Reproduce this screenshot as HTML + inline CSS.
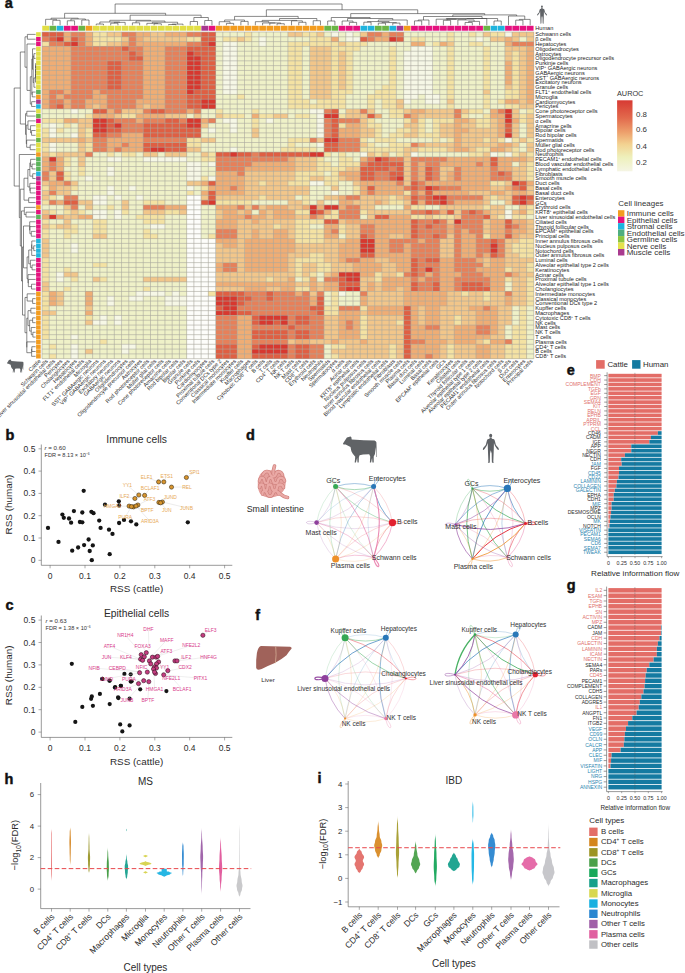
<!DOCTYPE html>
<html><head><meta charset="utf-8"><title>Figure</title>
<style>html,body{margin:0;padding:0;background:#fff;} svg{display:block;} text{font-family:"Liberation Sans",sans-serif;}</style>
</head><body>
<svg width="685" height="973" viewBox="0 0 685 973" font-family="Liberation Sans, sans-serif">
<rect width="685" height="973" fill="#fff"/>
<text x="4.8" y="8.1" font-size="14.5" font-weight="bold" fill="#111" stroke="#111" stroke-width="0.45">a</text>
<g transform="translate(42.0,32.0) scale(7.23235,4.80441)" shape-rendering="crispEdges">
<path fill="#f6f7e6" d="M40,0h1v1h-1zM42,0h1v1h-1zM64,0h1v1h-1zM30,1h1v1h-1zM42,1h2v1h-2zM60,1h1v1h-1zM25,2h2v1h-2zM30,2h1v1h-1zM25,3h2v1h-2zM51,3h3v1h-3zM25,4h2v1h-2zM50,4h4v1h-4zM25,5h2v1h-2zM50,5h4v1h-4zM25,6h2v1h-2zM50,6h4v1h-4zM25,7h2v1h-2zM50,7h4v1h-4zM25,8h2v1h-2zM50,8h4v1h-4zM25,9h2v1h-2zM50,9h4v1h-4zM25,10h2v1h-2zM50,10h4v1h-4zM25,11h2v1h-2zM50,11h4v1h-4zM25,12h2v1h-2zM50,12h4v1h-4zM50,13h2v1h-2zM53,13h2v1h-2zM50,14h1v1h-1zM53,14h2v1h-2zM4,16h1v1h-1zM37,16h2v1h-2zM38,17h1v1h-1zM25,18h2v1h-2zM31,18h1v1h-1zM38,18h1v1h-1zM1,19h1v1h-1zM26,19h1v1h-1zM38,19h1v1h-1zM1,20h1v1h-1zM23,20h1v1h-1zM26,20h1v1h-1zM38,20h1v1h-1zM1,21h1v1h-1zM4,21h1v1h-1zM38,21h1v1h-1zM64,22h1v1h-1zM1,23h1v1h-1zM38,23h1v1h-1zM1,24h1v1h-1zM26,24h1v1h-1zM44,25h1v1h-1zM51,25h1v1h-1zM62,25h1v1h-1zM64,25h1v1h-1zM9,26h2v1h-2zM14,26h6v1h-6zM20,27h2v1h-2zM23,27h1v1h-1zM9,28h1v1h-1zM20,28h2v1h-2zM9,29h1v1h-1zM20,29h2v1h-2zM6,30h1v1h-1zM20,30h2v1h-2zM23,30h1v1h-1zM37,31h2v1h-2zM9,32h1v1h-1zM12,32h1v1h-1zM20,32h1v1h-1zM9,33h1v1h-1zM40,33h1v1h-1zM7,34h2v1h-2zM10,34h1v1h-1zM13,34h1v1h-1zM7,35h2v1h-2zM7,37h2v1h-2zM10,37h1v1h-1zM64,37h1v1h-1zM7,38h2v1h-2zM10,38h1v1h-1zM64,38h1v1h-1zM15,40h2v1h-2zM4,44h1v1h-1zM4,45h1v1h-1zM2,50h1v1h-1zM2,51h1v1h-1zM13,54h4v1h-4zM18,54h1v1h-1zM41,54h1v1h-1zM9,55h1v1h-1zM12,55h2v1h-2zM17,55h3v1h-3zM9,56h1v1h-1zM17,56h3v1h-3zM8,59h1v1h-1zM10,59h1v1h-1zM7,60h2v1h-2zM10,60h1v1h-1zM4,63h1v1h-1zM4,65h1v1h-1zM11,65h2v1h-2zM4,66h1v1h-1zM11,66h1v1h-1zM4,67h1v1h-1z"/>
<path fill="#eff1c8" d="M24,0h4v1h-4zM29,0h5v1h-5zM39,0h1v1h-1zM41,0h1v1h-1zM43,0h1v1h-1zM50,0h6v1h-6zM57,0h2v1h-2zM60,0h1v1h-1zM24,1h1v1h-1zM29,1h1v1h-1zM31,1h6v1h-6zM41,1h1v1h-1zM50,1h1v1h-1zM53,1h3v1h-3zM57,1h3v1h-3zM61,1h1v1h-1zM66,1h1v1h-1zM24,2h1v1h-1zM27,2h3v1h-3zM31,2h3v1h-3zM45,2h6v1h-6zM53,2h1v1h-1zM57,2h2v1h-2zM61,2h3v1h-3zM24,3h1v1h-1zM27,3h7v1h-7zM36,3h1v1h-1zM44,3h4v1h-4zM49,3h2v1h-2zM54,3h2v1h-2zM57,3h4v1h-4zM62,3h2v1h-2zM24,4h1v1h-1zM27,4h7v1h-7zM36,4h1v1h-1zM43,4h5v1h-5zM49,4h1v1h-1zM54,4h2v1h-2zM57,4h4v1h-4zM62,4h2v1h-2zM24,5h1v1h-1zM27,5h7v1h-7zM36,5h1v1h-1zM43,5h5v1h-5zM49,5h1v1h-1zM54,5h2v1h-2zM57,5h4v1h-4zM62,5h2v1h-2zM24,6h1v1h-1zM27,6h7v1h-7zM36,6h1v1h-1zM43,6h5v1h-5zM49,6h1v1h-1zM54,6h2v1h-2zM57,6h4v1h-4zM62,6h2v1h-2zM24,7h1v1h-1zM27,7h7v1h-7zM36,7h1v1h-1zM43,7h5v1h-5zM49,7h1v1h-1zM54,7h2v1h-2zM57,7h4v1h-4zM62,7h2v1h-2zM24,8h1v1h-1zM27,8h7v1h-7zM36,8h1v1h-1zM43,8h5v1h-5zM49,8h1v1h-1zM54,8h2v1h-2zM57,8h4v1h-4zM62,8h2v1h-2zM24,9h1v1h-1zM27,9h7v1h-7zM36,9h1v1h-1zM43,9h5v1h-5zM49,9h1v1h-1zM54,9h2v1h-2zM57,9h4v1h-4zM62,9h2v1h-2zM24,10h1v1h-1zM27,10h7v1h-7zM36,10h1v1h-1zM43,10h5v1h-5zM49,10h1v1h-1zM54,10h2v1h-2zM57,10h4v1h-4zM62,10h2v1h-2zM24,11h1v1h-1zM27,11h7v1h-7zM36,11h1v1h-1zM43,11h4v1h-4zM49,11h1v1h-1zM54,11h2v1h-2zM57,11h4v1h-4zM62,11h2v1h-2zM24,12h1v1h-1zM27,12h7v1h-7zM36,12h1v1h-1zM43,12h3v1h-3zM49,12h1v1h-1zM54,12h2v1h-2zM57,12h4v1h-4zM62,12h2v1h-2zM24,13h3v1h-3zM28,13h6v1h-6zM36,13h1v1h-1zM42,13h3v1h-3zM49,13h1v1h-1zM52,13h1v1h-1zM55,13h1v1h-1zM57,13h4v1h-4zM62,13h2v1h-2zM24,14h10v1h-10zM37,14h1v1h-1zM42,14h3v1h-3zM46,14h1v1h-1zM51,14h2v1h-2zM55,14h1v1h-1zM57,14h4v1h-4zM62,14h1v1h-1zM24,15h10v1h-10zM42,15h3v1h-3zM46,15h1v1h-1zM50,15h6v1h-6zM57,15h4v1h-4zM62,15h2v1h-2zM0,16h4v1h-4zM5,16h2v1h-2zM22,16h2v1h-2zM25,16h4v1h-4zM30,16h7v1h-7zM41,16h1v1h-1zM46,16h2v1h-2zM61,16h1v1h-1zM66,16h1v1h-1zM0,17h6v1h-6zM20,17h1v1h-1zM22,17h2v1h-2zM28,17h1v1h-1zM34,17h1v1h-1zM37,17h1v1h-1zM47,17h1v1h-1zM59,17h2v1h-2zM24,18h1v1h-1zM27,18h2v1h-2zM30,18h1v1h-1zM32,18h6v1h-6zM46,18h4v1h-4zM53,18h1v1h-1zM0,19h1v1h-1zM2,19h1v1h-1zM4,19h1v1h-1zM23,19h3v1h-3zM27,19h2v1h-2zM30,19h8v1h-8zM47,19h3v1h-3zM53,19h1v1h-1zM66,19h1v1h-1zM3,20h2v1h-2zM22,20h1v1h-1zM24,20h2v1h-2zM27,20h2v1h-2zM30,20h8v1h-8zM47,20h2v1h-2zM53,20h1v1h-1zM66,20h1v1h-1zM2,21h2v1h-2zM22,21h7v1h-7zM30,21h8v1h-8zM47,21h1v1h-1zM66,21h1v1h-1zM24,22h10v1h-10zM45,22h1v1h-1zM49,22h5v1h-5zM55,22h1v1h-1zM2,23h3v1h-3zM22,23h12v1h-12zM35,23h3v1h-3zM46,23h2v1h-2zM66,23h1v1h-1zM2,24h3v1h-3zM22,24h4v1h-4zM27,24h6v1h-6zM38,24h1v1h-1zM66,24h1v1h-1zM7,25h2v1h-2zM10,25h1v1h-1zM13,25h1v1h-1zM16,25h1v1h-1zM20,25h2v1h-2zM40,25h1v1h-1zM42,25h2v1h-2zM48,25h1v1h-1zM52,25h7v1h-7zM63,25h1v1h-1zM4,26h1v1h-1zM6,26h3v1h-3zM11,26h3v1h-3zM20,26h2v1h-2zM39,26h2v1h-2zM43,26h1v1h-1zM4,27h1v1h-1zM6,27h14v1h-14zM22,27h1v1h-1zM40,27h1v1h-1zM65,27h1v1h-1zM3,28h2v1h-2zM6,28h3v1h-3zM10,28h10v1h-10zM22,28h2v1h-2zM4,29h1v1h-1zM6,29h3v1h-3zM10,29h10v1h-10zM22,29h2v1h-2zM39,29h1v1h-1zM4,30h2v1h-2zM7,30h13v1h-13zM5,31h15v1h-15zM41,31h2v1h-2zM5,32h4v1h-4zM10,32h2v1h-2zM13,32h7v1h-7zM21,32h1v1h-1zM37,32h3v1h-3zM41,32h2v1h-2zM4,33h5v1h-5zM10,33h10v1h-10zM21,33h1v1h-1zM37,33h3v1h-3zM41,33h2v1h-2zM2,34h1v1h-1zM5,34h2v1h-2zM9,34h1v1h-1zM11,34h2v1h-2zM14,34h6v1h-6zM35,34h1v1h-1zM37,34h2v1h-2zM9,35h2v1h-2zM12,35h2v1h-2zM17,35h3v1h-3zM29,35h5v1h-5zM37,35h1v1h-1zM39,35h2v1h-2zM62,35h2v1h-2zM0,36h3v1h-3zM5,36h1v1h-1zM7,36h2v1h-2zM10,36h1v1h-1zM12,36h2v1h-2zM22,36h2v1h-2zM46,36h4v1h-4zM53,36h2v1h-2zM64,36h2v1h-2zM2,37h1v1h-1zM6,37h1v1h-1zM9,37h1v1h-1zM12,37h2v1h-2zM22,37h2v1h-2zM29,37h1v1h-1zM9,38h1v1h-1zM11,38h2v1h-2zM17,38h3v1h-3zM22,38h2v1h-2zM44,38h1v1h-1zM67,38h1v1h-1zM1,39h2v1h-2zM4,39h3v1h-3zM9,39h5v1h-5zM17,39h3v1h-3zM22,39h2v1h-2zM5,40h2v1h-2zM9,40h6v1h-6zM17,40h3v1h-3zM22,40h2v1h-2zM37,40h2v1h-2zM1,41h2v1h-2zM5,41h2v1h-2zM9,41h5v1h-5zM15,41h5v1h-5zM22,41h2v1h-2zM1,42h2v1h-2zM4,42h3v1h-3zM9,42h5v1h-5zM16,42h4v1h-4zM22,42h1v1h-1zM41,42h1v1h-1zM1,43h19v1h-19zM1,44h3v1h-3zM5,44h15v1h-15zM1,45h3v1h-3zM5,45h15v1h-15zM1,46h19v1h-19zM1,47h19v1h-19zM1,48h6v1h-6zM9,48h11v1h-11zM1,49h2v1h-2zM4,49h16v1h-16zM1,50h1v1h-1zM5,50h15v1h-15zM38,50h1v1h-1zM1,51h1v1h-1zM3,51h1v1h-1zM5,51h2v1h-2zM9,51h5v1h-5zM35,51h1v1h-1zM38,51h1v1h-1zM1,52h19v1h-19zM64,52h1v1h-1zM1,53h2v1h-2zM4,53h10v1h-10zM15,53h5v1h-5zM64,53h1v1h-1zM3,54h3v1h-3zM7,54h6v1h-6zM17,54h1v1h-1zM19,54h1v1h-1zM39,54h1v1h-1zM42,54h2v1h-2zM3,55h3v1h-3zM7,55h2v1h-2zM10,55h2v1h-2zM14,55h3v1h-3zM39,55h1v1h-1zM41,55h3v1h-3zM3,56h3v1h-3zM7,56h2v1h-2zM10,56h7v1h-7zM39,56h1v1h-1zM41,56h3v1h-3zM1,57h5v1h-5zM7,57h13v1h-13zM65,57h1v1h-1zM67,57h1v1h-1zM2,58h4v1h-4zM7,58h13v1h-13zM65,58h1v1h-1zM67,58h1v1h-1zM1,59h5v1h-5zM7,59h1v1h-1zM9,59h1v1h-1zM11,59h9v1h-9zM65,59h1v1h-1zM67,59h1v1h-1zM1,60h5v1h-5zM9,60h1v1h-1zM11,60h9v1h-9zM65,60h1v1h-1zM67,60h1v1h-1zM1,61h19v1h-19zM64,61h1v1h-1zM67,61h1v1h-1zM1,62h19v1h-19zM64,62h1v1h-1zM67,62h1v1h-1zM1,63h3v1h-3zM5,63h15v1h-15zM64,63h1v1h-1zM67,63h1v1h-1zM0,64h8v1h-8zM9,64h11v1h-11zM67,64h1v1h-1zM0,65h1v1h-1zM2,65h2v1h-2zM5,65h6v1h-6zM13,65h7v1h-7zM39,65h1v1h-1zM67,65h1v1h-1zM0,66h4v1h-4zM5,66h1v1h-1zM7,66h4v1h-4zM12,66h8v1h-8zM39,66h1v1h-1zM67,66h1v1h-1zM0,67h1v1h-1zM2,67h2v1h-2zM5,67h15v1h-15zM39,67h1v1h-1zM67,67h1v1h-1z"/>
<path fill="#f4e2a3" d="M7,0h2v1h-2zM28,0h1v1h-1zM36,0h2v1h-2zM56,0h1v1h-1zM59,0h1v1h-1zM62,0h2v1h-2zM7,1h4v1h-4zM20,1h2v1h-2zM25,1h2v1h-2zM28,1h1v1h-1zM37,1h3v1h-3zM51,1h2v1h-2zM56,1h1v1h-1zM0,2h1v1h-1zM7,2h2v1h-2zM34,2h7v1h-7zM42,2h3v1h-3zM54,2h1v1h-1zM59,2h2v1h-2zM34,3h2v1h-2zM40,3h4v1h-4zM48,3h1v1h-1zM56,3h1v1h-1zM61,3h1v1h-1zM34,4h2v1h-2zM40,4h1v1h-1zM42,4h1v1h-1zM48,4h1v1h-1zM56,4h1v1h-1zM61,4h1v1h-1zM65,4h1v1h-1zM34,5h2v1h-2zM40,5h1v1h-1zM42,5h1v1h-1zM48,5h1v1h-1zM56,5h1v1h-1zM61,5h1v1h-1zM65,5h1v1h-1zM34,6h2v1h-2zM40,6h1v1h-1zM42,6h1v1h-1zM48,6h1v1h-1zM56,6h1v1h-1zM61,6h1v1h-1zM65,6h1v1h-1zM34,7h2v1h-2zM40,7h1v1h-1zM42,7h1v1h-1zM48,7h1v1h-1zM56,7h1v1h-1zM61,7h1v1h-1zM65,7h1v1h-1zM34,8h2v1h-2zM40,8h1v1h-1zM42,8h1v1h-1zM48,8h1v1h-1zM56,8h1v1h-1zM61,8h1v1h-1zM65,8h1v1h-1zM34,9h2v1h-2zM40,9h1v1h-1zM42,9h1v1h-1zM48,9h1v1h-1zM56,9h1v1h-1zM61,9h1v1h-1zM65,9h1v1h-1zM34,10h2v1h-2zM40,10h1v1h-1zM42,10h1v1h-1zM48,10h1v1h-1zM56,10h1v1h-1zM61,10h1v1h-1zM65,10h1v1h-1zM34,11h2v1h-2zM40,11h1v1h-1zM42,11h1v1h-1zM47,11h2v1h-2zM56,11h1v1h-1zM61,11h1v1h-1zM65,11h1v1h-1zM34,12h2v1h-2zM40,12h3v1h-3zM46,12h3v1h-3zM56,12h1v1h-1zM64,12h2v1h-2zM27,13h1v1h-1zM34,13h2v1h-2zM40,13h2v1h-2zM45,13h4v1h-4zM56,13h1v1h-1zM61,13h1v1h-1zM64,13h2v1h-2zM34,14h3v1h-3zM38,14h4v1h-4zM45,14h1v1h-1zM47,14h2v1h-2zM61,14h1v1h-1zM63,14h1v1h-1zM34,15h8v1h-8zM45,15h1v1h-1zM47,15h2v1h-2zM56,15h1v1h-1zM61,15h1v1h-1zM64,15h2v1h-2zM24,16h1v1h-1zM29,16h1v1h-1zM48,16h2v1h-2zM59,16h2v1h-2zM67,16h1v1h-1zM6,17h1v1h-1zM11,17h2v1h-2zM25,17h3v1h-3zM30,17h2v1h-2zM35,17h2v1h-2zM41,17h1v1h-1zM48,17h2v1h-2zM58,17h1v1h-1zM61,17h1v1h-1zM66,17h1v1h-1zM0,18h3v1h-3zM29,18h1v1h-1zM45,18h1v1h-1zM50,18h1v1h-1zM52,18h1v1h-1zM54,18h3v1h-3zM60,18h2v1h-2zM66,18h1v1h-1zM3,19h1v1h-1zM29,19h1v1h-1zM41,19h1v1h-1zM45,19h2v1h-2zM52,19h1v1h-1zM54,19h1v1h-1zM60,19h2v1h-2zM0,20h1v1h-1zM2,20h1v1h-1zM6,20h1v1h-1zM46,20h1v1h-1zM49,20h2v1h-2zM52,20h1v1h-1zM54,20h1v1h-1zM0,21h1v1h-1zM6,21h1v1h-1zM46,21h1v1h-1zM48,21h2v1h-2zM52,21h3v1h-3zM20,22h2v1h-2zM34,22h3v1h-3zM44,22h1v1h-1zM46,22h3v1h-3zM54,22h1v1h-1zM56,22h1v1h-1zM61,22h1v1h-1zM63,22h1v1h-1zM65,22h1v1h-1zM67,22h1v1h-1zM0,23h1v1h-1zM6,23h1v1h-1zM20,23h2v1h-2zM34,23h1v1h-1zM45,23h1v1h-1zM48,23h3v1h-3zM0,24h1v1h-1zM6,24h1v1h-1zM33,24h5v1h-5zM44,24h6v1h-6zM52,24h4v1h-4zM60,24h2v1h-2zM65,24h1v1h-1zM1,25h1v1h-1zM9,25h1v1h-1zM11,25h2v1h-2zM23,25h1v1h-1zM39,25h1v1h-1zM41,25h1v1h-1zM46,25h1v1h-1zM49,25h1v1h-1zM59,25h2v1h-2zM65,25h1v1h-1zM67,25h1v1h-1zM3,26h1v1h-1zM22,26h2v1h-2zM38,26h1v1h-1zM41,26h2v1h-2zM3,27h1v1h-1zM38,27h2v1h-2zM41,27h3v1h-3zM67,27h1v1h-1zM5,28h1v1h-1zM38,28h4v1h-4zM67,28h1v1h-1zM3,29h1v1h-1zM5,29h1v1h-1zM35,29h4v1h-4zM40,29h1v1h-1zM67,29h1v1h-1zM3,30h1v1h-1zM22,30h1v1h-1zM35,30h2v1h-2zM39,30h2v1h-2zM67,30h1v1h-1zM30,31h1v1h-1zM34,31h3v1h-3zM39,31h2v1h-2zM62,31h2v1h-2zM0,32h1v1h-1zM4,32h1v1h-1zM22,32h1v1h-1zM43,32h1v1h-1zM20,33h1v1h-1zM43,33h1v1h-1zM50,33h1v1h-1zM1,34h1v1h-1zM30,34h1v1h-1zM36,34h1v1h-1zM48,34h1v1h-1zM62,34h1v1h-1zM0,35h1v1h-1zM14,35h3v1h-3zM24,35h5v1h-5zM36,35h1v1h-1zM48,35h2v1h-2zM9,36h1v1h-1zM51,36h2v1h-2zM61,36h1v1h-1zM67,36h1v1h-1zM1,37h1v1h-1zM3,37h1v1h-1zM5,37h1v1h-1zM11,37h1v1h-1zM17,37h2v1h-2zM35,37h2v1h-2zM40,37h1v1h-1zM44,37h1v1h-1zM67,37h1v1h-1zM13,38h4v1h-4zM39,38h2v1h-2zM51,38h2v1h-2zM54,38h3v1h-3zM63,38h1v1h-1zM65,38h2v1h-2zM0,39h1v1h-1zM7,39h2v1h-2zM14,39h3v1h-3zM35,39h4v1h-4zM1,40h1v1h-1zM4,40h1v1h-1zM7,40h2v1h-2zM32,40h1v1h-1zM35,40h2v1h-2zM41,40h1v1h-1zM0,41h1v1h-1zM3,41h2v1h-2zM7,41h2v1h-2zM14,41h1v1h-1zM35,41h4v1h-4zM41,41h1v1h-1zM0,42h1v1h-1zM3,42h1v1h-1zM14,42h2v1h-2zM23,42h1v1h-1zM35,42h4v1h-4zM61,42h1v1h-1zM35,43h4v1h-4zM66,43h2v1h-2zM65,44h3v1h-3zM65,45h3v1h-3zM37,46h2v1h-2zM66,46h2v1h-2zM0,47h1v1h-1zM35,47h4v1h-4zM0,48h1v1h-1zM7,48h2v1h-2zM35,48h1v1h-1zM38,48h2v1h-2zM67,48h1v1h-1zM0,49h1v1h-1zM3,49h1v1h-1zM35,49h1v1h-1zM38,49h2v1h-2zM64,49h1v1h-1zM67,49h1v1h-1zM0,50h1v1h-1zM35,50h1v1h-1zM37,50h1v1h-1zM46,50h1v1h-1zM49,50h1v1h-1zM0,51h1v1h-1zM4,51h1v1h-1zM8,51h1v1h-1zM31,51h1v1h-1zM36,51h1v1h-1zM46,51h1v1h-1zM64,51h1v1h-1zM67,51h1v1h-1zM67,52h1v1h-1zM3,53h1v1h-1zM14,53h1v1h-1zM35,53h2v1h-2zM67,53h1v1h-1zM0,54h1v1h-1zM23,54h1v1h-1zM40,54h1v1h-1zM58,54h1v1h-1zM61,54h1v1h-1zM67,54h1v1h-1zM0,55h1v1h-1zM40,55h1v1h-1zM61,55h1v1h-1zM67,55h1v1h-1zM0,56h1v1h-1zM40,56h1v1h-1zM67,56h1v1h-1zM0,57h1v1h-1zM39,57h2v1h-2zM44,57h1v1h-1zM66,57h1v1h-1zM39,58h2v1h-2zM66,58h1v1h-1zM0,59h1v1h-1zM6,59h1v1h-1zM44,59h1v1h-1zM57,59h1v1h-1zM66,59h1v1h-1zM0,60h1v1h-1zM44,60h1v1h-1zM49,60h1v1h-1zM57,60h1v1h-1zM66,60h1v1h-1zM0,61h1v1h-1zM44,61h1v1h-1zM65,61h2v1h-2zM0,62h1v1h-1zM44,62h1v1h-1zM65,62h2v1h-2zM0,63h1v1h-1zM44,63h1v1h-1zM65,63h2v1h-2zM8,64h1v1h-1zM61,64h1v1h-1zM65,64h2v1h-2zM1,65h1v1h-1zM40,65h2v1h-2zM48,65h1v1h-1zM56,65h1v1h-1zM64,65h3v1h-3zM48,66h1v1h-1zM56,66h1v1h-1zM64,66h3v1h-3zM1,67h1v1h-1zM40,67h1v1h-1zM48,67h1v1h-1zM56,67h1v1h-1zM64,67h3v1h-3z"/>
<path fill="#f2c68a" d="M9,0h2v1h-2zM15,0h2v1h-2zM34,0h2v1h-2zM38,0h1v1h-1zM44,0h1v1h-1zM61,0h1v1h-1zM65,0h3v1h-3zM11,1h1v1h-1zM14,1h6v1h-6zM27,1h1v1h-1zM62,1h2v1h-2zM65,1h1v1h-1zM67,1h1v1h-1zM9,2h2v1h-2zM41,2h1v1h-1zM56,2h1v1h-1zM37,3h3v1h-3zM64,3h3v1h-3zM37,4h3v1h-3zM41,4h1v1h-1zM64,4h1v1h-1zM66,4h1v1h-1zM37,5h3v1h-3zM41,5h1v1h-1zM64,5h1v1h-1zM66,5h1v1h-1zM37,6h3v1h-3zM41,6h1v1h-1zM66,6h1v1h-1zM37,7h3v1h-3zM41,7h1v1h-1zM66,7h1v1h-1zM37,8h3v1h-3zM41,8h1v1h-1zM66,8h1v1h-1zM37,9h3v1h-3zM41,9h1v1h-1zM66,9h1v1h-1zM37,10h3v1h-3zM41,10h1v1h-1zM66,10h1v1h-1zM37,11h3v1h-3zM41,11h1v1h-1zM64,11h1v1h-1zM66,11h1v1h-1zM37,12h3v1h-3zM61,12h1v1h-1zM66,12h1v1h-1zM37,13h3v1h-3zM66,13h1v1h-1zM49,14h1v1h-1zM56,14h1v1h-1zM66,14h1v1h-1zM7,15h1v1h-1zM14,15h1v1h-1zM49,15h1v1h-1zM66,15h2v1h-2zM11,16h3v1h-3zM42,16h2v1h-2zM45,16h1v1h-1zM50,16h1v1h-1zM53,16h4v1h-4zM58,16h1v1h-1zM65,16h1v1h-1zM10,17h1v1h-1zM17,17h3v1h-3zM21,17h1v1h-1zM24,17h1v1h-1zM32,17h2v1h-2zM42,17h3v1h-3zM52,17h5v1h-5zM65,17h1v1h-1zM67,17h1v1h-1zM5,18h2v1h-2zM44,18h1v1h-1zM59,18h1v1h-1zM62,18h1v1h-1zM67,18h1v1h-1zM5,19h2v1h-2zM22,19h1v1h-1zM44,19h1v1h-1zM50,19h2v1h-2zM55,19h2v1h-2zM58,19h2v1h-2zM62,19h1v1h-1zM65,19h1v1h-1zM67,19h1v1h-1zM5,20h1v1h-1zM29,20h1v1h-1zM44,20h2v1h-2zM51,20h1v1h-1zM55,20h2v1h-2zM59,20h4v1h-4zM65,20h1v1h-1zM67,20h1v1h-1zM5,21h1v1h-1zM29,21h1v1h-1zM44,21h2v1h-2zM50,21h2v1h-2zM55,21h2v1h-2zM58,21h5v1h-5zM65,21h1v1h-1zM67,21h1v1h-1zM0,22h5v1h-5zM6,22h1v1h-1zM22,22h2v1h-2zM38,22h1v1h-1zM58,22h3v1h-3zM62,22h1v1h-1zM66,22h1v1h-1zM5,23h1v1h-1zM44,23h1v1h-1zM53,23h4v1h-4zM58,23h5v1h-5zM65,23h1v1h-1zM67,23h1v1h-1zM5,24h1v1h-1zM20,24h2v1h-2zM50,24h2v1h-2zM56,24h1v1h-1zM59,24h1v1h-1zM64,24h1v1h-1zM67,24h1v1h-1zM0,25h1v1h-1zM2,25h4v1h-4zM14,25h2v1h-2zM17,25h3v1h-3zM22,25h1v1h-1zM45,25h1v1h-1zM47,25h1v1h-1zM50,25h1v1h-1zM61,25h1v1h-1zM66,25h1v1h-1zM5,26h1v1h-1zM35,26h3v1h-3zM50,26h1v1h-1zM67,26h1v1h-1zM5,27h1v1h-1zM35,27h3v1h-3zM50,27h1v1h-1zM66,27h1v1h-1zM35,28h3v1h-3zM42,28h2v1h-2zM50,28h1v1h-1zM55,28h2v1h-2zM65,28h2v1h-2zM1,29h1v1h-1zM28,29h7v1h-7zM50,29h1v1h-1zM55,29h1v1h-1zM65,29h2v1h-2zM1,30h1v1h-1zM28,30h7v1h-7zM37,30h2v1h-2zM41,30h1v1h-1zM50,30h1v1h-1zM55,30h1v1h-1zM65,30h2v1h-2zM0,31h1v1h-1zM4,31h1v1h-1zM20,31h2v1h-2zM28,31h2v1h-2zM31,31h3v1h-3zM43,31h1v1h-1zM50,31h1v1h-1zM64,31h1v1h-1zM2,32h2v1h-2zM28,32h9v1h-9zM40,32h1v1h-1zM62,32h2v1h-2zM67,32h1v1h-1zM0,33h1v1h-1zM2,33h2v1h-2zM28,33h9v1h-9zM59,33h3v1h-3zM64,33h1v1h-1zM67,33h1v1h-1zM0,34h1v1h-1zM22,34h1v1h-1zM24,34h6v1h-6zM31,34h4v1h-4zM39,34h2v1h-2zM44,34h4v1h-4zM49,34h1v1h-1zM61,34h1v1h-1zM63,34h2v1h-2zM5,35h2v1h-2zM11,35h1v1h-1zM34,35h2v1h-2zM38,35h1v1h-1zM43,35h3v1h-3zM47,35h1v1h-1zM50,35h1v1h-1zM61,35h1v1h-1zM64,35h1v1h-1zM3,36h1v1h-1zM6,36h1v1h-1zM11,36h1v1h-1zM28,36h1v1h-1zM30,36h1v1h-1zM34,36h2v1h-2zM44,36h2v1h-2zM55,36h6v1h-6zM62,36h2v1h-2zM66,36h1v1h-1zM0,37h1v1h-1zM4,37h1v1h-1zM14,37h3v1h-3zM19,37h1v1h-1zM24,37h1v1h-1zM27,37h1v1h-1zM31,37h1v1h-1zM45,37h6v1h-6zM57,37h1v1h-1zM62,37h2v1h-2zM65,37h1v1h-1zM3,38h2v1h-2zM24,38h1v1h-1zM31,38h1v1h-1zM35,38h2v1h-2zM45,38h1v1h-1zM53,38h1v1h-1zM57,38h1v1h-1zM62,38h1v1h-1zM3,39h1v1h-1zM27,39h2v1h-2zM30,39h5v1h-5zM41,39h1v1h-1zM56,39h1v1h-1zM61,39h1v1h-1zM67,39h1v1h-1zM0,40h1v1h-1zM2,40h2v1h-2zM27,40h5v1h-5zM33,40h2v1h-2zM42,40h2v1h-2zM61,40h1v1h-1zM67,40h1v1h-1zM27,41h2v1h-2zM30,41h2v1h-2zM34,41h1v1h-1zM42,41h2v1h-2zM61,41h1v1h-1zM67,41h1v1h-1zM7,42h2v1h-2zM27,42h2v1h-2zM30,42h2v1h-2zM34,42h1v1h-1zM42,42h2v1h-2zM48,42h2v1h-2zM56,42h1v1h-1zM66,42h2v1h-2zM0,43h1v1h-1zM27,43h1v1h-1zM39,43h3v1h-3zM55,43h2v1h-2zM64,43h2v1h-2zM0,44h1v1h-1zM24,44h1v1h-1zM27,44h1v1h-1zM35,44h6v1h-6zM55,44h2v1h-2zM64,44h1v1h-1zM0,45h1v1h-1zM24,45h4v1h-4zM35,45h6v1h-6zM55,45h2v1h-2zM64,45h1v1h-1zM0,46h1v1h-1zM24,46h4v1h-4zM34,46h3v1h-3zM39,46h2v1h-2zM55,46h2v1h-2zM64,46h2v1h-2zM24,47h4v1h-4zM34,47h1v1h-1zM39,47h2v1h-2zM46,47h2v1h-2zM61,47h1v1h-1zM64,47h4v1h-4zM27,48h1v1h-1zM34,48h1v1h-1zM36,48h2v1h-2zM40,48h3v1h-3zM47,48h2v1h-2zM61,48h1v1h-1zM64,48h3v1h-3zM27,49h1v1h-1zM34,49h1v1h-1zM36,49h2v1h-2zM40,49h3v1h-3zM47,49h2v1h-2zM65,49h2v1h-2zM3,50h2v1h-2zM24,50h11v1h-11zM36,50h1v1h-1zM39,50h1v1h-1zM47,50h2v1h-2zM66,50h2v1h-2zM7,51h1v1h-1zM14,51h6v1h-6zM24,51h7v1h-7zM32,51h2v1h-2zM44,51h2v1h-2zM65,51h2v1h-2zM0,52h1v1h-1zM35,52h2v1h-2zM38,52h1v1h-1zM44,52h1v1h-1zM46,52h1v1h-1zM65,52h2v1h-2zM0,53h1v1h-1zM24,53h4v1h-4zM31,53h2v1h-2zM38,53h1v1h-1zM44,53h1v1h-1zM46,53h1v1h-1zM49,53h1v1h-1zM65,53h2v1h-2zM2,54h1v1h-1zM37,54h1v1h-1zM45,54h5v1h-5zM56,54h2v1h-2zM59,54h2v1h-2zM62,54h2v1h-2zM65,54h2v1h-2zM2,55h1v1h-1zM45,55h5v1h-5zM56,55h5v1h-5zM62,55h2v1h-2zM65,55h2v1h-2zM2,56h1v1h-1zM45,56h5v1h-5zM56,56h8v1h-8zM65,56h2v1h-2zM6,57h1v1h-1zM52,57h1v1h-1zM55,57h4v1h-4zM63,57h2v1h-2zM0,58h2v1h-2zM44,58h1v1h-1zM52,58h1v1h-1zM55,58h5v1h-5zM63,58h2v1h-2zM39,59h2v1h-2zM45,59h5v1h-5zM52,59h1v1h-1zM55,59h2v1h-2zM58,59h2v1h-2zM63,59h2v1h-2zM6,60h1v1h-1zM39,60h2v1h-2zM45,60h4v1h-4zM52,60h1v1h-1zM55,60h2v1h-2zM58,60h2v1h-2zM63,60h2v1h-2zM39,61h2v1h-2zM45,61h5v1h-5zM55,61h2v1h-2zM63,61h1v1h-1zM39,62h2v1h-2zM45,62h5v1h-5zM55,62h2v1h-2zM63,62h1v1h-1zM39,63h2v1h-2zM45,63h5v1h-5zM55,63h2v1h-2zM62,63h2v1h-2zM34,64h1v1h-1zM37,64h3v1h-3zM41,64h3v1h-3zM45,64h5v1h-5zM56,64h1v1h-1zM60,64h1v1h-1zM42,65h6v1h-6zM49,65h1v1h-1zM55,65h1v1h-1zM57,65h3v1h-3zM62,65h2v1h-2zM6,66h1v1h-1zM40,66h8v1h-8zM49,66h1v1h-1zM55,66h1v1h-1zM57,66h3v1h-3zM62,66h2v1h-2zM41,67h7v1h-7zM49,67h1v1h-1zM55,67h1v1h-1zM57,67h3v1h-3zM62,67h2v1h-2z"/>
<path fill="#efad75" d="M3,0h1v1h-1zM6,0h1v1h-1zM13,0h2v1h-2zM17,0h3v1h-3zM47,0h1v1h-1zM3,1h1v1h-1zM6,1h1v1h-1zM13,1h1v1h-1zM40,1h1v1h-1zM46,1h2v1h-2zM64,1h1v1h-1zM6,2h1v1h-1zM11,2h1v1h-1zM13,2h7v1h-7zM51,2h2v1h-2zM55,2h1v1h-1zM64,2h1v1h-1zM0,3h4v1h-4zM14,3h3v1h-3zM67,3h1v1h-1zM0,4h4v1h-4zM14,4h3v1h-3zM67,4h1v1h-1zM0,5h4v1h-4zM14,5h3v1h-3zM67,5h1v1h-1zM0,6h4v1h-4zM14,6h3v1h-3zM64,6h1v1h-1zM67,6h1v1h-1zM0,7h4v1h-4zM14,7h3v1h-3zM64,7h1v1h-1zM67,7h1v1h-1zM0,8h4v1h-4zM14,8h3v1h-3zM64,8h1v1h-1zM67,8h1v1h-1zM0,9h4v1h-4zM14,9h3v1h-3zM64,9h1v1h-1zM67,9h1v1h-1zM0,10h4v1h-4zM14,10h3v1h-3zM64,10h1v1h-1zM67,10h1v1h-1zM0,11h4v1h-4zM14,11h3v1h-3zM67,11h1v1h-1zM0,12h1v1h-1zM3,12h1v1h-1zM7,12h1v1h-1zM14,12h3v1h-3zM67,12h1v1h-1zM0,13h1v1h-1zM2,13h1v1h-1zM7,13h2v1h-2zM14,13h3v1h-3zM67,13h1v1h-1zM0,14h1v1h-1zM3,14h1v1h-1zM6,14h3v1h-3zM13,14h4v1h-4zM64,14h2v1h-2zM67,14h1v1h-1zM0,15h1v1h-1zM3,15h1v1h-1zM6,15h1v1h-1zM8,15h1v1h-1zM13,15h1v1h-1zM15,15h2v1h-2zM9,16h1v1h-1zM20,16h1v1h-1zM51,16h2v1h-2zM62,16h1v1h-1zM7,17h3v1h-3zM13,17h4v1h-4zM29,17h1v1h-1zM46,17h1v1h-1zM51,17h1v1h-1zM62,17h2v1h-2zM3,18h2v1h-2zM13,18h1v1h-1zM22,18h1v1h-1zM51,18h1v1h-1zM57,18h2v1h-2zM63,18h1v1h-1zM65,18h1v1h-1zM42,19h2v1h-2zM57,19h1v1h-1zM63,19h1v1h-1zM41,20h3v1h-3zM57,20h2v1h-2zM63,20h1v1h-1zM11,21h3v1h-3zM41,21h3v1h-3zM57,21h1v1h-1zM63,21h1v1h-1zM5,22h1v1h-1zM9,22h5v1h-5zM57,22h1v1h-1zM9,23h2v1h-2zM12,23h2v1h-2zM52,23h1v1h-1zM57,23h1v1h-1zM63,23h2v1h-2zM9,24h1v1h-1zM11,24h3v1h-3zM57,24h2v1h-2zM62,24h2v1h-2zM0,26h1v1h-1zM2,26h1v1h-1zM34,26h1v1h-1zM44,26h1v1h-1zM56,26h6v1h-6zM63,26h4v1h-4zM0,27h1v1h-1zM2,27h1v1h-1zM29,27h6v1h-6zM52,27h1v1h-1zM55,27h5v1h-5zM61,27h1v1h-1zM63,27h2v1h-2zM0,28h1v1h-1zM2,28h1v1h-1zM28,28h7v1h-7zM52,28h1v1h-1zM58,28h4v1h-4zM63,28h2v1h-2zM24,29h3v1h-3zM41,29h3v1h-3zM52,29h1v1h-1zM56,29h1v1h-1zM58,29h4v1h-4zM24,30h4v1h-4zM42,30h2v1h-2zM52,30h1v1h-1zM56,30h1v1h-1zM58,30h4v1h-4zM1,31h2v1h-2zM22,31h1v1h-1zM24,31h4v1h-4zM44,31h5v1h-5zM53,31h9v1h-9zM67,31h1v1h-1zM1,32h1v1h-1zM23,32h3v1h-3zM27,32h1v1h-1zM44,32h1v1h-1zM46,32h4v1h-4zM58,32h4v1h-4zM64,32h1v1h-1zM22,33h1v1h-1zM24,33h4v1h-4zM44,33h1v1h-1zM46,33h4v1h-4zM52,33h1v1h-1zM54,33h5v1h-5zM62,33h2v1h-2zM65,33h2v1h-2zM41,34h1v1h-1zM50,34h1v1h-1zM2,35h1v1h-1zM41,35h2v1h-2zM46,35h1v1h-1zM52,35h1v1h-1zM57,35h4v1h-4zM17,36h3v1h-3zM24,36h3v1h-3zM31,36h3v1h-3zM36,36h1v1h-1zM38,36h1v1h-1zM41,36h1v1h-1zM50,36h1v1h-1zM25,37h2v1h-2zM28,37h1v1h-1zM30,37h1v1h-1zM32,37h3v1h-3zM39,37h1v1h-1zM55,37h1v1h-1zM61,37h1v1h-1zM66,37h1v1h-1zM0,38h1v1h-1zM2,38h1v1h-1zM5,38h2v1h-2zM25,38h3v1h-3zM29,38h2v1h-2zM32,38h3v1h-3zM38,38h1v1h-1zM48,38h3v1h-3zM24,39h3v1h-3zM29,39h1v1h-1zM42,39h9v1h-9zM62,39h2v1h-2zM65,39h2v1h-2zM24,40h3v1h-3zM39,40h2v1h-2zM46,40h5v1h-5zM56,40h1v1h-1zM62,40h2v1h-2zM66,40h1v1h-1zM29,41h1v1h-1zM32,41h2v1h-2zM39,41h1v1h-1zM46,41h5v1h-5zM56,41h1v1h-1zM58,41h1v1h-1zM62,41h2v1h-2zM65,41h2v1h-2zM29,42h1v1h-1zM32,42h2v1h-2zM39,42h2v1h-2zM46,42h2v1h-2zM50,42h1v1h-1zM58,42h2v1h-2zM62,42h2v1h-2zM65,42h1v1h-1zM24,43h3v1h-3zM28,43h7v1h-7zM42,43h2v1h-2zM46,43h2v1h-2zM52,43h1v1h-1zM58,43h2v1h-2zM25,44h2v1h-2zM28,44h7v1h-7zM41,44h3v1h-3zM46,44h2v1h-2zM50,44h1v1h-1zM58,44h2v1h-2zM28,45h7v1h-7zM41,45h3v1h-3zM46,45h2v1h-2zM50,45h1v1h-1zM58,45h2v1h-2zM28,46h6v1h-6zM41,46h3v1h-3zM46,46h5v1h-5zM58,46h2v1h-2zM61,46h1v1h-1zM28,47h6v1h-6zM41,47h1v1h-1zM44,47h2v1h-2zM48,47h3v1h-3zM55,47h2v1h-2zM60,47h1v1h-1zM62,47h2v1h-2zM24,48h1v1h-1zM28,48h6v1h-6zM43,48h4v1h-4zM49,48h2v1h-2zM55,48h2v1h-2zM62,48h2v1h-2zM24,49h1v1h-1zM28,49h6v1h-6zM43,49h4v1h-4zM49,49h2v1h-2zM55,49h2v1h-2zM60,49h4v1h-4zM40,50h1v1h-1zM44,50h2v1h-2zM53,50h1v1h-1zM55,50h3v1h-3zM61,50h3v1h-3zM65,50h1v1h-1zM34,51h1v1h-1zM37,51h1v1h-1zM47,51h4v1h-4zM52,51h1v1h-1zM55,51h2v1h-2zM62,51h2v1h-2zM24,52h11v1h-11zM37,52h1v1h-1zM39,52h2v1h-2zM45,52h1v1h-1zM47,52h4v1h-4zM55,52h2v1h-2zM62,52h2v1h-2zM28,53h3v1h-3zM33,53h2v1h-2zM37,53h1v1h-1zM39,53h2v1h-2zM45,53h1v1h-1zM47,53h2v1h-2zM50,53h1v1h-1zM55,53h2v1h-2zM62,53h2v1h-2zM1,54h1v1h-1zM6,54h1v1h-1zM35,54h1v1h-1zM50,54h6v1h-6zM1,55h1v1h-1zM6,55h1v1h-1zM37,55h1v1h-1zM44,55h1v1h-1zM50,55h6v1h-6zM64,55h1v1h-1zM1,56h1v1h-1zM6,56h1v1h-1zM37,56h1v1h-1zM44,56h1v1h-1zM50,56h6v1h-6zM64,56h1v1h-1zM45,57h5v1h-5zM51,57h1v1h-1zM53,57h2v1h-2zM59,57h2v1h-2zM62,57h1v1h-1zM6,58h1v1h-1zM41,58h3v1h-3zM45,58h5v1h-5zM51,58h1v1h-1zM53,58h2v1h-2zM60,58h3v1h-3zM27,59h2v1h-2zM41,59h3v1h-3zM51,59h1v1h-1zM53,59h2v1h-2zM60,59h3v1h-3zM27,60h2v1h-2zM41,60h1v1h-1zM43,60h1v1h-1zM51,60h1v1h-1zM53,60h2v1h-2zM60,60h3v1h-3zM27,61h2v1h-2zM41,61h1v1h-1zM43,61h1v1h-1zM51,61h2v1h-2zM57,61h3v1h-3zM62,61h1v1h-1zM27,62h2v1h-2zM41,62h3v1h-3zM51,62h4v1h-4zM57,62h3v1h-3zM62,62h1v1h-1zM27,63h2v1h-2zM41,63h3v1h-3zM51,63h4v1h-4zM57,63h5v1h-5zM27,64h2v1h-2zM35,64h2v1h-2zM40,64h1v1h-1zM44,64h1v1h-1zM53,64h3v1h-3zM57,64h3v1h-3zM62,64h2v1h-2zM27,65h2v1h-2zM51,65h4v1h-4zM60,65h2v1h-2zM27,66h2v1h-2zM51,66h4v1h-4zM60,66h2v1h-2zM27,67h2v1h-2zM51,67h2v1h-2zM54,67h1v1h-1zM60,67h2v1h-2z"/>
<path fill="#e6805a" d="M4,0h2v1h-2zM11,0h2v1h-2zM20,0h2v1h-2zM45,0h2v1h-2zM48,0h2v1h-2zM0,1h1v1h-1zM5,1h1v1h-1zM12,1h1v1h-1zM45,1h1v1h-1zM1,2h2v1h-2zM5,2h1v1h-1zM12,2h1v1h-1zM20,2h2v1h-2zM65,2h3v1h-3zM4,3h7v1h-7zM12,3h2v1h-2zM17,3h3v1h-3zM4,4h8v1h-8zM13,4h1v1h-1zM17,4h3v1h-3zM4,5h8v1h-8zM17,5h3v1h-3zM4,6h5v1h-5zM11,6h3v1h-3zM17,6h3v1h-3zM4,7h5v1h-5zM11,7h3v1h-3zM17,7h3v1h-3zM4,8h5v1h-5zM11,8h3v1h-3zM17,8h3v1h-3zM4,9h5v1h-5zM11,9h3v1h-3zM17,9h3v1h-3zM4,10h5v1h-5zM11,10h3v1h-3zM17,10h3v1h-3zM4,11h5v1h-5zM11,11h3v1h-3zM17,11h3v1h-3zM1,12h2v1h-2zM4,12h3v1h-3zM8,12h6v1h-6zM17,12h3v1h-3zM1,13h1v1h-1zM3,13h4v1h-4zM9,13h5v1h-5zM17,13h3v1h-3zM1,14h2v1h-2zM4,14h2v1h-2zM9,14h4v1h-4zM17,14h3v1h-3zM1,15h1v1h-1zM4,15h2v1h-2zM9,15h4v1h-4zM17,15h3v1h-3zM10,16h1v1h-1zM14,16h1v1h-1zM17,16h3v1h-3zM21,16h1v1h-1zM39,16h1v1h-1zM44,16h1v1h-1zM57,16h1v1h-1zM63,16h1v1h-1zM50,17h1v1h-1zM57,17h1v1h-1zM10,18h3v1h-3zM14,18h3v1h-3zM19,18h1v1h-1zM23,18h1v1h-1zM39,18h1v1h-1zM41,18h3v1h-3zM11,19h3v1h-3zM39,19h1v1h-1zM11,20h3v1h-3zM39,20h1v1h-1zM9,21h2v1h-2zM39,21h1v1h-1zM7,22h2v1h-2zM14,22h6v1h-6zM37,22h1v1h-1zM41,22h3v1h-3zM7,23h2v1h-2zM11,23h1v1h-1zM41,23h3v1h-3zM51,23h1v1h-1zM7,24h2v1h-2zM10,24h1v1h-1zM41,24h3v1h-3zM6,25h1v1h-1zM29,25h1v1h-1zM24,26h10v1h-10zM45,26h1v1h-1zM48,26h2v1h-2zM51,26h5v1h-5zM1,27h1v1h-1zM24,27h5v1h-5zM44,27h1v1h-1zM51,27h1v1h-1zM53,27h2v1h-2zM60,27h1v1h-1zM1,28h1v1h-1zM24,28h4v1h-4zM48,28h1v1h-1zM51,28h1v1h-1zM54,28h1v1h-1zM57,28h1v1h-1zM62,28h1v1h-1zM0,29h1v1h-1zM27,29h1v1h-1zM46,29h2v1h-2zM51,29h1v1h-1zM54,29h1v1h-1zM57,29h1v1h-1zM62,29h1v1h-1zM64,29h1v1h-1zM0,30h1v1h-1zM46,30h2v1h-2zM51,30h1v1h-1zM54,30h1v1h-1zM57,30h1v1h-1zM62,30h3v1h-3zM3,31h1v1h-1zM49,31h1v1h-1zM52,31h1v1h-1zM26,32h1v1h-1zM50,32h1v1h-1zM52,32h1v1h-1zM55,32h3v1h-3zM65,32h1v1h-1zM1,33h1v1h-1zM45,33h1v1h-1zM51,33h1v1h-1zM3,34h2v1h-2zM42,34h2v1h-2zM52,34h1v1h-1zM56,34h5v1h-5zM1,35h1v1h-1zM56,35h1v1h-1zM67,35h1v1h-1zM4,36h1v1h-1zM14,36h3v1h-3zM27,36h1v1h-1zM29,36h1v1h-1zM42,36h2v1h-2zM41,37h3v1h-3zM51,37h2v1h-2zM54,37h1v1h-1zM58,37h1v1h-1zM60,37h1v1h-1zM28,38h1v1h-1zM37,38h1v1h-1zM41,38h3v1h-3zM58,38h3v1h-3zM52,39h2v1h-2zM55,39h1v1h-1zM58,39h3v1h-3zM44,40h2v1h-2zM52,40h1v1h-1zM54,40h2v1h-2zM57,40h4v1h-4zM65,40h1v1h-1zM24,41h3v1h-3zM40,41h1v1h-1zM44,41h2v1h-2zM52,41h4v1h-4zM57,41h1v1h-1zM59,41h2v1h-2zM64,41h1v1h-1zM24,42h3v1h-3zM45,42h1v1h-1zM52,42h2v1h-2zM55,42h1v1h-1zM57,42h1v1h-1zM60,42h1v1h-1zM48,43h4v1h-4zM53,43h2v1h-2zM57,43h1v1h-1zM60,43h2v1h-2zM63,43h1v1h-1zM48,44h2v1h-2zM51,44h4v1h-4zM57,44h1v1h-1zM60,44h2v1h-2zM63,44h1v1h-1zM48,45h2v1h-2zM51,45h4v1h-4zM57,45h1v1h-1zM60,45h2v1h-2zM63,45h1v1h-1zM51,46h4v1h-4zM57,46h1v1h-1zM60,46h1v1h-1zM63,46h1v1h-1zM42,47h2v1h-2zM52,47h1v1h-1zM57,47h3v1h-3zM25,48h2v1h-2zM52,48h3v1h-3zM57,48h4v1h-4zM25,49h2v1h-2zM52,49h1v1h-1zM54,49h1v1h-1zM57,49h3v1h-3zM50,50h1v1h-1zM52,50h1v1h-1zM54,50h1v1h-1zM58,50h3v1h-3zM64,50h1v1h-1zM39,51h2v1h-2zM51,51h1v1h-1zM53,51h2v1h-2zM57,51h5v1h-5zM52,52h2v1h-2zM57,52h1v1h-1zM61,52h1v1h-1zM52,53h2v1h-2zM57,53h1v1h-1zM28,54h3v1h-3zM32,54h3v1h-3zM36,54h1v1h-1zM38,54h1v1h-1zM44,54h1v1h-1zM64,54h1v1h-1zM29,55h2v1h-2zM32,55h5v1h-5zM28,56h9v1h-9zM27,57h10v1h-10zM41,57h3v1h-3zM61,57h1v1h-1zM29,58h9v1h-9zM24,59h3v1h-3zM34,59h1v1h-1zM37,59h2v1h-2zM24,60h3v1h-3zM34,60h1v1h-1zM37,60h2v1h-2zM42,60h1v1h-1zM24,61h3v1h-3zM29,61h5v1h-5zM35,61h4v1h-4zM42,61h1v1h-1zM53,61h2v1h-2zM60,61h2v1h-2zM24,62h3v1h-3zM34,62h1v1h-1zM37,62h2v1h-2zM60,62h2v1h-2zM24,63h3v1h-3zM34,63h1v1h-1zM37,63h2v1h-2zM24,64h3v1h-3zM29,64h5v1h-5zM51,64h2v1h-2zM64,64h1v1h-1zM34,65h1v1h-1zM37,65h2v1h-2zM34,66h1v1h-1zM37,66h2v1h-2zM34,67h1v1h-1zM37,67h2v1h-2zM53,67h1v1h-1z"/>
<path fill="#df5f43" d="M0,0h3v1h-3zM22,0h2v1h-2zM1,1h1v1h-1zM4,1h1v1h-1zM22,1h2v1h-2zM44,1h1v1h-1zM49,1h1v1h-1zM3,2h1v1h-1zM22,2h1v1h-1zM11,3h1v1h-1zM20,3h4v1h-4zM12,4h1v1h-1zM21,4h3v1h-3zM12,5h2v1h-2zM22,5h2v1h-2zM9,6h2v1h-2zM22,6h2v1h-2zM9,7h2v1h-2zM22,7h2v1h-2zM9,8h2v1h-2zM22,8h2v1h-2zM9,9h2v1h-2zM22,9h2v1h-2zM9,10h2v1h-2zM22,10h2v1h-2zM9,11h2v1h-2zM22,11h2v1h-2zM21,12h3v1h-3zM20,13h4v1h-4zM20,14h2v1h-2zM2,15h1v1h-1zM20,15h2v1h-2zM7,16h2v1h-2zM15,16h2v1h-2zM40,16h1v1h-1zM45,17h1v1h-1zM9,18h1v1h-1zM17,18h2v1h-2zM40,18h1v1h-1zM9,19h1v1h-1zM14,19h6v1h-6zM40,19h1v1h-1zM64,19h1v1h-1zM9,20h2v1h-2zM14,20h8v1h-8zM40,20h1v1h-1zM64,20h1v1h-1zM7,21h2v1h-2zM14,21h8v1h-8zM40,21h1v1h-1zM14,23h6v1h-6zM39,23h2v1h-2zM14,24h1v1h-1zM17,24h3v1h-3zM39,24h2v1h-2zM24,25h2v1h-2zM27,25h2v1h-2zM30,25h7v1h-7zM47,26h1v1h-1zM62,26h1v1h-1zM45,27h5v1h-5zM62,27h1v1h-1zM44,28h4v1h-4zM49,28h1v1h-1zM53,28h1v1h-1zM2,29h1v1h-1zM44,29h2v1h-2zM48,29h2v1h-2zM53,29h1v1h-1zM63,29h1v1h-1zM2,30h1v1h-1zM44,30h2v1h-2zM48,30h1v1h-1zM53,30h1v1h-1zM23,31h1v1h-1zM51,31h1v1h-1zM66,31h1v1h-1zM45,32h1v1h-1zM51,32h1v1h-1zM54,32h1v1h-1zM66,32h1v1h-1zM23,33h1v1h-1zM53,33h1v1h-1zM23,34h1v1h-1zM51,34h1v1h-1zM53,34h1v1h-1zM65,34h1v1h-1zM67,34h1v1h-1zM3,35h2v1h-2zM22,35h1v1h-1zM51,35h1v1h-1zM53,35h2v1h-2zM65,35h1v1h-1zM38,37h1v1h-1zM53,37h1v1h-1zM56,37h1v1h-1zM59,37h1v1h-1zM46,38h2v1h-2zM61,38h1v1h-1zM39,39h2v1h-2zM51,39h1v1h-1zM54,39h1v1h-1zM64,39h1v1h-1zM51,40h1v1h-1zM53,40h1v1h-1zM64,40h1v1h-1zM51,41h1v1h-1zM44,42h1v1h-1zM51,42h1v1h-1zM54,42h1v1h-1zM64,42h1v1h-1zM62,43h1v1h-1zM44,46h2v1h-2zM62,46h1v1h-1zM51,47h1v1h-1zM53,47h2v1h-2zM51,48h1v1h-1zM51,49h1v1h-1zM51,50h1v1h-1zM41,51h1v1h-1zM41,52h3v1h-3zM51,52h1v1h-1zM54,52h1v1h-1zM58,52h3v1h-3zM41,53h1v1h-1zM51,53h1v1h-1zM54,53h1v1h-1zM58,53h4v1h-4zM24,54h4v1h-4zM31,54h1v1h-1zM27,55h2v1h-2zM31,55h1v1h-1zM38,55h1v1h-1zM27,56h1v1h-1zM38,56h1v1h-1zM24,57h1v1h-1zM37,57h2v1h-2zM50,57h1v1h-1zM27,58h2v1h-2zM38,58h1v1h-1zM50,58h1v1h-1zM29,59h1v1h-1zM35,59h2v1h-2zM50,59h1v1h-1zM29,60h1v1h-1zM32,60h1v1h-1zM35,60h2v1h-2zM50,60h1v1h-1zM34,61h1v1h-1zM50,61h1v1h-1zM29,62h5v1h-5zM35,62h2v1h-2zM50,62h1v1h-1zM29,63h5v1h-5zM35,63h2v1h-2zM50,63h1v1h-1zM50,64h1v1h-1zM24,65h3v1h-3zM29,65h1v1h-1zM35,65h2v1h-2zM50,65h1v1h-1zM24,66h3v1h-3zM35,66h2v1h-2zM50,66h1v1h-1zM24,67h3v1h-3zM29,67h5v1h-5zM35,67h2v1h-2zM50,67h1v1h-1z"/>
<path fill="#d7382f" d="M2,1h1v1h-1zM48,1h1v1h-1zM4,2h1v1h-1zM23,2h1v1h-1zM20,4h1v1h-1zM20,5h2v1h-2zM20,6h2v1h-2zM20,7h2v1h-2zM20,8h2v1h-2zM20,9h2v1h-2zM20,10h2v1h-2zM20,11h2v1h-2zM20,12h1v1h-1zM22,14h2v1h-2zM22,15h2v1h-2zM64,16h1v1h-1zM39,17h2v1h-2zM64,17h1v1h-1zM7,18h2v1h-2zM20,18h2v1h-2zM64,18h1v1h-1zM7,19h2v1h-2zM10,19h1v1h-1zM20,19h2v1h-2zM7,20h2v1h-2zM64,21h1v1h-1zM39,22h2v1h-2zM15,24h2v1h-2zM26,25h1v1h-1zM37,25h2v1h-2zM1,26h1v1h-1zM46,26h1v1h-1zM49,30h1v1h-1zM65,31h1v1h-1zM53,32h1v1h-1zM54,34h2v1h-2zM66,34h1v1h-1zM23,35h1v1h-1zM55,35h1v1h-1zM66,35h1v1h-1zM37,36h1v1h-1zM39,36h2v1h-2zM37,37h1v1h-1zM1,38h1v1h-1zM57,39h1v1h-1zM44,43h2v1h-2zM44,44h2v1h-2zM62,44h1v1h-1zM44,45h2v1h-2zM62,45h1v1h-1zM53,49h1v1h-1zM41,50h3v1h-3zM42,51h2v1h-2zM42,53h2v1h-2zM24,55h3v1h-3zM24,56h3v1h-3zM25,57h2v1h-2zM24,58h3v1h-3zM30,59h4v1h-4zM30,60h2v1h-2zM33,60h1v1h-1zM30,65h4v1h-4zM29,66h5v1h-5z"/>
<path fill="#fdfdfa" d="M20,34h2v1h-2zM20,35h2v1h-2zM20,36h2v1h-2zM20,37h2v1h-2zM20,38h2v1h-2zM20,39h2v1h-2zM20,40h2v1h-2zM20,41h2v1h-2zM20,42h2v1h-2zM20,43h4v1h-4zM20,44h4v1h-4zM20,45h4v1h-4zM20,46h4v1h-4zM20,47h4v1h-4zM20,48h4v1h-4zM20,49h4v1h-4zM20,50h4v1h-4zM20,51h4v1h-4zM20,52h4v1h-4zM20,53h4v1h-4zM20,54h3v1h-3zM20,55h4v1h-4zM20,56h4v1h-4zM20,57h4v1h-4zM20,58h4v1h-4zM20,59h4v1h-4zM20,60h4v1h-4zM20,61h4v1h-4zM20,62h4v1h-4zM20,63h4v1h-4zM20,64h4v1h-4zM20,65h4v1h-4zM20,66h4v1h-4zM20,67h4v1h-4z"/>
</g>
<path d="M42.00,32.00V358.70M49.23,32.00V358.70M56.46,32.00V358.70M63.70,32.00V358.70M70.93,32.00V358.70M78.16,32.00V358.70M85.39,32.00V358.70M92.63,32.00V358.70M99.86,32.00V358.70M107.09,32.00V358.70M114.32,32.00V358.70M121.56,32.00V358.70M128.79,32.00V358.70M136.02,32.00V358.70M143.25,32.00V358.70M150.49,32.00V358.70M157.72,32.00V358.70M164.95,32.00V358.70M172.18,32.00V358.70M179.41,32.00V358.70M186.65,32.00V358.70M193.88,32.00V358.70M201.11,32.00V358.70M208.34,32.00V358.70M215.58,32.00V358.70M222.81,32.00V358.70M230.04,32.00V358.70M237.27,32.00V358.70M244.51,32.00V358.70M251.74,32.00V358.70M258.97,32.00V358.70M266.20,32.00V358.70M273.44,32.00V358.70M280.67,32.00V358.70M287.90,32.00V358.70M295.13,32.00V358.70M302.36,32.00V358.70M309.60,32.00V358.70M316.83,32.00V358.70M324.06,32.00V358.70M331.29,32.00V358.70M338.53,32.00V358.70M345.76,32.00V358.70M352.99,32.00V358.70M360.22,32.00V358.70M367.46,32.00V358.70M374.69,32.00V358.70M381.92,32.00V358.70M389.15,32.00V358.70M396.39,32.00V358.70M403.62,32.00V358.70M410.85,32.00V358.70M418.08,32.00V358.70M425.31,32.00V358.70M432.55,32.00V358.70M439.78,32.00V358.70M447.01,32.00V358.70M454.24,32.00V358.70M461.48,32.00V358.70M468.71,32.00V358.70M475.94,32.00V358.70M483.17,32.00V358.70M490.41,32.00V358.70M497.64,32.00V358.70M504.87,32.00V358.70M512.10,32.00V358.70M519.34,32.00V358.70M526.57,32.00V358.70M533.80,32.00V358.70M42.00,32.00H533.80M42.00,36.80H533.80M42.00,41.61H533.80M42.00,46.41H533.80M42.00,51.22H533.80M42.00,56.02H533.80M42.00,60.83H533.80M42.00,65.63H533.80M42.00,70.44H533.80M42.00,75.24H533.80M42.00,80.04H533.80M42.00,84.85H533.80M42.00,89.65H533.80M42.00,94.46H533.80M42.00,99.26H533.80M42.00,104.07H533.80M42.00,108.87H533.80M42.00,113.68H533.80M42.00,118.48H533.80M42.00,123.28H533.80M42.00,128.09H533.80M42.00,132.89H533.80M42.00,137.70H533.80M42.00,142.50H533.80M42.00,147.31H533.80M42.00,152.11H533.80M42.00,156.91H533.80M42.00,161.72H533.80M42.00,166.52H533.80M42.00,171.33H533.80M42.00,176.13H533.80M42.00,180.94H533.80M42.00,185.74H533.80M42.00,190.55H533.80M42.00,195.35H533.80M42.00,200.15H533.80M42.00,204.96H533.80M42.00,209.76H533.80M42.00,214.57H533.80M42.00,219.37H533.80M42.00,224.18H533.80M42.00,228.98H533.80M42.00,233.79H533.80M42.00,238.59H533.80M42.00,243.39H533.80M42.00,248.20H533.80M42.00,253.00H533.80M42.00,257.81H533.80M42.00,262.61H533.80M42.00,267.42H533.80M42.00,272.22H533.80M42.00,277.02H533.80M42.00,281.83H533.80M42.00,286.63H533.80M42.00,291.44H533.80M42.00,296.24H533.80M42.00,301.05H533.80M42.00,305.85H533.80M42.00,310.66H533.80M42.00,315.46H533.80M42.00,320.26H533.80M42.00,325.07H533.80M42.00,329.87H533.80M42.00,334.68H533.80M42.00,339.48H533.80M42.00,344.29H533.80M42.00,349.09H533.80M42.00,353.90H533.80M42.00,358.70H533.80" stroke="#aaa89e" stroke-width="0.6" fill="none"/>
<rect x="42.25" y="25.8" width="6.73" height="4.9" fill="#e2df45"/>
<rect x="49.48" y="25.8" width="6.73" height="4.9" fill="#6ab546"/>
<rect x="56.71" y="25.8" width="6.73" height="4.9" fill="#20b4de"/>
<rect x="63.95" y="25.8" width="6.73" height="4.9" fill="#e5127f"/>
<rect x="71.18" y="25.8" width="6.73" height="4.9" fill="#e5127f"/>
<rect x="78.41" y="25.8" width="6.73" height="4.9" fill="#6ab546"/>
<rect x="85.64" y="25.8" width="6.73" height="4.9" fill="#f39c1f"/>
<rect x="92.88" y="25.8" width="6.73" height="4.9" fill="#e2df45"/>
<rect x="100.11" y="25.8" width="6.73" height="4.9" fill="#e2df45"/>
<rect x="107.34" y="25.8" width="6.73" height="4.9" fill="#e2df45"/>
<rect x="114.57" y="25.8" width="6.73" height="4.9" fill="#e2df45"/>
<rect x="121.81" y="25.8" width="6.73" height="4.9" fill="#e2df45"/>
<rect x="129.04" y="25.8" width="6.73" height="4.9" fill="#e2df45"/>
<rect x="136.27" y="25.8" width="6.73" height="4.9" fill="#e2df45"/>
<rect x="143.50" y="25.8" width="6.73" height="4.9" fill="#e2df45"/>
<rect x="150.74" y="25.8" width="6.73" height="4.9" fill="#e2df45"/>
<rect x="157.97" y="25.8" width="6.73" height="4.9" fill="#e2df45"/>
<rect x="165.20" y="25.8" width="6.73" height="4.9" fill="#e2df45"/>
<rect x="172.43" y="25.8" width="6.73" height="4.9" fill="#e2df45"/>
<rect x="179.66" y="25.8" width="6.73" height="4.9" fill="#e2df45"/>
<rect x="186.90" y="25.8" width="6.73" height="4.9" fill="#e2df45"/>
<rect x="194.13" y="25.8" width="6.73" height="4.9" fill="#e2df45"/>
<rect x="201.36" y="25.8" width="6.73" height="4.9" fill="#a8378f"/>
<rect x="208.59" y="25.8" width="6.73" height="4.9" fill="#e5127f"/>
<rect x="215.83" y="25.8" width="6.73" height="4.9" fill="#f39c1f"/>
<rect x="223.06" y="25.8" width="6.73" height="4.9" fill="#f39c1f"/>
<rect x="230.29" y="25.8" width="6.73" height="4.9" fill="#f39c1f"/>
<rect x="237.52" y="25.8" width="6.73" height="4.9" fill="#f39c1f"/>
<rect x="244.76" y="25.8" width="6.73" height="4.9" fill="#f39c1f"/>
<rect x="251.99" y="25.8" width="6.73" height="4.9" fill="#f39c1f"/>
<rect x="259.22" y="25.8" width="6.73" height="4.9" fill="#f39c1f"/>
<rect x="266.45" y="25.8" width="6.73" height="4.9" fill="#f39c1f"/>
<rect x="273.69" y="25.8" width="6.73" height="4.9" fill="#f39c1f"/>
<rect x="280.92" y="25.8" width="6.73" height="4.9" fill="#f39c1f"/>
<rect x="288.15" y="25.8" width="6.73" height="4.9" fill="#f39c1f"/>
<rect x="295.38" y="25.8" width="6.73" height="4.9" fill="#f39c1f"/>
<rect x="302.61" y="25.8" width="6.73" height="4.9" fill="#f39c1f"/>
<rect x="309.85" y="25.8" width="6.73" height="4.9" fill="#f39c1f"/>
<rect x="317.08" y="25.8" width="6.73" height="4.9" fill="#f39c1f"/>
<rect x="324.31" y="25.8" width="6.73" height="4.9" fill="#6ab546"/>
<rect x="331.54" y="25.8" width="6.73" height="4.9" fill="#6ab546"/>
<rect x="338.78" y="25.8" width="6.73" height="4.9" fill="#e5127f"/>
<rect x="346.01" y="25.8" width="6.73" height="4.9" fill="#e5127f"/>
<rect x="353.24" y="25.8" width="6.73" height="4.9" fill="#e5127f"/>
<rect x="360.47" y="25.8" width="6.73" height="4.9" fill="#20b4de"/>
<rect x="367.71" y="25.8" width="6.73" height="4.9" fill="#20b4de"/>
<rect x="374.94" y="25.8" width="6.73" height="4.9" fill="#6ab546"/>
<rect x="382.17" y="25.8" width="6.73" height="4.9" fill="#6ab546"/>
<rect x="389.40" y="25.8" width="6.73" height="4.9" fill="#20b4de"/>
<rect x="396.64" y="25.8" width="6.73" height="4.9" fill="#a8378f"/>
<rect x="403.87" y="25.8" width="6.73" height="4.9" fill="#f39c1f"/>
<rect x="411.10" y="25.8" width="6.73" height="4.9" fill="#e5127f"/>
<rect x="418.33" y="25.8" width="6.73" height="4.9" fill="#e5127f"/>
<rect x="425.56" y="25.8" width="6.73" height="4.9" fill="#e5127f"/>
<rect x="432.80" y="25.8" width="6.73" height="4.9" fill="#e5127f"/>
<rect x="440.03" y="25.8" width="6.73" height="4.9" fill="#e5127f"/>
<rect x="447.26" y="25.8" width="6.73" height="4.9" fill="#e5127f"/>
<rect x="454.49" y="25.8" width="6.73" height="4.9" fill="#e5127f"/>
<rect x="461.73" y="25.8" width="6.73" height="4.9" fill="#e5127f"/>
<rect x="468.96" y="25.8" width="6.73" height="4.9" fill="#e5127f"/>
<rect x="476.19" y="25.8" width="6.73" height="4.9" fill="#e5127f"/>
<rect x="483.42" y="25.8" width="6.73" height="4.9" fill="#6ab546"/>
<rect x="490.66" y="25.8" width="6.73" height="4.9" fill="#20b4de"/>
<rect x="497.89" y="25.8" width="6.73" height="4.9" fill="#20b4de"/>
<rect x="505.12" y="25.8" width="6.73" height="4.9" fill="#e5127f"/>
<rect x="512.35" y="25.8" width="6.73" height="4.9" fill="#e5127f"/>
<rect x="519.59" y="25.8" width="6.73" height="4.9" fill="#e5127f"/>
<rect x="526.82" y="25.8" width="6.73" height="4.9" fill="#e5127f"/>
<rect x="36.1" y="32.20" width="4.6" height="4.40" fill="#e2df45"/>
<rect x="36.1" y="37.00" width="4.6" height="4.40" fill="#e5127f"/>
<rect x="36.1" y="41.81" width="4.6" height="4.40" fill="#e5127f"/>
<rect x="36.1" y="46.61" width="4.6" height="4.40" fill="#e2df45"/>
<rect x="36.1" y="51.42" width="4.6" height="4.40" fill="#e2df45"/>
<rect x="36.1" y="56.22" width="4.6" height="4.40" fill="#e2df45"/>
<rect x="36.1" y="61.03" width="4.6" height="4.40" fill="#e2df45"/>
<rect x="36.1" y="65.83" width="4.6" height="4.40" fill="#e2df45"/>
<rect x="36.1" y="70.64" width="4.6" height="4.40" fill="#e2df45"/>
<rect x="36.1" y="75.44" width="4.6" height="4.40" fill="#e2df45"/>
<rect x="36.1" y="80.24" width="4.6" height="4.40" fill="#e2df45"/>
<rect x="36.1" y="85.05" width="4.6" height="4.40" fill="#e2df45"/>
<rect x="36.1" y="89.85" width="4.6" height="4.40" fill="#5bb45a"/>
<rect x="36.1" y="94.66" width="4.6" height="4.40" fill="#f39c1f"/>
<rect x="36.1" y="99.46" width="4.6" height="4.40" fill="#a8378f"/>
<rect x="36.1" y="104.27" width="4.6" height="4.40" fill="#20b4de"/>
<rect x="36.1" y="109.07" width="4.6" height="4.40" fill="#e2df45"/>
<rect x="36.1" y="113.88" width="4.6" height="4.40" fill="#6ab546"/>
<rect x="36.1" y="118.68" width="4.6" height="4.40" fill="#e5127f"/>
<rect x="36.1" y="123.48" width="4.6" height="4.40" fill="#e2df45"/>
<rect x="36.1" y="128.29" width="4.6" height="4.40" fill="#e2df45"/>
<rect x="36.1" y="133.09" width="4.6" height="4.40" fill="#e2df45"/>
<rect x="36.1" y="137.90" width="4.6" height="4.40" fill="#6ab546"/>
<rect x="36.1" y="142.70" width="4.6" height="4.40" fill="#e2df45"/>
<rect x="36.1" y="147.51" width="4.6" height="4.40" fill="#e2df45"/>
<rect x="36.1" y="152.31" width="4.6" height="4.40" fill="#f39c1f"/>
<rect x="36.1" y="157.11" width="4.6" height="4.40" fill="#5bb45a"/>
<rect x="36.1" y="161.92" width="4.6" height="4.40" fill="#5bb45a"/>
<rect x="36.1" y="166.72" width="4.6" height="4.40" fill="#5bb45a"/>
<rect x="36.1" y="171.53" width="4.6" height="4.40" fill="#20b4de"/>
<rect x="36.1" y="176.33" width="4.6" height="4.40" fill="#a8378f"/>
<rect x="36.1" y="181.14" width="4.6" height="4.40" fill="#e5127f"/>
<rect x="36.1" y="185.94" width="4.6" height="4.40" fill="#e5127f"/>
<rect x="36.1" y="190.75" width="4.6" height="4.40" fill="#e5127f"/>
<rect x="36.1" y="195.55" width="4.6" height="4.40" fill="#e5127f"/>
<rect x="36.1" y="200.35" width="4.6" height="4.40" fill="#e5127f"/>
<rect x="36.1" y="205.16" width="4.6" height="4.40" fill="#f39c1f"/>
<rect x="36.1" y="209.96" width="4.6" height="4.40" fill="#e5127f"/>
<rect x="36.1" y="214.77" width="4.6" height="4.40" fill="#5bb45a"/>
<rect x="36.1" y="219.57" width="4.6" height="4.40" fill="#e5127f"/>
<rect x="36.1" y="224.38" width="4.6" height="4.40" fill="#e5127f"/>
<rect x="36.1" y="229.18" width="4.6" height="4.40" fill="#e5127f"/>
<rect x="36.1" y="233.99" width="4.6" height="4.40" fill="#e5127f"/>
<rect x="36.1" y="238.79" width="4.6" height="4.40" fill="#20b4de"/>
<rect x="36.1" y="243.59" width="4.6" height="4.40" fill="#20b4de"/>
<rect x="36.1" y="248.40" width="4.6" height="4.40" fill="#20b4de"/>
<rect x="36.1" y="253.20" width="4.6" height="4.40" fill="#20b4de"/>
<rect x="36.1" y="258.01" width="4.6" height="4.40" fill="#e5127f"/>
<rect x="36.1" y="262.81" width="4.6" height="4.40" fill="#e5127f"/>
<rect x="36.1" y="267.62" width="4.6" height="4.40" fill="#e5127f"/>
<rect x="36.1" y="272.42" width="4.6" height="4.40" fill="#e5127f"/>
<rect x="36.1" y="277.22" width="4.6" height="4.40" fill="#e5127f"/>
<rect x="36.1" y="282.03" width="4.6" height="4.40" fill="#e5127f"/>
<rect x="36.1" y="286.83" width="4.6" height="4.40" fill="#e5127f"/>
<rect x="36.1" y="291.64" width="4.6" height="4.40" fill="#f39c1f"/>
<rect x="36.1" y="296.44" width="4.6" height="4.40" fill="#f39c1f"/>
<rect x="36.1" y="301.25" width="4.6" height="4.40" fill="#f39c1f"/>
<rect x="36.1" y="306.05" width="4.6" height="4.40" fill="#f39c1f"/>
<rect x="36.1" y="310.86" width="4.6" height="4.40" fill="#f39c1f"/>
<rect x="36.1" y="315.66" width="4.6" height="4.40" fill="#f39c1f"/>
<rect x="36.1" y="320.46" width="4.6" height="4.40" fill="#f39c1f"/>
<rect x="36.1" y="325.27" width="4.6" height="4.40" fill="#f39c1f"/>
<rect x="36.1" y="330.07" width="4.6" height="4.40" fill="#f39c1f"/>
<rect x="36.1" y="334.88" width="4.6" height="4.40" fill="#f39c1f"/>
<rect x="36.1" y="339.68" width="4.6" height="4.40" fill="#f39c1f"/>
<rect x="36.1" y="344.49" width="4.6" height="4.40" fill="#f39c1f"/>
<rect x="36.1" y="349.29" width="4.6" height="4.40" fill="#f39c1f"/>
<rect x="36.1" y="354.10" width="4.6" height="4.40" fill="#f39c1f"/>
<path d="M67.31,25.30V20.78H74.55V25.30M52.85,25.30V20.29H60.08V25.30M81.78,25.30V20.01H89.01V25.30M45.62,25.30V19.30H56.46V20.29M70.93,20.78V18.99H85.39V20.01M51.04,19.30V18.20H78.16V18.99M96.24,25.30V24.04H103.47V25.30M110.71,25.30V23.19H117.94V25.30M114.32,23.19V22.35H125.17V25.30M99.86,24.04V22.00H119.75V22.35M168.57,25.30V24.49H175.80V25.30M172.18,24.49V24.14H183.03V25.30M154.10,25.30V23.77H161.33V25.30M146.87,25.30V23.33H157.72V23.77M132.40,25.30V22.80H139.64V25.30M152.29,23.33V22.23H177.61V24.14M136.02,22.80V21.00H164.95V22.23M109.80,22.00V20.30H150.49V21.00M190.26,25.30V21.50H197.50V25.30M204.73,25.30V20.50H211.96V25.30M193.88,21.50V17.50H208.34V20.50M130.14,20.30V15.20H201.11V17.50M64.60,18.20V13.30H165.63V15.20M226.43,25.30V23.37H233.66V25.30M219.19,25.30V21.71H230.04V23.37M240.89,25.30V21.39H248.12V25.30M224.62,21.71V20.00H244.51V21.39M277.05,25.30V23.73H284.28V25.30M269.82,25.30V22.95H280.67V23.73M262.59,25.30V22.94H275.24V22.95M298.75,25.30V22.31H305.98V25.30M255.35,25.30V21.68H268.92V22.94M291.52,25.30V20.82H302.36V22.31M313.21,25.30V20.73H320.45V25.30M262.13,21.68V20.40H296.94V20.82M279.54,20.40V18.50H316.83V20.73M234.56,20.00V16.40H298.18V18.50M327.68,25.30V21.00H334.91V25.30M349.38,25.30V22.38H356.61V25.30M342.14,25.30V21.00H352.99V22.38M378.30,25.30V23.11H385.54V25.30M392.77,25.30V23.08H400.00V25.30M381.92,23.11V22.57H396.39V23.08M363.84,25.30V22.19H371.07V25.30M367.46,22.19V21.55H389.15V22.57M378.30,21.55V20.00H407.23V25.30M347.57,21.00V18.50H392.77V20.00M331.29,21.00V17.50H370.17V18.50M414.47,25.30V20.88H421.70V25.30M418.08,20.88V20.00H428.93V25.30M465.09,25.30V22.46H472.32V25.30M468.71,22.46V21.38H479.56V25.30M494.02,25.30V20.99H501.25V25.30M443.40,25.30V20.32H450.63V25.30M457.86,25.30V19.92H474.13V21.38M447.01,20.32V19.19H466.00V19.92M436.16,25.30V19.19H456.50V19.19M446.33,19.19V18.51H486.79V25.30M466.56,18.51V18.50H497.64V20.99M423.51,20.00V16.50H482.10V18.50M515.72,25.30V20.16H522.95V25.30M519.34,20.16V19.40H530.18V25.30M508.49,25.30V16.00H524.76V19.40M452.80,16.50V14.90H516.62V16.00M350.73,17.50V13.60H484.71V14.90M266.37,16.40V9.80H417.72V13.60M115.11,13.30V4.00H342.05V9.80" fill="none" stroke="#3a3a3a" stroke-width="0.6"/>
<path d="M35.60,63.23H35.57V68.03H35.60M35.57,65.63H35.55V72.84H35.60M35.55,69.23H35.52V77.64H35.60M35.52,73.44H35.50V82.45H35.60M35.60,53.62H33.95V58.42H35.60M35.50,77.94H33.95V87.25H35.60M33.95,56.02H33.22V82.60H33.95M35.60,48.82H32.53V69.31H33.22M35.60,92.06H32.22V96.86H35.60M32.53,59.06H31.81V94.46H32.22M35.60,101.66H31.63V106.47H35.60M31.81,76.76H30.29V104.07H31.63M35.60,34.40H27.38V39.21H35.60M35.60,44.01H27.01V90.41H30.29M27.38,36.80H25.00V67.21H27.01M35.60,130.49H31.56V135.29H35.60M35.60,125.69H30.56V132.89H31.56M35.60,144.90H30.20V149.71H35.60M35.60,120.88H27.96V129.29H30.56M35.60,111.27H26.80V116.08H35.60M35.60,140.10H26.65V147.31H30.20M27.96,125.09H26.31V143.70H26.65M26.80,113.68H25.50V134.39H26.31M25.00,52.01H20.30V124.03H25.50M35.60,173.73H32.71V178.53H35.60M35.60,164.12H32.05V168.93H35.60M35.60,159.32H30.60V166.52H32.05M35.60,188.14H30.20V192.95H35.60M30.60,162.92H29.85V176.13H32.71M35.60,183.34H29.83V190.55H30.20M35.60,197.75H28.68V202.56H35.60M29.85,169.53H27.87V186.94H29.83M27.87,178.23H24.00V200.15H28.68M35.60,212.17H26.03V216.97H35.60M35.60,207.36H24.30V214.57H26.03M35.60,245.80H33.73V250.60H35.60M35.60,265.01H32.04V269.82H35.60M35.60,240.99H31.78V248.20H33.73M31.78,244.60H31.69V255.41H35.60M35.60,284.23H31.53V289.04H35.60M35.60,231.38H31.31V236.19H35.60M35.60,260.21H30.39V267.42H32.04M35.60,226.58H29.89V233.79H31.31M35.60,221.77H29.70V230.18H29.89M31.69,250.00H28.72V263.81H30.39M35.60,279.43H28.32V286.63H31.53M35.60,274.62H28.02V283.03H28.32M28.72,256.91H27.09V278.83H28.02M29.70,225.98H23.50V267.87H27.09M35.60,332.28H32.87V337.08H35.60M35.60,298.64H32.62V303.45H35.60M35.60,317.86H32.62V322.67H35.60M35.60,346.69H31.83V351.49H35.60M31.83,349.09H31.61V356.30H35.60M35.60,327.47H31.24V334.68H32.87M35.60,308.25H30.85V313.06H35.60M32.62,320.26H29.61V331.07H31.24M30.85,310.66H28.01V325.67H29.61M35.60,293.84H27.16V301.05H32.62M35.60,341.88H26.82V352.69H31.61M28.01,318.16H26.81V347.29H26.82M27.16,297.44H25.00V332.73H26.81M23.50,246.92H22.50V315.08H25.00M24.30,210.96H21.50V281.00H22.50M24.00,189.19H20.30V245.98H21.50M35.60,154.51H19.30V217.59H20.30M20.30,88.02H14.20V186.05H19.30" fill="none" stroke="#3a3a3a" stroke-width="0.6"/>
<g font-size="5.6" fill="#222">
<text x="535.3" y="30.16">Human</text>
<text x="535.3" y="36.36">Schwann cells</text>
<text x="535.3" y="41.17">β cells</text>
<text x="535.3" y="45.97">Hepatocytes</text>
<text x="535.3" y="50.78">Oligodendrocytes</text>
<text x="535.3" y="55.58">Astrocytes</text>
<text x="535.3" y="60.38">Oligodendrocyte precursor cells</text>
<text x="535.3" y="65.19">Purkinje cells</text>
<text x="535.3" y="69.99">VIP<tspan dy="-2.13" font-size="3.36">+</tspan><tspan dy="2.13"> GABAergic neurons</tspan></text>
<text x="535.3" y="74.80">GABAergic neurons</text>
<text x="535.3" y="79.60">SST<tspan dy="-2.13" font-size="3.36">+</tspan><tspan dy="2.13"> GABAergic neurons</tspan></text>
<text x="535.3" y="84.41">Excitatory neurons</text>
<text x="535.3" y="89.21">Granule cells</text>
<text x="535.3" y="94.02">FLT1<tspan dy="-2.13" font-size="3.36">+</tspan><tspan dy="2.13"> endothelial cells</tspan></text>
<text x="535.3" y="98.82">Microglia</text>
<text x="535.3" y="103.62">Cardiomyocytes</text>
<text x="535.3" y="108.43">Pericytes</text>
<text x="535.3" y="113.23">Cone photoreceptor cells</text>
<text x="535.3" y="118.04">Spermatocytes</text>
<text x="535.3" y="122.84">α cells</text>
<text x="535.3" y="127.65">Amacrine cells</text>
<text x="535.3" y="132.45">Bipolar cells</text>
<text x="535.3" y="137.25">Rod bipolar cells</text>
<text x="535.3" y="142.06">Spermatids</text>
<text x="535.3" y="146.86">Müller glial cells</text>
<text x="535.3" y="151.67">Rod photoreceptor cells</text>
<text x="535.3" y="156.47">Neutrophils</text>
<text x="535.3" y="161.28">PECAM1<tspan dy="-2.13" font-size="3.36">+</tspan><tspan dy="2.13"> endothelial cells</tspan></text>
<text x="535.3" y="166.08">Blood vascular endothelial cells</text>
<text x="535.3" y="170.89">Lymphatic endothelial cells</text>
<text x="535.3" y="175.69">Fibroblasts</text>
<text x="535.3" y="180.49">Smooth muscle cells</text>
<text x="535.3" y="185.30">Duct cells</text>
<text x="535.3" y="190.10">Basal cells</text>
<text x="535.3" y="194.91">Basal duct cells</text>
<text x="535.3" y="199.71">Enterocytes</text>
<text x="535.3" y="204.52">GCs</text>
<text x="535.3" y="209.32">Erythroid cells</text>
<text x="535.3" y="214.13">KRT8<tspan dy="-2.13" font-size="3.36">+</tspan><tspan dy="2.13"> epithelial cells</tspan></text>
<text x="535.3" y="218.93">Liver sinusoidal endothelial cells</text>
<text x="535.3" y="223.73">Ciliated cells</text>
<text x="535.3" y="228.54">Thyroid follicular cells</text>
<text x="535.3" y="233.34">EPCAM<tspan dy="-2.13" font-size="3.36">+</tspan><tspan dy="2.13"> epithelial cells</tspan></text>
<text x="535.3" y="238.15">Principal cells</text>
<text x="535.3" y="242.95">Inner annulus fibrosus cells</text>
<text x="535.3" y="247.76">Nucleus pulposus cells</text>
<text x="535.3" y="252.56">Notochord cells</text>
<text x="535.3" y="257.37">Outer annulus fibrosus cells</text>
<text x="535.3" y="262.17">Luminal cells</text>
<text x="535.3" y="266.97">Alveolar epithelial type 2 cells</text>
<text x="535.3" y="271.78">Keratinocytes</text>
<text x="535.3" y="276.58">Acinar cells</text>
<text x="535.3" y="281.39">Proximal tubule cells</text>
<text x="535.3" y="286.19">Alveolar epithelial type 1 cells</text>
<text x="535.3" y="291.00">Cholangiocytes</text>
<text x="535.3" y="295.80">Intermediate monocytes</text>
<text x="535.3" y="300.60">Classical monocytes</text>
<text x="535.3" y="305.41">Conventional DCs type 2</text>
<text x="535.3" y="310.21">Kupffer cells</text>
<text x="535.3" y="315.02">Macrophages</text>
<text x="535.3" y="319.82">Cytotoxic CD8<tspan dy="-2.13" font-size="3.36">+</tspan><tspan dy="2.13"> T cells</tspan></text>
<text x="535.3" y="324.63">NK cells</text>
<text x="535.3" y="329.43">Mast cells</text>
<text x="535.3" y="334.24">NK T cells</text>
<text x="535.3" y="339.04">T cells</text>
<text x="535.3" y="343.84">Plasma cells</text>
<text x="535.3" y="348.65">CD4<tspan dy="-2.13" font-size="3.36">+</tspan><tspan dy="2.13"> T cells</tspan></text>
<text x="535.3" y="353.45">B cells</text>
<text x="535.3" y="358.26">CD8<tspan dy="-2.13" font-size="3.36">+</tspan><tspan dy="2.13"> T cells</tspan></text>
</g>
<g font-size="5.6" fill="#2a2a2a" text-anchor="end">
<text transform="translate(41.10,361.60) rotate(-45)">Cattle</text>
<text transform="translate(48.32,361.60) rotate(-45)">Schwann cells</text>
<text transform="translate(55.55,361.60) rotate(-45)">Liver sinusoidal endothelial cells</text>
<text transform="translate(62.78,361.60) rotate(-45)">Pericytes</text>
<text transform="translate(70.01,361.60) rotate(-45)">Cholangiocytes</text>
<text transform="translate(77.25,361.60) rotate(-45)">Hepatocytes</text>
<text transform="translate(84.48,361.60) rotate(-45)">FLT1<tspan dy="-2.13" font-size="3.36">+</tspan><tspan dy="2.13"> endothelial cells</tspan></text>
<text transform="translate(91.71,361.60) rotate(-45)">Microglia</text>
<text transform="translate(98.94,361.60) rotate(-45)">SST<tspan dy="-2.13" font-size="3.36">+</tspan><tspan dy="2.13"> GABAergic neurons</tspan></text>
<text transform="translate(106.17,361.60) rotate(-45)">VIP<tspan dy="-2.13" font-size="3.36">+</tspan><tspan dy="2.13"> GABAergic neurons</tspan></text>
<text transform="translate(113.41,361.60) rotate(-45)">Excitatory neurons</text>
<text transform="translate(120.64,361.60) rotate(-45)">GABAergic neurons</text>
<text transform="translate(127.87,361.60) rotate(-45)">Oligodendrocytes</text>
<text transform="translate(135.10,361.60) rotate(-45)">Oligodendrocyte precursor cells</text>
<text transform="translate(142.34,361.60) rotate(-45)">Astrocytes</text>
<text transform="translate(149.57,361.60) rotate(-45)">Rod photoreceptor cells</text>
<text transform="translate(156.80,361.60) rotate(-45)">Müller glial cells</text>
<text transform="translate(164.03,361.60) rotate(-45)">Cone photoreceptor cells</text>
<text transform="translate(171.27,361.60) rotate(-45)">Amacrine cells</text>
<text transform="translate(178.50,361.60) rotate(-45)">Rod bipolar cells</text>
<text transform="translate(185.73,361.60) rotate(-45)">Bipolar cells</text>
<text transform="translate(192.96,361.60) rotate(-45)">Granule cells</text>
<text transform="translate(200.20,361.60) rotate(-45)">Purkinje cells</text>
<text transform="translate(207.43,361.60) rotate(-45)">Cardiomyocytes</text>
<text transform="translate(214.66,361.60) rotate(-45)">Proximal tubule cells</text>
<text transform="translate(221.89,361.60) rotate(-45)">Conventional DCs type 2</text>
<text transform="translate(229.12,361.60) rotate(-45)">Classical monocytes</text>
<text transform="translate(236.36,361.60) rotate(-45)">Intermediate monocytes</text>
<text transform="translate(243.59,361.60) rotate(-45)">Kupffer cells</text>
<text transform="translate(250.82,361.60) rotate(-45)">Macrophages</text>
<text transform="translate(258.05,361.60) rotate(-45)">Cytotoxic CD8<tspan dy="-2.13" font-size="3.36">+</tspan><tspan dy="2.13"> T cells</tspan></text>
<text transform="translate(265.29,361.60) rotate(-45)">B cells</text>
<text transform="translate(272.52,361.60) rotate(-45)">T cells</text>
<text transform="translate(279.75,361.60) rotate(-45)">CD4<tspan dy="-2.13" font-size="3.36">+</tspan><tspan dy="2.13"> T cells</tspan></text>
<text transform="translate(286.98,361.60) rotate(-45)">NK cells</text>
<text transform="translate(294.22,361.60) rotate(-45)">NK T cells</text>
<text transform="translate(301.45,361.60) rotate(-45)">Mast cells</text>
<text transform="translate(308.68,361.60) rotate(-45)">CD8<tspan dy="-2.13" font-size="3.36">+</tspan><tspan dy="2.13"> T cells</tspan></text>
<text transform="translate(315.91,361.60) rotate(-45)">Erythroid cells</text>
<text transform="translate(323.15,361.60) rotate(-45)">Neutrophils</text>
<text transform="translate(330.38,361.60) rotate(-45)">Spermatids</text>
<text transform="translate(337.61,361.60) rotate(-45)">Spermatocytes</text>
<text transform="translate(344.84,361.60) rotate(-45)">α cells</text>
<text transform="translate(352.07,361.60) rotate(-45)">Acinar cells</text>
<text transform="translate(359.31,361.60) rotate(-45)">KRT8<tspan dy="-2.13" font-size="3.36">+</tspan><tspan dy="2.13"> epithelial cells</tspan></text>
<text transform="translate(366.54,361.60) rotate(-45)">Nucleus pulposus cells</text>
<text transform="translate(373.77,361.60) rotate(-45)">Inner annulus fibrosus cells</text>
<text transform="translate(381.00,361.60) rotate(-45)">Blood vascular endothelial cells</text>
<text transform="translate(388.24,361.60) rotate(-45)">Lymphatic endothelial cells</text>
<text transform="translate(395.47,361.60) rotate(-45)">Fibroblasts</text>
<text transform="translate(402.70,361.60) rotate(-45)">Smooth muscle cells</text>
<text transform="translate(409.93,361.60) rotate(-45)">Plasma cells</text>
<text transform="translate(417.17,361.60) rotate(-45)">Basal duct cells</text>
<text transform="translate(424.40,361.60) rotate(-45)">Luminal cells</text>
<text transform="translate(431.63,361.60) rotate(-45)">Basal cells</text>
<text transform="translate(438.86,361.60) rotate(-45)">EPCAM<tspan dy="-2.13" font-size="3.36">+</tspan><tspan dy="2.13"> epithelial cells</tspan></text>
<text transform="translate(446.10,361.60) rotate(-45)">GCs</text>
<text transform="translate(453.33,361.60) rotate(-45)">Keratinocytes</text>
<text transform="translate(460.56,361.60) rotate(-45)">Ciliated cells</text>
<text transform="translate(467.79,361.60) rotate(-45)">Thyroid follicular cells</text>
<text transform="translate(475.02,361.60) rotate(-45)">Alveolar epithelial type 1 cells</text>
<text transform="translate(482.26,361.60) rotate(-45)">Alveolar epithelial type 2 cells</text>
<text transform="translate(489.49,361.60) rotate(-45)">PECAM1<tspan dy="-2.13" font-size="3.36">+</tspan><tspan dy="2.13"> endothelial cells</tspan></text>
<text transform="translate(496.72,361.60) rotate(-45)">Outer annulus fibrosus cells</text>
<text transform="translate(503.95,361.60) rotate(-45)">Notochord cells</text>
<text transform="translate(511.19,361.60) rotate(-45)">β cells</text>
<text transform="translate(518.42,361.60) rotate(-45)">Duct cells</text>
<text transform="translate(525.65,361.60) rotate(-45)">Enterocytes</text>
<text transform="translate(532.88,361.60) rotate(-45)">Principal cells</text>
</g>
<defs><linearGradient id="au" x1="0" y1="0" x2="0" y2="1"><stop offset="0" stop-color="#d73a33"/><stop offset="0.25" stop-color="#e26a4d"/><stop offset="0.45" stop-color="#eda06c"/><stop offset="0.62" stop-color="#f3d291"/><stop offset="0.8" stop-color="#eef0bb"/><stop offset="1" stop-color="#f5f5e4"/></linearGradient></defs>
<rect x="617.1" y="100.3" width="15.4" height="71.0" fill="url(#au)"/>
<text x="617" y="96.3" font-size="7.3" fill="#333">AUROC</text>
<text x="636" y="117.40" font-size="7.9" fill="#333">0.8</text>
<text x="636" y="132.10" font-size="7.9" fill="#333">0.6</text>
<text x="636" y="149.40" font-size="7.9" fill="#333">0.4</text>
<text x="636" y="164.90" font-size="7.9" fill="#333">0.2</text>
<text x="618.3" y="206" font-size="7.9" fill="#333">Cell lineages</text>
<rect x="618" y="210.20" width="6.4" height="6.47" fill="#f39c1f"/>
<text x="626.7" y="216.20" font-size="8.0" fill="#333">Immune cells</text>
<rect x="618" y="216.67" width="6.4" height="6.47" fill="#e5127f"/>
<text x="626.7" y="222.67" font-size="8.0" fill="#333">Epithelial cells</text>
<rect x="618" y="223.14" width="6.4" height="6.47" fill="#1db4e0"/>
<text x="626.7" y="229.14" font-size="8.0" fill="#333">Stromal cells</text>
<rect x="618" y="229.61" width="6.4" height="6.47" fill="#4fae7f"/>
<text x="626.7" y="235.61" font-size="8.0" fill="#333">Endothelial cells</text>
<rect x="618" y="236.08" width="6.4" height="6.47" fill="#8dc63f"/>
<text x="626.7" y="242.08" font-size="8.0" fill="#333">Germline cells</text>
<rect x="618" y="242.55" width="6.4" height="6.47" fill="#e4e24c"/>
<text x="626.7" y="248.55" font-size="8.0" fill="#333">Nerve cells</text>
<rect x="618" y="249.02" width="6.4" height="6.47" fill="#a93a8f"/>
<text x="626.7" y="255.02" font-size="8.0" fill="#333">Muscle cells</text>
<g transform="translate(537.10,5.70) scale(0.0403)" fill="#5f6266"><ellipse cx="120" cy="26" rx="23" ry="28"/><path d="M105,55 L135,55 L138,75 L172,82 L182,100 L200,170 L240,215 L245,240 L232,245 L215,225 L185,180 L170,140 L168,210 L165,300 L160,420 L168,440 L140,440 L138,420 L135,300 L122,250 L110,300 L107,420 L105,440 L77,440 L85,420 L80,300 L77,210 L75,140 L60,180 L30,225 L12,245 L0,240 L5,215 L45,170 L63,100 L73,82 L102,75 Z"/></g>
<path transform="translate(7.00,359.60) scale(0.0429)" d="M0,80 L20,50 L45,12 L85,0 L95,8 L100,35 L240,45 L362,48 L378,58 L383,70 L387,235 L381,235 L378,120 L372,160 L365,205 L352,230 L352,300 L337,300 L333,245 L322,300 L308,300 L312,230 L300,205 L230,208 L190,215 L182,240 L180,300 L166,300 L162,245 L148,300 L134,300 L140,232 L112,200 L96,170 L86,122 L30,94 L5,92 Z" fill="#606366"/>
<text x="5.4" y="439.7" font-size="14.5" font-weight="bold" fill="#111" stroke="#111" stroke-width="0.45">b</text>
<path d="M41.3,444.5 V565.3 H232.3" stroke="#555" stroke-width="0.6" fill="none"/>
<text x="35.4" y="451.86" font-size="8.5" fill="#2b2b2b" text-anchor="end">0.5</text>
<path d="M38.5,448.80H41.3" stroke="#555" stroke-width="0.5"/>
<text x="35.4" y="474.16" font-size="8.5" fill="#2b2b2b" text-anchor="end">0.4</text>
<path d="M38.5,471.10H41.3" stroke="#555" stroke-width="0.5"/>
<text x="35.4" y="496.46" font-size="8.5" fill="#2b2b2b" text-anchor="end">0.3</text>
<path d="M38.5,493.40H41.3" stroke="#555" stroke-width="0.5"/>
<text x="35.4" y="518.76" font-size="8.5" fill="#2b2b2b" text-anchor="end">0.2</text>
<path d="M38.5,515.70H41.3" stroke="#555" stroke-width="0.5"/>
<text x="35.4" y="541.06" font-size="8.5" fill="#2b2b2b" text-anchor="end">0.1</text>
<path d="M38.5,538.00H41.3" stroke="#555" stroke-width="0.5"/>
<text x="35.4" y="563.36" font-size="8.5" fill="#2b2b2b" text-anchor="end">0</text>
<path d="M38.5,560.30H41.3" stroke="#555" stroke-width="0.5"/>
<path d="M50.10,565.3v3.0" stroke="#555" stroke-width="0.5"/>
<text x="50.10" y="578.9" font-size="8.5" fill="#2b2b2b" text-anchor="middle">0</text>
<path d="M85.00,565.3v3.0" stroke="#555" stroke-width="0.5"/>
<text x="85.00" y="578.9" font-size="8.5" fill="#2b2b2b" text-anchor="middle">0.1</text>
<path d="M119.90,565.3v3.0" stroke="#555" stroke-width="0.5"/>
<text x="119.90" y="578.9" font-size="8.5" fill="#2b2b2b" text-anchor="middle">0.2</text>
<path d="M154.80,565.3v3.0" stroke="#555" stroke-width="0.5"/>
<text x="154.80" y="578.9" font-size="8.5" fill="#2b2b2b" text-anchor="middle">0.3</text>
<path d="M189.70,565.3v3.0" stroke="#555" stroke-width="0.5"/>
<text x="189.70" y="578.9" font-size="8.5" fill="#2b2b2b" text-anchor="middle">0.4</text>
<path d="M224.60,565.3v3.0" stroke="#555" stroke-width="0.5"/>
<text x="224.60" y="578.9" font-size="8.5" fill="#2b2b2b" text-anchor="middle">0.5</text>
<text x="136.6" y="442.7" font-size="10.3" fill="#2b2b2b" text-anchor="middle">Immune cells</text>
<text x="136.6" y="592.0" font-size="9.9" fill="#2b2b2b" text-anchor="middle">RSS (cattle)</text>
<text transform="translate(12.3,504.5) rotate(-90)" font-size="9.9" fill="#2b2b2b" text-anchor="middle">RSS (human)</text>
<text x="44.5" y="450.0" font-size="6.2" fill="#333"><tspan font-style="italic">r</tspan> = 0.60</text>
<text x="44.5" y="457.0" font-size="5.6" fill="#333">FDR = 8.13 × 10<tspan dy="-1.6" font-size="3.4">−6</tspan></text>
<circle cx="48.0" cy="527.9" r="2.15" fill="#151515"/>
<circle cx="58.5" cy="541.9" r="2.15" fill="#151515"/>
<circle cx="62.4" cy="514.6" r="2.15" fill="#151515"/>
<circle cx="63.8" cy="517.8" r="2.15" fill="#151515"/>
<circle cx="69.0" cy="518.5" r="2.15" fill="#151515"/>
<circle cx="71.1" cy="522.7" r="2.15" fill="#151515"/>
<circle cx="72.2" cy="550.7" r="2.15" fill="#151515"/>
<circle cx="73.9" cy="511.1" r="2.15" fill="#151515"/>
<circle cx="78.1" cy="547.5" r="2.15" fill="#151515"/>
<circle cx="79.9" cy="522.0" r="2.15" fill="#151515"/>
<circle cx="82.3" cy="512.5" r="2.15" fill="#151515"/>
<circle cx="82.3" cy="522.3" r="2.15" fill="#151515"/>
<circle cx="83.7" cy="490.8" r="2.15" fill="#151515"/>
<circle cx="84.1" cy="545.1" r="2.15" fill="#151515"/>
<circle cx="88.6" cy="539.5" r="2.15" fill="#151515"/>
<circle cx="89.7" cy="551.0" r="2.15" fill="#151515"/>
<circle cx="91.4" cy="511.8" r="2.15" fill="#151515"/>
<circle cx="91.8" cy="560.2" r="2.15" fill="#151515"/>
<circle cx="92.8" cy="545.4" r="2.15" fill="#151515"/>
<circle cx="93.5" cy="513.2" r="2.15" fill="#151515"/>
<circle cx="99.2" cy="520.6" r="2.15" fill="#151515"/>
<circle cx="100.6" cy="527.9" r="2.15" fill="#151515"/>
<circle cx="109.0" cy="529.7" r="2.15" fill="#151515"/>
<circle cx="109.7" cy="554.2" r="2.15" fill="#151515"/>
<circle cx="112.5" cy="533.9" r="2.15" fill="#151515"/>
<circle cx="118.8" cy="501.3" r="2.15" fill="#151515"/>
<circle cx="119.1" cy="505.5" r="2.15" fill="#151515"/>
<circle cx="119.1" cy="523.0" r="2.15" fill="#151515"/>
<circle cx="124.0" cy="519.9" r="2.15" fill="#151515"/>
<circle cx="131.0" cy="521.3" r="2.15" fill="#151515"/>
<circle cx="136.3" cy="524.4" r="2.15" fill="#151515"/>
<circle cx="187.8" cy="522.3" r="2.15" fill="#151515"/>
<circle cx="105.0" cy="504.7" r="2.15" fill="#151515"/>
<path d="M186.4,477.5L194.5,472.3M163.8,481.9L166.8,475.8M158.6,481.9L146.7,477.5M171.5,487.1L187,487.0M138.8,495.0L127.4,485.4M144.6,495.4L150.2,488.2M134.9,498.5L124.4,495.9M137.9,505.0L149.5,499.1M158.9,502.4L170.3,496.8M162.4,502.0L186.5,507.8M160.6,502.8L166.8,510.1M129.1,506.1L112.5,506.5M133.5,506.9L147.2,510.1M131.5,506.6L125.2,517.0M136.0,506.0L150.0,521.2" stroke="#c8c8c8" stroke-width="0.35" fill="none"/>
<circle cx="186.4" cy="477.5" r="2.1" fill="#d8952e" stroke="#2e220c" stroke-width="0.55"/>
<circle cx="163.8" cy="481.9" r="2.1" fill="#d8952e" stroke="#2e220c" stroke-width="0.55"/>
<circle cx="158.6" cy="481.9" r="2.1" fill="#d8952e" stroke="#2e220c" stroke-width="0.55"/>
<circle cx="171.5" cy="487.1" r="2.1" fill="#d8952e" stroke="#2e220c" stroke-width="0.55"/>
<circle cx="138.8" cy="495.0" r="2.1" fill="#d8952e" stroke="#2e220c" stroke-width="0.55"/>
<circle cx="144.6" cy="495.4" r="2.1" fill="#d8952e" stroke="#2e220c" stroke-width="0.55"/>
<circle cx="134.9" cy="498.5" r="2.1" fill="#d8952e" stroke="#2e220c" stroke-width="0.55"/>
<circle cx="137.9" cy="505.0" r="2.1" fill="#d8952e" stroke="#2e220c" stroke-width="0.55"/>
<circle cx="158.9" cy="502.4" r="2.1" fill="#d8952e" stroke="#2e220c" stroke-width="0.55"/>
<circle cx="162.4" cy="502.0" r="2.1" fill="#d8952e" stroke="#2e220c" stroke-width="0.55"/>
<circle cx="160.6" cy="502.8" r="2.1" fill="#d8952e" stroke="#2e220c" stroke-width="0.55"/>
<circle cx="129.1" cy="506.1" r="2.1" fill="#d8952e" stroke="#2e220c" stroke-width="0.55"/>
<circle cx="133.5" cy="506.9" r="2.1" fill="#d8952e" stroke="#2e220c" stroke-width="0.55"/>
<circle cx="131.5" cy="506.6" r="2.1" fill="#d8952e" stroke="#2e220c" stroke-width="0.55"/>
<circle cx="136.0" cy="506.0" r="2.1" fill="#d8952e" stroke="#2e220c" stroke-width="0.55"/>
<text x="194.5" y="474.20" font-size="4.95" fill="#e8a955" text-anchor="middle">SPI1</text>
<text x="166.8" y="477.70" font-size="4.95" fill="#e8a955" text-anchor="middle">ETS1</text>
<text x="146.7" y="479.40" font-size="4.95" fill="#e8a955" text-anchor="middle">ELF1</text>
<text x="187" y="488.90" font-size="4.95" fill="#e8a955" text-anchor="middle">REL</text>
<text x="127.4" y="487.30" font-size="4.95" fill="#e8a955" text-anchor="middle">YY1</text>
<text x="150.2" y="490.10" font-size="4.95" fill="#e8a955" text-anchor="middle">BCLAF1</text>
<text x="124.4" y="497.80" font-size="4.95" fill="#e8a955" text-anchor="middle">ILF2</text>
<text x="149.5" y="501.00" font-size="4.95" fill="#e8a955" text-anchor="middle">ATF3</text>
<text x="170.3" y="498.70" font-size="4.95" fill="#e8a955" text-anchor="middle">JUND</text>
<text x="186.5" y="509.70" font-size="4.95" fill="#e8a955" text-anchor="middle">JUNB</text>
<text x="166.8" y="512.00" font-size="4.95" fill="#e8a955" text-anchor="middle">JUN</text>
<text x="112.5" y="508.40" font-size="4.95" fill="#e8a955" text-anchor="middle">HMGA1</text>
<text x="147.2" y="512.00" font-size="4.95" fill="#e8a955" text-anchor="middle">BPTF</text>
<text x="125.2" y="518.90" font-size="4.95" fill="#e8a955" text-anchor="middle">PURA</text>
<text x="150.0" y="523.10" font-size="4.95" fill="#e8a955" text-anchor="middle">ARID3A</text>
<text x="5.4" y="609.8" font-size="14.5" font-weight="bold" fill="#111" stroke="#111" stroke-width="0.45">c</text>
<path d="M41.3,615.5 V737.4 H232.3" stroke="#555" stroke-width="0.6" fill="none"/>
<text x="35.4" y="623.16" font-size="8.5" fill="#2b2b2b" text-anchor="end">0.5</text>
<path d="M38.5,620.10H41.3" stroke="#555" stroke-width="0.5"/>
<text x="35.4" y="645.56" font-size="8.5" fill="#2b2b2b" text-anchor="end">0.4</text>
<path d="M38.5,642.50H41.3" stroke="#555" stroke-width="0.5"/>
<text x="35.4" y="667.96" font-size="8.5" fill="#2b2b2b" text-anchor="end">0.3</text>
<path d="M38.5,664.90H41.3" stroke="#555" stroke-width="0.5"/>
<text x="35.4" y="690.36" font-size="8.5" fill="#2b2b2b" text-anchor="end">0.2</text>
<path d="M38.5,687.30H41.3" stroke="#555" stroke-width="0.5"/>
<text x="35.4" y="712.76" font-size="8.5" fill="#2b2b2b" text-anchor="end">0.1</text>
<path d="M38.5,709.70H41.3" stroke="#555" stroke-width="0.5"/>
<text x="35.4" y="735.16" font-size="8.5" fill="#2b2b2b" text-anchor="end">0</text>
<path d="M38.5,732.10H41.3" stroke="#555" stroke-width="0.5"/>
<path d="M50.10,737.4v3.0" stroke="#555" stroke-width="0.5"/>
<text x="50.10" y="751.0" font-size="8.5" fill="#2b2b2b" text-anchor="middle">0</text>
<path d="M85.00,737.4v3.0" stroke="#555" stroke-width="0.5"/>
<text x="85.00" y="751.0" font-size="8.5" fill="#2b2b2b" text-anchor="middle">0.1</text>
<path d="M119.90,737.4v3.0" stroke="#555" stroke-width="0.5"/>
<text x="119.90" y="751.0" font-size="8.5" fill="#2b2b2b" text-anchor="middle">0.2</text>
<path d="M154.80,737.4v3.0" stroke="#555" stroke-width="0.5"/>
<text x="154.80" y="751.0" font-size="8.5" fill="#2b2b2b" text-anchor="middle">0.3</text>
<path d="M189.70,737.4v3.0" stroke="#555" stroke-width="0.5"/>
<text x="189.70" y="751.0" font-size="8.5" fill="#2b2b2b" text-anchor="middle">0.4</text>
<path d="M224.60,737.4v3.0" stroke="#555" stroke-width="0.5"/>
<text x="224.60" y="751.0" font-size="8.5" fill="#2b2b2b" text-anchor="middle">0.5</text>
<text x="136.6" y="617.0" font-size="10.3" fill="#2b2b2b" text-anchor="middle">Epithelial cells</text>
<text x="136.6" y="764.5" font-size="9.9" fill="#2b2b2b" text-anchor="middle">RSS (cattle)</text>
<text transform="translate(12.3,675.3) rotate(-90)" font-size="9.9" fill="#2b2b2b" text-anchor="middle">RSS (human)</text>
<text x="45.5" y="622.6" font-size="6.2" fill="#333"><tspan font-style="italic">r</tspan> = 0.63</text>
<text x="45.5" y="629.5" font-size="5.6" fill="#333">FDR = 1.38 × 10<tspan dy="-1.6" font-size="3.4">−6</tspan></text>
<circle cx="71.8" cy="663.8" r="2.1" fill="#151515"/>
<circle cx="75.3" cy="721.9" r="2.1" fill="#151515"/>
<circle cx="82.3" cy="706.9" r="2.1" fill="#151515"/>
<circle cx="91.1" cy="698.8" r="2.1" fill="#151515"/>
<circle cx="91.8" cy="696.4" r="2.1" fill="#151515"/>
<circle cx="92.9" cy="705.8" r="2.1" fill="#151515"/>
<circle cx="99.9" cy="693.9" r="2.1" fill="#151515"/>
<circle cx="102.3" cy="678.8" r="2.1" fill="#151515"/>
<circle cx="109.7" cy="704.1" r="2.1" fill="#151515"/>
<circle cx="109.7" cy="680.6" r="2.1" fill="#151515"/>
<circle cx="114.9" cy="687.6" r="2.1" fill="#151515"/>
<circle cx="118.4" cy="698.1" r="2.1" fill="#151515"/>
<circle cx="120.2" cy="724.4" r="2.1" fill="#151515"/>
<circle cx="120.9" cy="685.8" r="2.1" fill="#151515"/>
<circle cx="122.3" cy="731.4" r="2.1" fill="#151515"/>
<circle cx="124.4" cy="673.9" r="2.1" fill="#151515"/>
<circle cx="129.6" cy="725.4" r="2.1" fill="#151515"/>
<circle cx="130.7" cy="674.3" r="2.1" fill="#151515"/>
<circle cx="130.7" cy="681.6" r="2.1" fill="#151515"/>
<circle cx="140.2" cy="689.3" r="2.1" fill="#151515"/>
<circle cx="166.4" cy="691.1" r="2.1" fill="#151515"/>
<circle cx="131.6" cy="681.3" r="2.1" fill="#151515"/>
<circle cx="115.2" cy="687.0" r="2.1" fill="#151515"/>
<circle cx="120.8" cy="685.8" r="2.1" fill="#151515"/>
<circle cx="102.4" cy="678.9" r="2.1" fill="#151515"/>
<circle cx="109.5" cy="680.7" r="2.1" fill="#151515"/>
<circle cx="118.1" cy="697.3" r="2.1" fill="#151515"/>
<circle cx="129.6" cy="698.7" r="2.1" fill="#151515"/>
<path d="M148.4,629.2L149,650M210.7,629.6L203,635M125.3,635.3L142,654M166.7,640.0L152,656M109.5,646.2L140,659M142.6,646.2L146,652M191.3,645.5L158,656M166.3,650.7L156,657M106.5,657.2L140,659M125.9,657.2L142,660M186.2,656.8L175,661M208.6,656.8L177,661M94.2,668.0L139,672M117.3,668.0L140,672M141.6,667.0L150,664M164.7,667.0L156,668M185.1,667.4L168,671M200.5,678.2L164,675M106.5,678.7L139,673M128.9,678.7L144,681M171.2,678.2L164,675M122.8,689.5L139,684M154.5,688.9L154,673M182.1,689.1L158,662M126.9,700.3L144,681M147.9,699.7L149,682" stroke="#d0d0d0" stroke-width="0.35" fill="none"/>
<circle cx="202.9" cy="635.3" r="2.1" fill="#c43c80" stroke="#2a0a18" stroke-width="0.55"/>
<circle cx="141.2" cy="654.7" r="2.1" fill="#c43c80" stroke="#2a0a18" stroke-width="0.55"/>
<circle cx="146.3" cy="652.7" r="2.1" fill="#c43c80" stroke="#2a0a18" stroke-width="0.55"/>
<circle cx="144.3" cy="656.8" r="2.1" fill="#c43c80" stroke="#2a0a18" stroke-width="0.55"/>
<circle cx="140.6" cy="659.2" r="2.1" fill="#c43c80" stroke="#2a0a18" stroke-width="0.55"/>
<circle cx="142.6" cy="660.3" r="2.1" fill="#c43c80" stroke="#2a0a18" stroke-width="0.55"/>
<circle cx="149.4" cy="660.9" r="2.1" fill="#c43c80" stroke="#2a0a18" stroke-width="0.55"/>
<circle cx="152.4" cy="657.2" r="2.1" fill="#c43c80" stroke="#2a0a18" stroke-width="0.55"/>
<circle cx="156.1" cy="657.2" r="2.1" fill="#c43c80" stroke="#2a0a18" stroke-width="0.55"/>
<circle cx="157.6" cy="656.4" r="2.1" fill="#c43c80" stroke="#2a0a18" stroke-width="0.55"/>
<circle cx="150.8" cy="663.9" r="2.1" fill="#c43c80" stroke="#2a0a18" stroke-width="0.55"/>
<circle cx="158.6" cy="661.9" r="2.1" fill="#c43c80" stroke="#2a0a18" stroke-width="0.55"/>
<circle cx="156.5" cy="663.9" r="2.1" fill="#c43c80" stroke="#2a0a18" stroke-width="0.55"/>
<circle cx="154.5" cy="667.0" r="2.1" fill="#c43c80" stroke="#2a0a18" stroke-width="0.55"/>
<circle cx="156.5" cy="668.0" r="2.1" fill="#c43c80" stroke="#2a0a18" stroke-width="0.55"/>
<circle cx="153.5" cy="669.0" r="2.1" fill="#c43c80" stroke="#2a0a18" stroke-width="0.55"/>
<circle cx="155.5" cy="673.5" r="2.1" fill="#c43c80" stroke="#2a0a18" stroke-width="0.55"/>
<circle cx="154.5" cy="672.1" r="2.1" fill="#c43c80" stroke="#2a0a18" stroke-width="0.55"/>
<circle cx="147.3" cy="672.1" r="2.1" fill="#c43c80" stroke="#2a0a18" stroke-width="0.55"/>
<circle cx="139.6" cy="672.7" r="2.1" fill="#c43c80" stroke="#2a0a18" stroke-width="0.55"/>
<circle cx="167.8" cy="670.7" r="2.1" fill="#c43c80" stroke="#2a0a18" stroke-width="0.55"/>
<circle cx="163.7" cy="674.8" r="2.1" fill="#c43c80" stroke="#2a0a18" stroke-width="0.55"/>
<circle cx="174.9" cy="660.9" r="2.1" fill="#c43c80" stroke="#2a0a18" stroke-width="0.55"/>
<circle cx="177.0" cy="660.9" r="2.1" fill="#c43c80" stroke="#2a0a18" stroke-width="0.55"/>
<circle cx="143.7" cy="680.7" r="2.1" fill="#c43c80" stroke="#2a0a18" stroke-width="0.55"/>
<circle cx="148.8" cy="681.7" r="2.1" fill="#c43c80" stroke="#2a0a18" stroke-width="0.55"/>
<circle cx="138.5" cy="683.6" r="2.1" fill="#c43c80" stroke="#2a0a18" stroke-width="0.55"/>
<text x="148.4" y="631.10" font-size="4.95" fill="#d8398a" text-anchor="middle">DHF</text>
<text x="210.7" y="631.50" font-size="4.95" fill="#d8398a" text-anchor="middle">ELF3</text>
<text x="125.3" y="637.20" font-size="4.95" fill="#d8398a" text-anchor="middle">NR1H4</text>
<text x="166.7" y="641.90" font-size="4.95" fill="#d8398a" text-anchor="middle">MAFF</text>
<text x="109.5" y="648.10" font-size="4.95" fill="#d8398a" text-anchor="middle">ATF4</text>
<text x="142.6" y="648.10" font-size="4.95" fill="#d8398a" text-anchor="middle">FOXA3</text>
<text x="191.3" y="647.40" font-size="4.95" fill="#d8398a" text-anchor="middle">NFE2L2</text>
<text x="166.3" y="652.60" font-size="4.95" fill="#d8398a" text-anchor="middle">ATF3</text>
<text x="106.5" y="659.10" font-size="4.95" fill="#d8398a" text-anchor="middle">JUN</text>
<text x="125.9" y="659.10" font-size="4.95" fill="#d8398a" text-anchor="middle">KLF4</text>
<text x="186.2" y="658.70" font-size="4.95" fill="#d8398a" text-anchor="middle">ILF2</text>
<text x="208.6" y="658.70" font-size="4.95" fill="#d8398a" text-anchor="middle">HNF4G</text>
<text x="94.2" y="669.90" font-size="4.95" fill="#d8398a" text-anchor="middle">NFIB</text>
<text x="117.3" y="669.90" font-size="4.95" fill="#d8398a" text-anchor="middle">CEBPD</text>
<text x="141.6" y="668.90" font-size="4.95" fill="#d8398a" text-anchor="middle">NFIC</text>
<text x="164.7" y="668.90" font-size="4.95" fill="#d8398a" text-anchor="middle">YY1</text>
<text x="185.1" y="669.30" font-size="4.95" fill="#d8398a" text-anchor="middle">CDX2</text>
<text x="200.5" y="680.10" font-size="4.95" fill="#d8398a" text-anchor="middle">PITX1</text>
<text x="106.5" y="680.60" font-size="4.95" fill="#d8398a" text-anchor="middle">JUND</text>
<text x="128.9" y="680.60" font-size="4.95" fill="#d8398a" text-anchor="middle">PURA</text>
<text x="171.2" y="680.10" font-size="4.95" fill="#d8398a" text-anchor="middle">NFE2L1</text>
<text x="122.8" y="691.40" font-size="4.95" fill="#d8398a" text-anchor="middle">ARID3A</text>
<text x="154.5" y="690.80" font-size="4.95" fill="#d8398a" text-anchor="middle">HMGA1</text>
<text x="182.1" y="691.00" font-size="4.95" fill="#d8398a" text-anchor="middle">BCLAF1</text>
<text x="126.9" y="702.20" font-size="4.95" fill="#d8398a" text-anchor="middle">JUNB</text>
<text x="147.9" y="701.60" font-size="4.95" fill="#d8398a" text-anchor="middle">BPTF</text>
<text x="246.0" y="439.8" font-size="14.5" font-weight="bold" fill="#111" stroke="#111" stroke-width="0.45">d</text>
<path transform="translate(343.00,436.40) scale(0.0873)" d="M0,80 L20,50 L45,12 L85,0 L95,8 L100,35 L240,45 L362,48 L378,58 L383,70 L387,235 L381,235 L378,120 L372,160 L365,205 L352,230 L352,300 L337,300 L333,245 L322,300 L308,300 L312,230 L300,205 L230,208 L190,215 L182,240 L180,300 L166,300 L162,245 L148,300 L134,300 L140,232 L112,200 L96,170 L86,122 L30,94 L5,92 Z" fill="#606366"/>
<g transform="translate(482.80,433.90) scale(0.0656)" fill="#5f6266"><ellipse cx="120" cy="26" rx="23" ry="28"/><path d="M105,55 L135,55 L138,75 L172,82 L182,100 L200,170 L240,215 L245,240 L232,245 L215,225 L185,180 L170,140 L168,210 L165,300 L160,420 L168,440 L140,440 L138,420 L135,300 L122,250 L110,300 L107,420 L105,440 L77,440 L85,420 L80,300 L77,210 L75,140 L60,180 L30,225 L12,245 L0,240 L5,215 L45,170 L63,100 L73,82 L102,75 Z"/></g>
<path d="M263,472 C267,469.5 276,469.5 281,472.5 C285.5,475 286.5,480 285.5,485 C285,490 282,494 276,496.5 C270,498.5 263,497.5 260,493.5 C257.5,489.5 257.3,482 258.5,478 C259.5,474.5 261,473 263,472 Z" fill="#e5a09c"/><g fill="none" stroke-linecap="round" stroke-linejoin="round"><path d="M274.5,466 C273.5,469 273,471 273.3,474" stroke="#cd7f7b" stroke-width="3.6"/><path d="M263,474.5 C265,470.5 269,470.5 270,474 C271,477.5 275,477.5 276,474 C277,470.5 281,471 282.5,475" stroke="#cd7f7b" stroke-width="3.6"/><path d="M259.5,481 C260,477 264,477 264.3,480.5 C264.5,484 268,484 268.3,480.5 C268.5,477 272.5,477 273,480.5 C273.5,484 277.5,484 278,480.5 C278.5,477 283.5,477 284.5,481" stroke="#cd7f7b" stroke-width="3.6"/><path d="M259.5,487.5 C259.5,483.5 263.5,483.5 263.5,487.5 C263.5,491.5 267.5,491.5 267.5,487.5 C267.5,483.5 271.5,483.5 272,487.5 C272.5,491.5 276.5,491.5 277,487.5 C277.5,483.5 282.5,483.5 283.5,487.5" stroke="#cd7f7b" stroke-width="3.6"/><path d="M262.5,494 C262,490.5 266,490 267,493.5 C268,497 272,497 273,493.5 C274,490 278,490.5 278.5,494" stroke="#cd7f7b" stroke-width="3.6"/><path d="M278.5,492.5 C281,494.5 283.5,497 287.5,497.5" stroke="#cd7f7b" stroke-width="3.6"/><path d="M274.5,466 C273.5,469 273,471 273.3,474" stroke="#eaa9a5" stroke-width="2.3"/><path d="M263,474.5 C265,470.5 269,470.5 270,474 C271,477.5 275,477.5 276,474 C277,470.5 281,471 282.5,475" stroke="#eaa9a5" stroke-width="2.3"/><path d="M259.5,481 C260,477 264,477 264.3,480.5 C264.5,484 268,484 268.3,480.5 C268.5,477 272.5,477 273,480.5 C273.5,484 277.5,484 278,480.5 C278.5,477 283.5,477 284.5,481" stroke="#eaa9a5" stroke-width="2.3"/><path d="M259.5,487.5 C259.5,483.5 263.5,483.5 263.5,487.5 C263.5,491.5 267.5,491.5 267.5,487.5 C267.5,483.5 271.5,483.5 272,487.5 C272.5,491.5 276.5,491.5 277,487.5 C277.5,483.5 282.5,483.5 283.5,487.5" stroke="#eaa9a5" stroke-width="2.3"/><path d="M262.5,494 C262,490.5 266,490 267,493.5 C268,497 272,497 273,493.5 C274,490 278,490.5 278.5,494" stroke="#eaa9a5" stroke-width="2.3"/><path d="M278.5,492.5 C281,494.5 283.5,497 287.5,497.5" stroke="#eaa9a5" stroke-width="2.3"/></g>
<text x="275.3" y="512.2" font-size="8.8" fill="#2b2b2b" text-anchor="middle">Small intestine</text>
<path d="M335.60,486.60Q354.60,492.68 373.60,486.60" stroke="#35a853" stroke-width="0.6" stroke-opacity="0.7" fill="none"/>
<path d="M335.60,486.60Q358.29,513.70 392.50,522.60" stroke="#35a853" stroke-width="0.5" stroke-opacity="0.7" fill="none"/>
<path d="M335.60,486.60Q343.24,528.18 373.60,557.60" stroke="#35a853" stroke-width="0.35" stroke-opacity="0.5" fill="none"/>
<path d="M335.60,486.60Q324.02,522.80 335.60,559.00" stroke="#35a853" stroke-width="0.4" stroke-opacity="0.6" fill="none"/>
<path d="M335.60,486.60Q320.34,501.56 316.60,522.60" stroke="#35a853" stroke-width="0.35" stroke-opacity="0.5" fill="none"/>
<path d="M373.60,486.60Q354.60,480.52 335.60,486.60" stroke="#2977b8" stroke-width="0.6" stroke-opacity="0.7" fill="none"/>
<path d="M373.60,486.60Q377.29,507.62 392.50,522.60" stroke="#2977b8" stroke-width="0.7" stroke-opacity="0.85" fill="none"/>
<path d="M373.60,486.60Q362.24,522.10 373.60,557.60" stroke="#2977b8" stroke-width="0.35" stroke-opacity="0.5" fill="none"/>
<path d="M373.60,486.60Q343.02,516.72 335.60,559.00" stroke="#2977b8" stroke-width="0.45" stroke-opacity="0.7" fill="none"/>
<path d="M373.60,486.60Q339.34,495.48 316.60,522.60" stroke="#2977b8" stroke-width="0.35" stroke-opacity="0.5" fill="none"/>
<path d="M392.50,522.60Q369.81,495.50 335.60,486.60" stroke="#e2202f" stroke-width="0.35" stroke-opacity="0.5" fill="none"/>
<path d="M392.50,522.60Q388.81,501.58 373.60,486.60" stroke="#e2202f" stroke-width="0.35" stroke-opacity="0.5" fill="none"/>
<path d="M392.50,522.60Q377.45,537.08 373.60,557.60" stroke="#e2202f" stroke-width="0.5" stroke-opacity="0.6" fill="none"/>
<path d="M392.50,522.60Q358.23,531.70 335.60,559.00" stroke="#e2202f" stroke-width="0.35" stroke-opacity="0.5" fill="none"/>
<path d="M392.50,522.60Q354.55,510.46 316.60,522.60" stroke="#e2202f" stroke-width="0.35" stroke-opacity="0.5" fill="none"/>
<path d="M373.60,557.60Q365.96,516.02 335.60,486.60" stroke="#e878a8" stroke-width="0.8" stroke-opacity="0.8" fill="none"/>
<path d="M373.60,557.60Q384.96,522.10 373.60,486.60" stroke="#e878a8" stroke-width="1.1" stroke-opacity="0.85" fill="none"/>
<path d="M373.60,557.60Q388.65,543.12 392.50,522.60" stroke="#e878a8" stroke-width="0.7" stroke-opacity="0.8" fill="none"/>
<path d="M373.60,557.60Q354.38,552.22 335.60,559.00" stroke="#e878a8" stroke-width="0.6" stroke-opacity="0.7" fill="none"/>
<path d="M373.60,557.60Q350.70,530.98 316.60,522.60" stroke="#e878a8" stroke-width="0.6" stroke-opacity="0.7" fill="none"/>
<path d="M335.60,559.00Q347.18,522.80 335.60,486.60" stroke="#ee9029" stroke-width="0.35" stroke-opacity="0.5" fill="none"/>
<path d="M335.60,559.00Q366.18,528.88 373.60,486.60" stroke="#ee9029" stroke-width="0.35" stroke-opacity="0.5" fill="none"/>
<path d="M335.60,559.00Q369.87,549.90 392.50,522.60" stroke="#ee9029" stroke-width="0.35" stroke-opacity="0.5" fill="none"/>
<path d="M335.60,559.00Q354.82,564.38 373.60,557.60" stroke="#ee9029" stroke-width="0.35" stroke-opacity="0.5" fill="none"/>
<path d="M335.60,559.00Q331.92,537.76 316.60,522.60" stroke="#ee9029" stroke-width="0.35" stroke-opacity="0.5" fill="none"/>
<path d="M316.60,522.60Q331.86,507.64 335.60,486.60" stroke="#8e3f9c" stroke-width="0.35" stroke-opacity="0.5" fill="none"/>
<path d="M316.60,522.60Q350.86,513.72 373.60,486.60" stroke="#8e3f9c" stroke-width="0.35" stroke-opacity="0.5" fill="none"/>
<path d="M316.60,522.60Q354.55,534.74 392.50,522.60" stroke="#8e3f9c" stroke-width="0.35" stroke-opacity="0.5" fill="none"/>
<path d="M316.60,522.60Q339.50,549.22 373.60,557.60" stroke="#8e3f9c" stroke-width="0.35" stroke-opacity="0.5" fill="none"/>
<path d="M316.60,522.60Q320.28,543.84 335.60,559.00" stroke="#8e3f9c" stroke-width="0.35" stroke-opacity="0.5" fill="none"/>
<path d="M335.60,486.60C333.28,472.56 325.32,476.76 335.60,486.60" stroke="#35a853" stroke-width="0.4" stroke-opacity="0.6" fill="none"/>
<path d="M373.60,486.60C383.88,476.76 375.92,472.56 373.60,486.60" stroke="#2977b8" stroke-width="0.6" stroke-opacity="0.8" fill="none"/>
<path d="M392.50,522.60C406.00,527.10 406.00,518.10 392.50,522.60" stroke="#e2202f" stroke-width="0.5" stroke-opacity="0.6" fill="none"/>
<path d="M373.60,557.60C376.09,571.61 384.00,567.32 373.60,557.60" stroke="#e878a8" stroke-width="1.2" stroke-opacity="0.85" fill="none"/>
<path d="M316.60,522.60C303.10,518.10 303.10,527.10 316.60,522.60" stroke="#8e3f9c" stroke-width="0.4" stroke-opacity="0.6" fill="none"/>
<circle cx="335.60" cy="486.60" r="2.5" fill="#35a853"/>
<circle cx="373.60" cy="486.60" r="2.5" fill="#2977b8"/>
<circle cx="392.50" cy="522.60" r="3.7" fill="#e2202f"/>
<circle cx="373.60" cy="557.60" r="1.1" fill="#e878a8"/>
<circle cx="335.60" cy="559.00" r="3.5" fill="#ee9029"/>
<circle cx="316.60" cy="522.60" r="2.3" fill="#8e3f9c"/>
<text x="333.3" y="483.35" font-size="7.0" fill="#333" text-anchor="middle">GCs</text>
<text x="368.8" y="480.65" font-size="7.0" fill="#333" text-anchor="start">Enterocytes</text>
<text x="396.9" y="524.25" font-size="7.0" fill="#333" text-anchor="start">B cells</text>
<text x="371.8" y="560.25" font-size="7.0" fill="#333" text-anchor="start">Schwann cells</text>
<text x="330.8" y="567.85" font-size="7.0" fill="#333" text-anchor="start">Plasma cells</text>
<text x="305.6" y="535.05" font-size="7.0" fill="#333" text-anchor="start">Mast cells</text>
<path d="M472.40,488.40Q489.90,494.00 507.40,488.40" stroke="#35a853" stroke-width="0.6" stroke-opacity="0.8" fill="none"/>
<path d="M472.40,488.40Q493.35,514.40 525.50,523.40" stroke="#35a853" stroke-width="0.8" stroke-opacity="0.85" fill="none"/>
<path d="M472.40,488.40Q478.83,528.60 507.40,557.60" stroke="#35a853" stroke-width="0.7" stroke-opacity="0.85" fill="none"/>
<path d="M472.40,488.40Q461.10,523.70 472.40,559.00" stroke="#35a853" stroke-width="0.8" stroke-opacity="0.85" fill="none"/>
<path d="M472.40,488.40Q458.16,503.63 455.40,524.30" stroke="#35a853" stroke-width="0.45" stroke-opacity="0.65" fill="none"/>
<path d="M507.40,488.40Q489.90,482.80 472.40,488.40" stroke="#2977b8" stroke-width="0.6" stroke-opacity="0.8" fill="none"/>
<path d="M507.40,488.40Q510.85,508.80 525.50,523.40" stroke="#2977b8" stroke-width="0.7" stroke-opacity="0.85" fill="none"/>
<path d="M507.40,488.40Q496.33,523.00 507.40,557.60" stroke="#2977b8" stroke-width="0.45" stroke-opacity="0.65" fill="none"/>
<path d="M507.40,488.40Q478.60,518.10 472.40,559.00" stroke="#2977b8" stroke-width="0.8" stroke-opacity="0.9" fill="none"/>
<path d="M507.40,488.40Q475.66,498.03 455.40,524.30" stroke="#2977b8" stroke-width="0.6" stroke-opacity="0.8" fill="none"/>
<path d="M525.50,523.40Q504.55,497.40 472.40,488.40" stroke="#e2202f" stroke-width="0.45" stroke-opacity="0.65" fill="none"/>
<path d="M525.50,523.40Q522.05,503.00 507.40,488.40" stroke="#e2202f" stroke-width="0.45" stroke-opacity="0.65" fill="none"/>
<path d="M525.50,523.40Q510.98,537.60 507.40,557.60" stroke="#e2202f" stroke-width="0.6" stroke-opacity="0.8" fill="none"/>
<path d="M525.50,523.40Q493.25,532.70 472.40,559.00" stroke="#e2202f" stroke-width="1.0" stroke-opacity="0.9" fill="none"/>
<path d="M525.50,523.40Q490.31,512.63 455.40,524.30" stroke="#e2202f" stroke-width="0.45" stroke-opacity="0.65" fill="none"/>
<path d="M507.40,557.60Q500.97,517.40 472.40,488.40" stroke="#e878a8" stroke-width="0.45" stroke-opacity="0.65" fill="none"/>
<path d="M507.40,557.60Q518.47,523.00 507.40,488.40" stroke="#e878a8" stroke-width="0.45" stroke-opacity="0.65" fill="none"/>
<path d="M507.40,557.60Q521.92,543.40 525.50,523.40" stroke="#e878a8" stroke-width="0.6" stroke-opacity="0.8" fill="none"/>
<path d="M507.40,557.60Q489.68,552.70 472.40,559.00" stroke="#e878a8" stroke-width="0.45" stroke-opacity="0.65" fill="none"/>
<path d="M507.40,557.60Q486.73,532.63 455.40,524.30" stroke="#e878a8" stroke-width="0.45" stroke-opacity="0.65" fill="none"/>
<path d="M472.40,559.00Q483.70,523.70 472.40,488.40" stroke="#ee9029" stroke-width="0.45" stroke-opacity="0.65" fill="none"/>
<path d="M472.40,559.00Q501.20,529.30 507.40,488.40" stroke="#ee9029" stroke-width="0.45" stroke-opacity="0.65" fill="none"/>
<path d="M472.40,559.00Q504.65,549.70 525.50,523.40" stroke="#ee9029" stroke-width="0.9" stroke-opacity="0.9" fill="none"/>
<path d="M472.40,559.00Q490.12,563.90 507.40,557.60" stroke="#ee9029" stroke-width="0.6" stroke-opacity="0.8" fill="none"/>
<path d="M472.40,559.00Q469.45,538.93 455.40,524.30" stroke="#ee9029" stroke-width="0.45" stroke-opacity="0.65" fill="none"/>
<path d="M455.40,524.30Q469.64,509.07 472.40,488.40" stroke="#8e3f9c" stroke-width="0.45" stroke-opacity="0.65" fill="none"/>
<path d="M455.40,524.30Q487.14,514.67 507.40,488.40" stroke="#8e3f9c" stroke-width="0.6" stroke-opacity="0.8" fill="none"/>
<path d="M455.40,524.30Q490.59,535.07 525.50,523.40" stroke="#8e3f9c" stroke-width="0.8" stroke-opacity="0.9" fill="none"/>
<path d="M455.40,524.30Q476.07,549.27 507.40,557.60" stroke="#8e3f9c" stroke-width="0.45" stroke-opacity="0.65" fill="none"/>
<path d="M455.40,524.30Q458.35,544.37 472.40,559.00" stroke="#8e3f9c" stroke-width="0.7" stroke-opacity="0.85" fill="none"/>
<path d="M472.40,488.40C470.39,474.31 462.34,478.34 472.40,488.40" stroke="#35a853" stroke-width="0.5" stroke-opacity="0.7" fill="none"/>
<path d="M507.40,488.40C517.42,478.29 509.35,474.30 507.40,488.40" stroke="#2977b8" stroke-width="0.6" stroke-opacity="0.8" fill="none"/>
<path d="M525.50,523.40C539.03,527.82 538.97,518.82 525.50,523.40" stroke="#e2202f" stroke-width="0.9" stroke-opacity="0.85" fill="none"/>
<path d="M507.40,557.60C509.54,571.67 517.56,567.57 507.40,557.60" stroke="#e878a8" stroke-width="0.6" stroke-opacity="0.7" fill="none"/>
<path d="M472.40,559.00C462.36,569.09 470.42,573.09 472.40,559.00" stroke="#ee9029" stroke-width="0.6" stroke-opacity="0.7" fill="none"/>
<path d="M455.40,524.30C441.81,520.07 441.99,529.07 455.40,524.30" stroke="#8e3f9c" stroke-width="0.5" stroke-opacity="0.7" fill="none"/>
<circle cx="472.40" cy="488.40" r="1.0" fill="#35a853"/>
<circle cx="507.40" cy="488.40" r="3.6" fill="#2977b8"/>
<circle cx="525.50" cy="523.40" r="1.5" fill="#e2202f"/>
<circle cx="507.40" cy="557.60" r="0.9" fill="#e878a8"/>
<circle cx="472.40" cy="559.00" r="1.0" fill="#ee9029"/>
<circle cx="455.40" cy="524.30" r="0.9" fill="#8e3f9c"/>
<text x="471.5" y="486.35" font-size="7.0" fill="#333" text-anchor="middle">GCs</text>
<text x="503.4" y="482.75" font-size="7.0" fill="#333" text-anchor="start">Enterocytes</text>
<text x="527.6" y="525.25" font-size="7.0" fill="#333" text-anchor="start">B cells</text>
<text x="506.2" y="560.25" font-size="7.0" fill="#333" text-anchor="start">Schwann cells</text>
<text x="453.7" y="568.95" font-size="7.0" fill="#333" text-anchor="start">Plasma cells</text>
<text x="445.3" y="528.65" font-size="7.0" fill="#333" text-anchor="start">Mast cells</text>
<text x="255.3" y="619.7" font-size="14.5" font-weight="bold" fill="#111" stroke="#111" stroke-width="0.45">f</text>
<g transform="translate(255.80,645.70) scale(0.0731)"><path d="M70,5 L470,15 Q495,25 490,40 Q440,100 420,130 Q350,190 260,235 Q170,270 80,320 Q10,345 5,300 Q0,200 15,100 Q30,20 70,5 Z" fill="#a0625a"/><path d="M272,12 Q285,120 268,240" stroke="#d9b49a" stroke-width="10" fill="none"/></g>
<text x="268" y="682.2" font-size="6.2" fill="#2b2b2b" text-anchor="middle">Liver</text>
<path d="M345.10,637.80Q365.45,644.31 385.80,637.80" stroke="#35a853" stroke-width="0.5" stroke-opacity="0.8" fill="none"/>
<path d="M345.10,637.80Q369.00,667.83 405.90,678.40" stroke="#35a853" stroke-width="0.6" stroke-opacity="0.8" fill="none"/>
<path d="M345.10,637.80Q352.52,684.71 385.80,718.60" stroke="#35a853" stroke-width="0.35" stroke-opacity="0.5" fill="none"/>
<path d="M345.10,637.80Q332.17,678.20 345.10,718.60" stroke="#35a853" stroke-width="0.35" stroke-opacity="0.5" fill="none"/>
<path d="M345.10,637.80Q328.55,654.88 325.00,678.40" stroke="#35a853" stroke-width="0.35" stroke-opacity="0.5" fill="none"/>
<path d="M385.80,637.80Q365.45,631.29 345.10,637.80" stroke="#2977b8" stroke-width="0.35" stroke-opacity="0.5" fill="none"/>
<path d="M385.80,637.80Q389.35,661.32 405.90,678.40" stroke="#2977b8" stroke-width="0.35" stroke-opacity="0.5" fill="none"/>
<path d="M385.80,637.80Q372.87,678.20 385.80,718.60" stroke="#2977b8" stroke-width="0.6" stroke-opacity="0.8" fill="none"/>
<path d="M385.80,637.80Q352.52,671.69 345.10,718.60" stroke="#2977b8" stroke-width="0.35" stroke-opacity="0.5" fill="none"/>
<path d="M385.80,637.80Q348.90,648.37 325.00,678.40" stroke="#2977b8" stroke-width="0.8" stroke-opacity="0.85" fill="none"/>
<path d="M405.90,678.40Q382.00,648.37 345.10,637.80" stroke="#e2202f" stroke-width="0.5" stroke-opacity="0.8" fill="none"/>
<path d="M405.90,678.40Q402.35,654.88 385.80,637.80" stroke="#e2202f" stroke-width="0.35" stroke-opacity="0.5" fill="none"/>
<path d="M405.90,678.40Q389.42,695.28 385.80,718.60" stroke="#e2202f" stroke-width="0.35" stroke-opacity="0.5" fill="none"/>
<path d="M405.90,678.40Q369.07,688.77 345.10,718.60" stroke="#e2202f" stroke-width="0.35" stroke-opacity="0.5" fill="none"/>
<path d="M405.90,678.40Q365.45,665.46 325.00,678.40" stroke="#e2202f" stroke-width="0.35" stroke-opacity="0.5" fill="none"/>
<path d="M385.80,718.60Q378.38,671.69 345.10,637.80" stroke="#e878a8" stroke-width="0.35" stroke-opacity="0.5" fill="none"/>
<path d="M385.80,718.60Q398.73,678.20 385.80,637.80" stroke="#e878a8" stroke-width="0.35" stroke-opacity="0.5" fill="none"/>
<path d="M385.80,718.60Q402.28,701.72 405.90,678.40" stroke="#e878a8" stroke-width="0.35" stroke-opacity="0.5" fill="none"/>
<path d="M385.80,718.60Q365.45,712.09 345.10,718.60" stroke="#e878a8" stroke-width="0.35" stroke-opacity="0.5" fill="none"/>
<path d="M385.80,718.60Q361.83,688.77 325.00,678.40" stroke="#e878a8" stroke-width="0.35" stroke-opacity="0.5" fill="none"/>
<path d="M345.10,718.60Q358.03,678.20 345.10,637.80" stroke="#ee9029" stroke-width="0.35" stroke-opacity="0.5" fill="none"/>
<path d="M345.10,718.60Q378.38,684.71 385.80,637.80" stroke="#ee9029" stroke-width="0.35" stroke-opacity="0.5" fill="none"/>
<path d="M345.10,718.60Q381.93,708.23 405.90,678.40" stroke="#ee9029" stroke-width="0.35" stroke-opacity="0.5" fill="none"/>
<path d="M345.10,718.60Q365.45,725.11 385.80,718.60" stroke="#ee9029" stroke-width="0.35" stroke-opacity="0.5" fill="none"/>
<path d="M345.10,718.60Q341.48,695.28 325.00,678.40" stroke="#ee9029" stroke-width="0.35" stroke-opacity="0.5" fill="none"/>
<path d="M325.00,678.40Q341.55,661.32 345.10,637.80" stroke="#8e3f9c" stroke-width="0.35" stroke-opacity="0.5" fill="none"/>
<path d="M325.00,678.40Q361.90,667.83 385.80,637.80" stroke="#8e3f9c" stroke-width="0.35" stroke-opacity="0.5" fill="none"/>
<path d="M325.00,678.40Q365.45,691.34 405.90,678.40" stroke="#8e3f9c" stroke-width="0.35" stroke-opacity="0.5" fill="none"/>
<path d="M325.00,678.40Q348.97,708.23 385.80,718.60" stroke="#8e3f9c" stroke-width="0.5" stroke-opacity="0.8" fill="none"/>
<path d="M325.00,678.40Q328.62,701.72 345.10,718.60" stroke="#8e3f9c" stroke-width="0.5" stroke-opacity="0.8" fill="none"/>
<path d="M345.10,637.80C343.06,623.72 335.02,627.76 345.10,637.80" stroke="#35a853" stroke-width="0.5" stroke-opacity="0.7" fill="none"/>
<path d="M385.80,637.80C395.90,627.78 387.87,623.72 385.80,637.80" stroke="#2977b8" stroke-width="0.5" stroke-opacity="0.7" fill="none"/>
<path d="M405.90,678.40C419.38,682.97 419.42,673.97 405.90,678.40" stroke="#e2202f" stroke-width="0.6" stroke-opacity="0.7" fill="none"/>
<path d="M385.80,718.60C387.87,732.68 395.90,728.62 385.80,718.60" stroke="#e878a8" stroke-width="0.5" stroke-opacity="0.6" fill="none"/>
<path d="M345.10,718.60C335.02,728.64 343.06,732.68 345.10,718.60" stroke="#ee9029" stroke-width="0.5" stroke-opacity="0.6" fill="none"/>
<path d="M325.00,678.40C311.48,673.97 311.52,682.97 325.00,678.40" stroke="#8e3f9c" stroke-width="1.2" stroke-opacity="0.9" fill="none"/>
<circle cx="345.10" cy="637.80" r="3.5" fill="#35a853"/>
<circle cx="385.80" cy="637.80" r="3.0" fill="#2977b8"/>
<circle cx="405.90" cy="678.40" r="1.0" fill="#e2202f"/>
<circle cx="385.80" cy="718.60" r="1.6" fill="#e878a8"/>
<circle cx="345.10" cy="718.60" r="1.0" fill="#ee9029"/>
<circle cx="325.00" cy="678.40" r="3.5" fill="#8e3f9c"/>
<text x="348.4" y="632.98" font-size="6.5" fill="#333" text-anchor="middle">Kupffer cells</text>
<text x="398.9" y="630.67" font-size="6.5" fill="#333" text-anchor="middle">Hepatocytes</text>
<text x="403.6" y="675.98" font-size="6.5" fill="#333" text-anchor="middle">Cholangiocytes</text>
<text x="401.2" y="719.98" font-size="6.5" fill="#333" text-anchor="middle">NK T cells</text>
<text x="353.6" y="726.48" font-size="6.5" fill="#333" text-anchor="middle">NK cells</text>
<text x="343.7" y="691.48" font-size="6.5" fill="#333" text-anchor="middle">Liver sinusoidal endothelial cells</text>
<path d="M475.00,634.50Q495.35,641.01 515.70,634.50" stroke="#35a853" stroke-width="0.4" stroke-opacity="0.6" fill="none"/>
<path d="M475.00,634.50Q498.72,664.25 535.30,674.70" stroke="#35a853" stroke-width="0.9" stroke-opacity="0.85" fill="none"/>
<path d="M475.00,634.50Q482.49,681.21 515.70,714.90" stroke="#35a853" stroke-width="0.6" stroke-opacity="0.8" fill="none"/>
<path d="M475.00,634.50Q462.14,674.70 475.00,714.90" stroke="#35a853" stroke-width="0.4" stroke-opacity="0.6" fill="none"/>
<path d="M475.00,634.50Q458.57,651.40 455.00,674.70" stroke="#35a853" stroke-width="1.3" stroke-opacity="0.9" fill="none"/>
<path d="M515.70,634.50Q495.35,627.99 475.00,634.50" stroke="#2977b8" stroke-width="0.4" stroke-opacity="0.6" fill="none"/>
<path d="M515.70,634.50Q519.07,657.74 535.30,674.70" stroke="#2977b8" stroke-width="0.4" stroke-opacity="0.6" fill="none"/>
<path d="M515.70,634.50Q502.84,674.70 515.70,714.90" stroke="#2977b8" stroke-width="0.6" stroke-opacity="0.8" fill="none"/>
<path d="M515.70,634.50Q482.49,668.19 475.00,714.90" stroke="#2977b8" stroke-width="0.4" stroke-opacity="0.6" fill="none"/>
<path d="M515.70,634.50Q478.92,644.89 455.00,674.70" stroke="#2977b8" stroke-width="0.8" stroke-opacity="0.85" fill="none"/>
<path d="M535.30,674.70Q511.58,644.95 475.00,634.50" stroke="#e2202f" stroke-width="0.6" stroke-opacity="0.8" fill="none"/>
<path d="M535.30,674.70Q531.93,651.46 515.70,634.50" stroke="#e2202f" stroke-width="0.4" stroke-opacity="0.6" fill="none"/>
<path d="M535.30,674.70Q519.07,691.66 515.70,714.90" stroke="#e2202f" stroke-width="0.6" stroke-opacity="0.8" fill="none"/>
<path d="M535.30,674.70Q498.72,685.15 475.00,714.90" stroke="#e2202f" stroke-width="0.4" stroke-opacity="0.6" fill="none"/>
<path d="M535.30,674.70Q495.15,661.85 455.00,674.70" stroke="#e2202f" stroke-width="0.4" stroke-opacity="0.6" fill="none"/>
<path d="M515.70,714.90Q508.21,668.19 475.00,634.50" stroke="#e878a8" stroke-width="0.4" stroke-opacity="0.6" fill="none"/>
<path d="M515.70,714.90Q528.56,674.70 515.70,634.50" stroke="#e878a8" stroke-width="0.4" stroke-opacity="0.6" fill="none"/>
<path d="M515.70,714.90Q531.93,697.94 535.30,674.70" stroke="#e878a8" stroke-width="0.4" stroke-opacity="0.6" fill="none"/>
<path d="M515.70,714.90Q495.35,708.39 475.00,714.90" stroke="#e878a8" stroke-width="0.4" stroke-opacity="0.6" fill="none"/>
<path d="M515.70,714.90Q491.78,685.09 455.00,674.70" stroke="#e878a8" stroke-width="0.7" stroke-opacity="0.8" fill="none"/>
<path d="M475.00,714.90Q487.86,674.70 475.00,634.50" stroke="#ee9029" stroke-width="0.4" stroke-opacity="0.6" fill="none"/>
<path d="M475.00,714.90Q508.21,681.21 515.70,634.50" stroke="#ee9029" stroke-width="0.4" stroke-opacity="0.6" fill="none"/>
<path d="M475.00,714.90Q511.58,704.45 535.30,674.70" stroke="#ee9029" stroke-width="0.4" stroke-opacity="0.6" fill="none"/>
<path d="M475.00,714.90Q495.35,721.41 515.70,714.90" stroke="#ee9029" stroke-width="0.4" stroke-opacity="0.6" fill="none"/>
<path d="M475.00,714.90Q471.43,691.60 455.00,674.70" stroke="#ee9029" stroke-width="0.6" stroke-opacity="0.8" fill="none"/>
<path d="M455.00,674.70Q471.43,657.80 475.00,634.50" stroke="#8e3f9c" stroke-width="0.9" stroke-opacity="0.85" fill="none"/>
<path d="M455.00,674.70Q491.78,664.31 515.70,634.50" stroke="#8e3f9c" stroke-width="0.4" stroke-opacity="0.6" fill="none"/>
<path d="M455.00,674.70Q495.15,687.55 535.30,674.70" stroke="#8e3f9c" stroke-width="0.4" stroke-opacity="0.6" fill="none"/>
<path d="M455.00,674.70Q478.92,704.51 515.70,714.90" stroke="#8e3f9c" stroke-width="0.8" stroke-opacity="0.85" fill="none"/>
<path d="M455.00,674.70Q458.57,698.00 475.00,714.90" stroke="#8e3f9c" stroke-width="0.4" stroke-opacity="0.6" fill="none"/>
<path d="M475.00,634.50C472.90,620.43 464.88,624.50 475.00,634.50" stroke="#35a853" stroke-width="0.5" stroke-opacity="0.7" fill="none"/>
<path d="M515.70,634.50C525.80,624.48 517.77,620.42 515.70,634.50" stroke="#2977b8" stroke-width="0.5" stroke-opacity="0.7" fill="none"/>
<path d="M535.30,674.70C548.80,679.20 548.80,670.20 535.30,674.70" stroke="#e2202f" stroke-width="0.6" stroke-opacity="0.7" fill="none"/>
<path d="M515.70,714.90C517.77,728.98 525.80,724.92 515.70,714.90" stroke="#e878a8" stroke-width="0.6" stroke-opacity="0.7" fill="none"/>
<path d="M475.00,714.90C464.88,724.90 472.90,728.97 475.00,714.90" stroke="#ee9029" stroke-width="0.6" stroke-opacity="0.7" fill="none"/>
<path d="M455.00,674.70C441.50,670.20 441.50,679.20 455.00,674.70" stroke="#8e3f9c" stroke-width="0.6" stroke-opacity="0.8" fill="none"/>
<circle cx="475.00" cy="634.50" r="1.2" fill="#35a853"/>
<circle cx="515.70" cy="634.50" r="3.0" fill="#2977b8"/>
<circle cx="535.30" cy="674.70" r="2.6" fill="#e2202f"/>
<circle cx="515.70" cy="714.90" r="3.6" fill="#e878a8"/>
<circle cx="475.00" cy="714.90" r="1.7" fill="#ee9029"/>
<circle cx="455.00" cy="674.70" r="0.9" fill="#8e3f9c"/>
<text x="479.3" y="631.57" font-size="6.5" fill="#333" text-anchor="middle">Kupffer cells</text>
<text x="528.3" y="627.38" font-size="6.5" fill="#333" text-anchor="middle">Hepatocytes</text>
<text x="529.7" y="673.67" font-size="6.5" fill="#333" text-anchor="middle">Cholangiocytes</text>
<text x="532.0" y="716.17" font-size="6.5" fill="#333" text-anchor="middle">NK T cells</text>
<text x="484.0" y="724.17" font-size="6.5" fill="#333" text-anchor="middle">NK cells</text>
<text x="476.0" y="685.38" font-size="6.5" fill="#333" text-anchor="middle">Liver sinusoidal endothelial cells</text>
<text x="566.8" y="374.5" font-size="14.5" font-weight="bold" fill="#111" stroke="#111" stroke-width="0.45">e</text>
<rect x="596.1" y="360.1" width="8.6" height="8.6" fill="#e36d67"/>
<text x="607.4" y="366.9" font-size="7.9" fill="#2b2b2b">Cattle</text>
<rect x="632.1" y="360.1" width="8.4" height="8.6" fill="#147aa1"/>
<text x="643.0" y="366.9" font-size="7.9" fill="#2b2b2b">Human</text>
<rect x="608.4" y="373.80" width="53.20" height="3.67" fill="#e36d67"/>
<text x="600.8" y="377.53" font-size="5.0" fill="#e0706c" text-anchor="end">BMP</text>
<path d="M604.20,375.63H607.1" stroke="#444" stroke-width="0.55"/>
<rect x="608.4" y="378.22" width="53.20" height="3.67" fill="#e36d67"/>
<text x="600.8" y="381.95" font-size="5.0" fill="#e0706c" text-anchor="end">CDH</text>
<path d="M604.20,380.05H607.1" stroke="#444" stroke-width="0.55"/>
<rect x="608.4" y="382.63" width="53.20" height="3.67" fill="#e36d67"/>
<text x="600.8" y="386.36" font-size="5.0" fill="#e0706c" text-anchor="end">COMPLEMENT</text>
<path d="M604.20,384.46H607.1" stroke="#444" stroke-width="0.55"/>
<rect x="608.4" y="387.05" width="53.20" height="3.67" fill="#e36d67"/>
<text x="600.8" y="390.78" font-size="5.0" fill="#e0706c" text-anchor="end">TGFb</text>
<path d="M604.20,388.88H607.1" stroke="#444" stroke-width="0.55"/>
<rect x="608.4" y="391.46" width="53.20" height="3.67" fill="#e36d67"/>
<text x="600.8" y="395.19" font-size="5.0" fill="#e0706c" text-anchor="end">EGF</text>
<path d="M604.20,393.30H607.1" stroke="#444" stroke-width="0.55"/>
<rect x="608.4" y="395.88" width="53.20" height="3.67" fill="#e36d67"/>
<text x="600.8" y="399.61" font-size="5.0" fill="#e0706c" text-anchor="end">GRN</text>
<path d="M604.20,397.71H607.1" stroke="#444" stroke-width="0.55"/>
<rect x="608.4" y="400.29" width="53.20" height="3.67" fill="#e36d67"/>
<text x="600.8" y="404.02" font-size="5.0" fill="#e0706c" text-anchor="end">SEMA4</text>
<path d="M604.20,402.12H607.1" stroke="#444" stroke-width="0.55"/>
<rect x="608.4" y="404.71" width="53.20" height="3.67" fill="#e36d67"/>
<text x="600.8" y="408.44" font-size="5.0" fill="#e0706c" text-anchor="end">KIT</text>
<path d="M604.20,406.54H607.1" stroke="#444" stroke-width="0.55"/>
<rect x="608.4" y="409.12" width="53.20" height="3.67" fill="#e36d67"/>
<text x="600.8" y="412.85" font-size="5.0" fill="#e0706c" text-anchor="end">RELN</text>
<path d="M604.20,410.95H607.1" stroke="#444" stroke-width="0.55"/>
<rect x="608.4" y="413.54" width="53.20" height="3.67" fill="#e36d67"/>
<text x="600.8" y="417.27" font-size="5.0" fill="#e0706c" text-anchor="end">EPHB</text>
<path d="M604.20,415.37H607.1" stroke="#444" stroke-width="0.55"/>
<rect x="608.4" y="417.95" width="53.20" height="3.67" fill="#e36d67"/>
<text x="600.8" y="421.68" font-size="5.0" fill="#e0706c" text-anchor="end">APRIL</text>
<path d="M604.20,419.78H607.1" stroke="#444" stroke-width="0.55"/>
<rect x="608.4" y="422.37" width="53.20" height="3.67" fill="#e36d67"/>
<text x="600.8" y="426.10" font-size="5.0" fill="#e0706c" text-anchor="end">PTPRM</text>
<path d="M604.20,424.20H607.1" stroke="#444" stroke-width="0.55"/>
<rect x="608.4" y="426.78" width="53.20" height="3.67" fill="#e36d67"/>
<text x="600.8" y="430.51" font-size="5.0" fill="#e0706c" text-anchor="end">CCL</text>
<path d="M604.20,428.62H607.1" stroke="#444" stroke-width="0.55"/>
<rect x="608.4" y="431.19" width="49.48" height="3.67" fill="#e36d67"/>
<rect x="657.88" y="431.19" width="3.72" height="3.67" fill="#147aa1"/>
<text x="600.8" y="434.93" font-size="5.0" fill="#2b2b2b" text-anchor="end">CD46</text>
<path d="M604.20,433.03H607.1" stroke="#444" stroke-width="0.55"/>
<rect x="608.4" y="435.61" width="42.56" height="3.67" fill="#e36d67"/>
<rect x="650.96" y="435.61" width="10.64" height="3.67" fill="#147aa1"/>
<text x="600.8" y="439.34" font-size="5.0" fill="#2b2b2b" text-anchor="end">CADM</text>
<path d="M604.20,437.44H607.1" stroke="#444" stroke-width="0.55"/>
<rect x="608.4" y="440.02" width="40.96" height="3.67" fill="#e36d67"/>
<rect x="649.36" y="440.02" width="12.24" height="3.67" fill="#147aa1"/>
<text x="600.8" y="443.76" font-size="5.0" fill="#2b2b2b" text-anchor="end">IGF</text>
<path d="M604.20,441.86H607.1" stroke="#444" stroke-width="0.55"/>
<rect x="608.4" y="444.44" width="22.88" height="3.67" fill="#e36d67"/>
<rect x="631.28" y="444.44" width="30.32" height="3.67" fill="#147aa1"/>
<text x="600.8" y="448.17" font-size="5.0" fill="#2b2b2b" text-anchor="end">APP</text>
<path d="M604.20,446.27H607.1" stroke="#444" stroke-width="0.55"/>
<rect x="608.4" y="448.86" width="22.88" height="3.67" fill="#e36d67"/>
<rect x="631.28" y="448.86" width="30.32" height="3.67" fill="#147aa1"/>
<text x="600.8" y="452.59" font-size="5.0" fill="#2b2b2b" text-anchor="end">NEGR</text>
<path d="M604.20,450.69H607.1" stroke="#444" stroke-width="0.55"/>
<rect x="608.4" y="453.27" width="16.49" height="3.67" fill="#e36d67"/>
<rect x="624.89" y="453.27" width="36.71" height="3.67" fill="#147aa1"/>
<text x="600.8" y="457.00" font-size="5.0" fill="#2b2b2b" text-anchor="end">NECTIN</text>
<path d="M604.20,455.10H607.1" stroke="#444" stroke-width="0.55"/>
<rect x="608.4" y="457.69" width="12.77" height="3.67" fill="#e36d67"/>
<rect x="621.17" y="457.69" width="40.43" height="3.67" fill="#147aa1"/>
<text x="600.8" y="461.42" font-size="5.0" fill="#2b2b2b" text-anchor="end">CDH</text>
<path d="M604.20,459.52H607.1" stroke="#444" stroke-width="0.55"/>
<rect x="608.4" y="462.10" width="13.30" height="3.67" fill="#e36d67"/>
<rect x="621.70" y="462.10" width="39.90" height="3.67" fill="#147aa1"/>
<text x="600.8" y="465.83" font-size="5.0" fill="#2a86b0" text-anchor="end">JAM</text>
<path d="M604.20,463.94H607.1" stroke="#444" stroke-width="0.55"/>
<rect x="608.4" y="466.51" width="10.64" height="3.67" fill="#e36d67"/>
<rect x="619.04" y="466.51" width="42.56" height="3.67" fill="#147aa1"/>
<text x="600.8" y="470.25" font-size="5.0" fill="#2b2b2b" text-anchor="end">FGF</text>
<path d="M604.20,468.35H607.1" stroke="#444" stroke-width="0.55"/>
<rect x="608.4" y="470.93" width="10.64" height="3.67" fill="#e36d67"/>
<rect x="619.04" y="470.93" width="42.56" height="3.67" fill="#147aa1"/>
<text x="600.8" y="474.66" font-size="5.0" fill="#2a86b0" text-anchor="end">CD45</text>
<path d="M604.20,472.76H607.1" stroke="#444" stroke-width="0.55"/>
<rect x="608.4" y="475.35" width="10.11" height="3.67" fill="#e36d67"/>
<rect x="618.51" y="475.35" width="43.09" height="3.67" fill="#147aa1"/>
<text x="600.8" y="479.08" font-size="5.0" fill="#2a86b0" text-anchor="end">CD22</text>
<path d="M604.20,477.18H607.1" stroke="#444" stroke-width="0.55"/>
<rect x="608.4" y="479.76" width="8.51" height="3.67" fill="#e36d67"/>
<rect x="616.91" y="479.76" width="44.69" height="3.67" fill="#147aa1"/>
<text x="600.8" y="483.49" font-size="5.0" fill="#2a86b0" text-anchor="end">LAMININ</text>
<path d="M604.20,481.59H607.1" stroke="#444" stroke-width="0.55"/>
<rect x="608.4" y="484.18" width="7.98" height="3.67" fill="#e36d67"/>
<rect x="616.38" y="484.18" width="45.22" height="3.67" fill="#147aa1"/>
<text x="600.8" y="487.91" font-size="5.0" fill="#2a86b0" text-anchor="end">COLLAGEN</text>
<path d="M604.20,486.01H607.1" stroke="#444" stroke-width="0.55"/>
<rect x="608.4" y="488.59" width="6.38" height="3.67" fill="#e36d67"/>
<rect x="614.78" y="488.59" width="46.82" height="3.67" fill="#147aa1"/>
<text x="600.8" y="492.32" font-size="5.0" fill="#2a86b0" text-anchor="end">GALECTIN</text>
<path d="M604.20,490.43H607.1" stroke="#444" stroke-width="0.55"/>
<rect x="608.4" y="493.00" width="5.32" height="3.67" fill="#e36d67"/>
<rect x="613.72" y="493.00" width="47.88" height="3.67" fill="#147aa1"/>
<text x="600.8" y="496.74" font-size="5.0" fill="#2b2b2b" text-anchor="end">EPHA</text>
<path d="M604.20,494.84H607.1" stroke="#444" stroke-width="0.55"/>
<rect x="608.4" y="497.42" width="5.32" height="3.67" fill="#e36d67"/>
<rect x="613.72" y="497.42" width="47.88" height="3.67" fill="#147aa1"/>
<text x="600.8" y="501.15" font-size="5.0" fill="#2b2b2b" text-anchor="end">CDH1</text>
<path d="M604.20,499.25H607.1" stroke="#444" stroke-width="0.55"/>
<rect x="608.4" y="501.84" width="3.19" height="3.67" fill="#e36d67"/>
<rect x="611.59" y="501.84" width="50.01" height="3.67" fill="#147aa1"/>
<text x="600.8" y="505.57" font-size="5.0" fill="#2a86b0" text-anchor="end">MIF</text>
<path d="M604.20,503.67H607.1" stroke="#444" stroke-width="0.55"/>
<rect x="608.4" y="506.25" width="3.19" height="3.67" fill="#e36d67"/>
<rect x="611.59" y="506.25" width="50.01" height="3.67" fill="#147aa1"/>
<text x="600.8" y="509.98" font-size="5.0" fill="#2b2b2b" text-anchor="end">MPZ</text>
<path d="M604.20,508.08H607.1" stroke="#444" stroke-width="0.55"/>
<rect x="608.4" y="510.67" width="2.66" height="3.67" fill="#e36d67"/>
<rect x="611.06" y="510.67" width="50.54" height="3.67" fill="#147aa1"/>
<text x="600.8" y="514.40" font-size="5.0" fill="#2b2b2b" text-anchor="end">DESMOSOME</text>
<path d="M604.20,512.50H607.1" stroke="#444" stroke-width="0.55"/>
<rect x="608.4" y="515.08" width="2.13" height="3.67" fill="#e36d67"/>
<rect x="610.53" y="515.08" width="51.07" height="3.67" fill="#147aa1"/>
<text x="600.8" y="518.82" font-size="5.0" fill="#2b2b2b" text-anchor="end">OCLN</text>
<path d="M604.20,516.92H607.1" stroke="#444" stroke-width="0.55"/>
<rect x="608.4" y="519.50" width="1.60" height="3.67" fill="#e36d67"/>
<rect x="610.00" y="519.50" width="51.60" height="3.67" fill="#147aa1"/>
<text x="600.8" y="523.23" font-size="5.0" fill="#2a86b0" text-anchor="end">MK</text>
<path d="M604.20,521.33H607.1" stroke="#444" stroke-width="0.55"/>
<rect x="608.4" y="523.91" width="1.06" height="3.67" fill="#e36d67"/>
<rect x="609.46" y="523.91" width="52.14" height="3.67" fill="#147aa1"/>
<text x="600.8" y="527.65" font-size="5.0" fill="#2b2b2b" text-anchor="end">NOTCH</text>
<path d="M604.20,525.75H607.1" stroke="#444" stroke-width="0.55"/>
<rect x="608.40" y="528.33" width="53.20" height="3.67" fill="#147aa1"/>
<text x="600.8" y="532.06" font-size="5.0" fill="#2a86b0" text-anchor="end">VISFATIN</text>
<path d="M604.20,530.16H607.1" stroke="#444" stroke-width="0.55"/>
<rect x="608.40" y="532.74" width="53.20" height="3.67" fill="#147aa1"/>
<text x="600.8" y="536.48" font-size="5.0" fill="#2a86b0" text-anchor="end">PECAM1</text>
<path d="M604.20,534.58H607.1" stroke="#444" stroke-width="0.55"/>
<rect x="608.40" y="537.15" width="53.20" height="3.67" fill="#147aa1"/>
<text x="600.8" y="540.89" font-size="5.0" fill="#2a86b0" text-anchor="end">SEMA6</text>
<path d="M604.20,538.99H607.1" stroke="#444" stroke-width="0.55"/>
<rect x="608.40" y="541.57" width="53.20" height="3.67" fill="#147aa1"/>
<text x="600.8" y="545.31" font-size="5.0" fill="#2a86b0" text-anchor="end">CD6</text>
<path d="M604.20,543.41H607.1" stroke="#444" stroke-width="0.55"/>
<rect x="608.40" y="545.99" width="53.20" height="3.67" fill="#147aa1"/>
<text x="600.8" y="549.72" font-size="5.0" fill="#2a86b0" text-anchor="end">SEMA7</text>
<path d="M604.20,547.82H607.1" stroke="#444" stroke-width="0.55"/>
<rect x="608.40" y="550.40" width="53.20" height="3.67" fill="#147aa1"/>
<text x="600.8" y="554.13" font-size="5.0" fill="#2a86b0" text-anchor="end">TWEAK</text>
<path d="M604.20,552.24H607.1" stroke="#444" stroke-width="0.55"/>
<path d="M634.9,372.80V554.82" stroke="#555" stroke-width="0.5" stroke-dasharray="1.6,1.1" opacity="0.8"/>
<path d="M607.1,372.30V556.6H662.6" stroke="#555" stroke-width="0.6" fill="none"/>
<path d="M608.40,556.6v1.6" stroke="#555" stroke-width="0.5"/>
<text x="608.40" y="564.5" font-size="5.3" fill="#2b2b2b" text-anchor="middle">0</text>
<path d="M621.70,556.6v1.6" stroke="#555" stroke-width="0.5"/>
<text x="621.70" y="564.5" font-size="5.3" fill="#2b2b2b" text-anchor="middle">0.25</text>
<path d="M635.00,556.6v1.6" stroke="#555" stroke-width="0.5"/>
<text x="635.00" y="564.5" font-size="5.3" fill="#2b2b2b" text-anchor="middle">0.50</text>
<path d="M648.30,556.6v1.6" stroke="#555" stroke-width="0.5"/>
<text x="648.30" y="564.5" font-size="5.3" fill="#2b2b2b" text-anchor="middle">0.75</text>
<path d="M661.60,556.6v1.6" stroke="#555" stroke-width="0.5"/>
<text x="661.60" y="564.5" font-size="5.3" fill="#2b2b2b" text-anchor="middle">1.00</text>
<text x="635.2" y="575.5" font-size="8.1" fill="#2b2b2b" text-anchor="middle">Relative information flow</text>
<text x="566.8" y="589.8" font-size="14.5" font-weight="bold" fill="#111" stroke="#111" stroke-width="0.45">g</text>
<rect x="608.4" y="588.10" width="53.20" height="4.5" fill="#e36d67"/>
<text x="602.2" y="592.25" font-size="5.0" fill="#e0706c" text-anchor="end">IL2</text>
<path d="M603.70,590.35H606.6" stroke="#444" stroke-width="0.55"/>
<rect x="608.4" y="593.42" width="53.20" height="4.5" fill="#e36d67"/>
<text x="602.2" y="597.57" font-size="5.0" fill="#e0706c" text-anchor="end">ESAM</text>
<path d="M603.70,595.67H606.6" stroke="#444" stroke-width="0.55"/>
<rect x="608.4" y="598.74" width="53.20" height="4.5" fill="#e36d67"/>
<text x="602.2" y="602.89" font-size="5.0" fill="#e0706c" text-anchor="end">TGFb</text>
<path d="M603.70,600.99H606.6" stroke="#444" stroke-width="0.55"/>
<rect x="608.4" y="604.06" width="53.20" height="4.5" fill="#e36d67"/>
<text x="602.2" y="608.21" font-size="5.0" fill="#e0706c" text-anchor="end">EPHB</text>
<path d="M603.70,606.31H606.6" stroke="#444" stroke-width="0.55"/>
<rect x="608.4" y="609.38" width="53.20" height="4.5" fill="#e36d67"/>
<text x="602.2" y="613.53" font-size="5.0" fill="#e0706c" text-anchor="end">SN</text>
<path d="M603.70,611.63H606.6" stroke="#444" stroke-width="0.55"/>
<rect x="608.4" y="614.70" width="53.20" height="4.5" fill="#e36d67"/>
<text x="602.2" y="618.85" font-size="5.0" fill="#e0706c" text-anchor="end">ACTIVIN</text>
<path d="M603.70,616.95H606.6" stroke="#444" stroke-width="0.55"/>
<rect x="608.4" y="620.02" width="53.20" height="4.5" fill="#e36d67"/>
<text x="602.2" y="624.17" font-size="5.0" fill="#e0706c" text-anchor="end">MPZ</text>
<path d="M603.70,622.27H606.6" stroke="#444" stroke-width="0.55"/>
<rect x="608.4" y="625.34" width="52.67" height="4.5" fill="#e36d67"/>
<rect x="661.07" y="625.34" width="0.53" height="4.5" fill="#147aa1"/>
<text x="602.2" y="629.49" font-size="5.0" fill="#2b2b2b" text-anchor="end">CADM</text>
<path d="M603.70,627.59H606.6" stroke="#444" stroke-width="0.55"/>
<rect x="608.4" y="630.66" width="52.67" height="4.5" fill="#e36d67"/>
<rect x="661.07" y="630.66" width="0.53" height="4.5" fill="#147aa1"/>
<text x="602.2" y="634.81" font-size="5.0" fill="#2b2b2b" text-anchor="end">JAM</text>
<path d="M603.70,632.91H606.6" stroke="#444" stroke-width="0.55"/>
<rect x="608.4" y="635.98" width="51.07" height="4.5" fill="#e36d67"/>
<rect x="659.47" y="635.98" width="2.13" height="4.5" fill="#147aa1"/>
<text x="602.2" y="640.13" font-size="5.0" fill="#e0706c" text-anchor="end">CDH</text>
<path d="M603.70,638.23H606.6" stroke="#444" stroke-width="0.55"/>
<rect x="608.4" y="641.30" width="49.48" height="4.5" fill="#e36d67"/>
<rect x="657.88" y="641.30" width="3.72" height="4.5" fill="#147aa1"/>
<text x="602.2" y="645.45" font-size="5.0" fill="#e0706c" text-anchor="end">GALECTIN</text>
<path d="M603.70,643.55H606.6" stroke="#444" stroke-width="0.55"/>
<rect x="608.4" y="646.62" width="48.41" height="4.5" fill="#e36d67"/>
<rect x="656.81" y="646.62" width="4.79" height="4.5" fill="#147aa1"/>
<text x="602.2" y="650.77" font-size="5.0" fill="#e0706c" text-anchor="end">LAMININ</text>
<path d="M603.70,648.87H606.6" stroke="#444" stroke-width="0.55"/>
<rect x="608.4" y="651.94" width="48.41" height="4.5" fill="#e36d67"/>
<rect x="656.81" y="651.94" width="4.79" height="4.5" fill="#147aa1"/>
<text x="602.2" y="656.09" font-size="5.0" fill="#e0706c" text-anchor="end">ICAM</text>
<path d="M603.70,654.19H606.6" stroke="#444" stroke-width="0.55"/>
<rect x="608.4" y="657.26" width="45.22" height="4.5" fill="#e36d67"/>
<rect x="653.62" y="657.26" width="7.98" height="4.5" fill="#147aa1"/>
<text x="602.2" y="661.41" font-size="5.0" fill="#e0706c" text-anchor="end">NECTIN</text>
<path d="M603.70,659.51H606.6" stroke="#444" stroke-width="0.55"/>
<rect x="608.4" y="662.58" width="40.96" height="4.5" fill="#e36d67"/>
<rect x="649.36" y="662.58" width="12.24" height="4.5" fill="#147aa1"/>
<text x="602.2" y="666.73" font-size="5.0" fill="#2b2b2b" text-anchor="end">SEMA4</text>
<path d="M603.70,664.83H606.6" stroke="#444" stroke-width="0.55"/>
<rect x="608.4" y="667.90" width="38.30" height="4.5" fill="#e36d67"/>
<rect x="646.70" y="667.90" width="14.90" height="4.5" fill="#147aa1"/>
<text x="602.2" y="672.05" font-size="5.0" fill="#2b2b2b" text-anchor="end">PARs</text>
<path d="M603.70,670.15H606.6" stroke="#444" stroke-width="0.55"/>
<rect x="608.4" y="673.22" width="37.24" height="4.5" fill="#e36d67"/>
<rect x="645.64" y="673.22" width="15.96" height="4.5" fill="#147aa1"/>
<text x="602.2" y="677.37" font-size="5.0" fill="#e0706c" text-anchor="end">CD45</text>
<path d="M603.70,675.47H606.6" stroke="#444" stroke-width="0.55"/>
<rect x="608.4" y="678.54" width="36.71" height="4.5" fill="#e36d67"/>
<rect x="645.11" y="678.54" width="16.49" height="4.5" fill="#147aa1"/>
<text x="602.2" y="682.69" font-size="5.0" fill="#2b2b2b" text-anchor="end">PECAM1</text>
<path d="M603.70,680.79H606.6" stroke="#444" stroke-width="0.55"/>
<rect x="608.4" y="683.86" width="36.18" height="4.5" fill="#e36d67"/>
<rect x="644.58" y="683.86" width="17.02" height="4.5" fill="#147aa1"/>
<text x="602.2" y="688.01" font-size="5.0" fill="#2b2b2b" text-anchor="end">COMPLEMENT</text>
<path d="M603.70,686.11H606.6" stroke="#444" stroke-width="0.55"/>
<rect x="608.4" y="689.18" width="35.11" height="4.5" fill="#e36d67"/>
<rect x="643.51" y="689.18" width="18.09" height="4.5" fill="#147aa1"/>
<text x="602.2" y="693.33" font-size="5.0" fill="#2b2b2b" text-anchor="end">CDH5</text>
<path d="M603.70,691.43H606.6" stroke="#444" stroke-width="0.55"/>
<rect x="608.4" y="694.50" width="32.98" height="4.5" fill="#e36d67"/>
<rect x="641.38" y="694.50" width="20.22" height="4.5" fill="#147aa1"/>
<text x="602.2" y="698.65" font-size="5.0" fill="#2b2b2b" text-anchor="end">COLLAGEN</text>
<path d="M603.70,696.75H606.6" stroke="#444" stroke-width="0.55"/>
<rect x="608.4" y="699.82" width="31.39" height="4.5" fill="#e36d67"/>
<rect x="639.79" y="699.82" width="21.81" height="4.5" fill="#147aa1"/>
<text x="602.2" y="703.97" font-size="5.0" fill="#2b2b2b" text-anchor="end">ADGRE5</text>
<path d="M603.70,702.07H606.6" stroke="#444" stroke-width="0.55"/>
<rect x="608.4" y="705.14" width="30.32" height="4.5" fill="#e36d67"/>
<rect x="638.72" y="705.14" width="22.88" height="4.5" fill="#147aa1"/>
<text x="602.2" y="709.29" font-size="5.0" fill="#e0706c" text-anchor="end">IL1</text>
<path d="M603.70,707.39H606.6" stroke="#444" stroke-width="0.55"/>
<rect x="608.4" y="710.46" width="28.20" height="4.5" fill="#e36d67"/>
<rect x="636.60" y="710.46" width="25.00" height="4.5" fill="#147aa1"/>
<text x="602.2" y="714.61" font-size="5.0" fill="#2b2b2b" text-anchor="end">ANGPTL</text>
<path d="M603.70,712.71H606.6" stroke="#444" stroke-width="0.55"/>
<rect x="608.4" y="715.78" width="23.94" height="4.5" fill="#e36d67"/>
<rect x="632.34" y="715.78" width="29.26" height="4.5" fill="#147aa1"/>
<text x="602.2" y="719.93" font-size="5.0" fill="#2b2b2b" text-anchor="end">FN1</text>
<path d="M603.70,718.03H606.6" stroke="#444" stroke-width="0.55"/>
<rect x="608.4" y="721.10" width="19.68" height="4.5" fill="#e36d67"/>
<rect x="628.08" y="721.10" width="33.52" height="4.5" fill="#147aa1"/>
<text x="602.2" y="725.25" font-size="5.0" fill="#2b2b2b" text-anchor="end">ITGB2</text>
<path d="M603.70,723.35H606.6" stroke="#444" stroke-width="0.55"/>
<rect x="608.4" y="726.42" width="17.56" height="4.5" fill="#e36d67"/>
<rect x="625.96" y="726.42" width="35.64" height="4.5" fill="#147aa1"/>
<text x="602.2" y="730.57" font-size="5.0" fill="#2a86b0" text-anchor="end">VEGF</text>
<path d="M603.70,728.67H606.6" stroke="#444" stroke-width="0.55"/>
<rect x="608.4" y="731.74" width="16.49" height="4.5" fill="#e36d67"/>
<rect x="624.89" y="731.74" width="36.71" height="4.5" fill="#147aa1"/>
<text x="602.2" y="735.89" font-size="5.0" fill="#2a86b0" text-anchor="end">CD99</text>
<path d="M603.70,733.99H606.6" stroke="#444" stroke-width="0.55"/>
<rect x="608.4" y="737.06" width="15.96" height="4.5" fill="#e36d67"/>
<rect x="624.36" y="737.06" width="37.24" height="4.5" fill="#147aa1"/>
<text x="602.2" y="741.21" font-size="5.0" fill="#2a86b0" text-anchor="end">OCLN</text>
<path d="M603.70,739.31H606.6" stroke="#444" stroke-width="0.55"/>
<rect x="608.4" y="742.38" width="15.43" height="4.5" fill="#e36d67"/>
<rect x="623.83" y="742.38" width="37.77" height="4.5" fill="#147aa1"/>
<text x="602.2" y="746.53" font-size="5.0" fill="#2a86b0" text-anchor="end">CALCR</text>
<path d="M603.70,744.63H606.6" stroke="#444" stroke-width="0.55"/>
<rect x="608.4" y="747.70" width="12.24" height="4.5" fill="#e36d67"/>
<rect x="620.64" y="747.70" width="40.96" height="4.5" fill="#147aa1"/>
<text x="602.2" y="751.85" font-size="5.0" fill="#2a86b0" text-anchor="end">APP</text>
<path d="M603.70,749.95H606.6" stroke="#444" stroke-width="0.55"/>
<rect x="608.4" y="753.02" width="3.19" height="4.5" fill="#e36d67"/>
<rect x="611.59" y="753.02" width="50.01" height="4.5" fill="#147aa1"/>
<text x="602.2" y="757.17" font-size="5.0" fill="#2a86b0" text-anchor="end">CLEC</text>
<path d="M603.70,755.27H606.6" stroke="#444" stroke-width="0.55"/>
<rect x="608.4" y="758.34" width="2.66" height="4.5" fill="#e36d67"/>
<rect x="611.06" y="758.34" width="50.54" height="4.5" fill="#147aa1"/>
<text x="602.2" y="762.49" font-size="5.0" fill="#2a86b0" text-anchor="end">MIF</text>
<path d="M603.70,760.59H606.6" stroke="#444" stroke-width="0.55"/>
<rect x="608.4" y="763.66" width="2.13" height="4.5" fill="#e36d67"/>
<rect x="610.53" y="763.66" width="51.07" height="4.5" fill="#147aa1"/>
<text x="602.2" y="767.81" font-size="5.0" fill="#2a86b0" text-anchor="end">VISFATIN</text>
<path d="M603.70,765.91H606.6" stroke="#444" stroke-width="0.55"/>
<rect x="608.40" y="768.98" width="53.20" height="4.5" fill="#147aa1"/>
<text x="602.2" y="773.13" font-size="5.0" fill="#2a86b0" text-anchor="end">LIGHT</text>
<path d="M603.70,771.23H606.6" stroke="#444" stroke-width="0.55"/>
<rect x="608.40" y="774.30" width="53.20" height="4.5" fill="#147aa1"/>
<text x="602.2" y="778.45" font-size="5.0" fill="#2a86b0" text-anchor="end">NRG</text>
<path d="M603.70,776.55H606.6" stroke="#444" stroke-width="0.55"/>
<rect x="608.40" y="779.62" width="53.20" height="4.5" fill="#147aa1"/>
<text x="602.2" y="783.77" font-size="5.0" fill="#2a86b0" text-anchor="end">HSPG</text>
<path d="M603.70,781.87H606.6" stroke="#444" stroke-width="0.55"/>
<rect x="608.40" y="784.94" width="53.20" height="4.5" fill="#147aa1"/>
<text x="602.2" y="789.09" font-size="5.0" fill="#2a86b0" text-anchor="end">ANNEXIN</text>
<path d="M603.70,787.19H606.6" stroke="#444" stroke-width="0.55"/>
<path d="M634.9,587.10V790.26" stroke="#555" stroke-width="0.5" stroke-dasharray="1.6,1.1" opacity="0.8"/>
<path d="M606.6,586.60V791.6H662.6" stroke="#555" stroke-width="0.6" fill="none"/>
<path d="M608.40,791.6v1.6" stroke="#555" stroke-width="0.5"/>
<text x="608.40" y="799.9" font-size="5.3" fill="#2b2b2b" text-anchor="middle">0</text>
<path d="M621.70,791.6v1.6" stroke="#555" stroke-width="0.5"/>
<text x="621.70" y="799.9" font-size="5.3" fill="#2b2b2b" text-anchor="middle">0.25</text>
<path d="M635.00,791.6v1.6" stroke="#555" stroke-width="0.5"/>
<text x="635.00" y="799.9" font-size="5.3" fill="#2b2b2b" text-anchor="middle">0.50</text>
<path d="M648.30,791.6v1.6" stroke="#555" stroke-width="0.5"/>
<text x="648.30" y="799.9" font-size="5.3" fill="#2b2b2b" text-anchor="middle">0.75</text>
<path d="M661.60,791.6v1.6" stroke="#555" stroke-width="0.5"/>
<text x="661.60" y="799.9" font-size="5.3" fill="#2b2b2b" text-anchor="middle">1.00</text>
<text x="635.2" y="810.0" font-size="6.4" fill="#2b2b2b" text-anchor="middle">Relative information flow</text>
<text x="4.6" y="784.2" font-size="14.5" font-weight="bold" fill="#111" stroke="#111" stroke-width="0.45">h</text>
<path d="M51.50,828.46 L51.52,829.38 L51.58,830.30 L51.65,831.22 L51.73,832.14 L51.78,833.06 L51.80,833.98 L51.80,836.60 L51.81,839.23 L51.83,841.85 L51.84,844.48 L51.85,847.10 L51.85,849.73 L51.86,852.35 L51.88,854.98 L51.90,857.60 L51.92,860.23 L51.94,862.85 L51.95,865.48 L51.94,866.79 L51.92,868.10 L51.90,869.41 L51.88,870.73 L51.86,872.04 L51.85,873.35 L51.83,874.79 L51.76,876.24 L51.67,877.68 L51.59,879.12 L51.52,880.57 L51.50,882.01 L51.50,882.01 L51.48,880.57 L51.41,879.12 L51.33,877.68 L51.24,876.24 L51.17,874.79 L51.15,873.35 L51.14,872.04 L51.12,870.73 L51.10,869.41 L51.08,868.10 L51.06,866.79 L51.05,865.48 L51.06,862.85 L51.08,860.23 L51.10,857.60 L51.12,854.98 L51.14,852.35 L51.15,849.73 L51.15,847.10 L51.16,844.48 L51.17,841.85 L51.19,839.23 L51.20,836.60 L51.20,833.98 L51.22,833.06 L51.27,832.14 L51.35,831.22 L51.42,830.30 L51.48,829.38 L51.50,828.46 Z" fill="#e66d6d" fill-opacity="0.95"/>
<path d="M70.20,826.89 L70.23,827.81 L70.33,828.73 L70.45,829.64 L70.58,830.56 L70.67,831.48 L70.70,832.40 L70.72,833.98 L70.78,835.55 L70.85,837.12 L70.92,838.70 L70.98,840.27 L71.00,841.85 L70.99,843.43 L70.95,845.00 L70.90,846.58 L70.85,848.15 L70.81,849.73 L70.80,851.30 L70.79,852.61 L70.75,853.93 L70.70,855.24 L70.65,856.55 L70.61,857.86 L70.60,859.18 L70.57,860.23 L70.50,861.27 L70.40,862.33 L70.30,863.38 L70.23,864.43 L70.20,865.48 L70.20,865.48 L70.17,864.43 L70.10,863.38 L70.00,862.33 L69.90,861.27 L69.83,860.23 L69.80,859.18 L69.79,857.86 L69.75,856.55 L69.70,855.24 L69.65,853.93 L69.61,852.61 L69.60,851.30 L69.59,849.73 L69.55,848.15 L69.50,846.58 L69.45,845.00 L69.41,843.43 L69.40,841.85 L69.42,840.27 L69.48,838.70 L69.55,837.12 L69.62,835.55 L69.68,833.98 L69.70,832.40 L69.73,831.48 L69.83,830.56 L69.95,829.64 L70.08,828.73 L70.17,827.81 L70.20,826.89 Z" fill="#d68a2a" fill-opacity="0.95"/>
<path d="M89.00,832.40 L89.02,833.45 L89.08,834.50 L89.15,835.55 L89.22,836.60 L89.28,837.65 L89.30,838.70 L89.31,840.27 L89.35,841.85 L89.40,843.43 L89.45,845.00 L89.49,846.58 L89.50,848.15 L89.54,849.73 L89.65,851.30 L89.80,852.88 L89.95,854.45 L90.06,856.02 L90.10,857.60 L90.09,858.65 L90.05,859.70 L90.00,860.75 L89.95,861.80 L89.91,862.85 L89.90,863.90 L89.87,864.95 L89.80,866.00 L89.70,867.05 L89.60,868.10 L89.53,869.15 L89.50,870.20 L89.47,870.73 L89.38,871.25 L89.25,871.77 L89.12,872.30 L89.03,872.83 L89.00,873.35 L89.00,873.35 L88.97,872.83 L88.88,872.30 L88.75,871.77 L88.62,871.25 L88.53,870.73 L88.50,870.20 L88.47,869.15 L88.40,868.10 L88.30,867.05 L88.20,866.00 L88.13,864.95 L88.10,863.90 L88.09,862.85 L88.05,861.80 L88.00,860.75 L87.95,859.70 L87.91,858.65 L87.90,857.60 L87.94,856.02 L88.05,854.45 L88.20,852.88 L88.35,851.30 L88.46,849.73 L88.50,848.15 L88.51,846.58 L88.55,845.00 L88.60,843.43 L88.65,841.85 L88.69,840.27 L88.70,838.70 L88.72,837.65 L88.78,836.60 L88.85,835.55 L88.92,834.50 L88.98,833.45 L89.00,832.40 Z" fill="#9a9628" fill-opacity="0.95"/>
<path d="M107.80,847.36 L107.83,848.54 L107.90,849.73 L108.00,850.91 L108.10,852.09 L108.17,853.27 L108.20,854.45 L108.24,856.02 L108.35,857.60 L108.50,859.18 L108.65,860.75 L108.76,862.33 L108.80,863.90 L108.81,864.69 L108.83,865.48 L108.85,866.26 L108.88,867.05 L108.89,867.84 L108.90,868.62 L108.88,869.68 L108.83,870.73 L108.75,871.77 L108.67,872.83 L108.62,873.88 L108.60,874.93 L108.55,875.98 L108.40,877.02 L108.20,878.08 L108.00,879.12 L107.85,880.18 L107.80,881.23 L107.80,881.23 L107.75,880.18 L107.60,879.12 L107.40,878.08 L107.20,877.02 L107.05,875.98 L107.00,874.93 L106.98,873.88 L106.92,872.83 L106.85,871.77 L106.77,870.73 L106.72,869.68 L106.70,868.62 L106.71,867.84 L106.72,867.05 L106.75,866.26 L106.77,865.48 L106.79,864.69 L106.80,863.90 L106.84,862.33 L106.95,860.75 L107.10,859.18 L107.25,857.60 L107.36,856.02 L107.40,854.45 L107.43,853.27 L107.50,852.09 L107.60,850.91 L107.70,849.73 L107.77,848.54 L107.80,847.36 Z" fill="#3f9a3f" fill-opacity="0.95"/>
<path d="M126.40,828.46 L126.42,828.73 L126.48,828.99 L126.55,829.25 L126.62,829.51 L126.68,829.77 L126.70,830.04 L126.68,830.30 L126.62,830.56 L126.55,830.83 L126.48,831.09 L126.42,831.35 L126.40,831.61 L126.40,831.61 L126.38,831.35 L126.33,831.09 L126.25,830.83 L126.18,830.56 L126.12,830.30 L126.10,830.04 L126.12,829.77 L126.18,829.51 L126.25,829.25 L126.33,828.99 L126.38,828.73 L126.40,828.46 Z" fill="#18a08e" fill-opacity="0.95"/>
<path d="M126.40,853.66 L126.42,854.32 L126.48,854.98 L126.55,855.63 L126.62,856.29 L126.68,856.94 L126.70,857.60 L126.75,858.39 L126.88,859.18 L127.05,859.96 L127.23,860.75 L127.35,861.54 L127.40,862.33 L127.45,862.98 L127.58,863.64 L127.75,864.29 L127.93,864.95 L128.05,865.61 L128.10,866.26 L128.08,867.18 L128.03,868.10 L127.95,869.02 L127.88,869.94 L127.82,870.86 L127.80,871.77 L127.76,872.56 L127.65,873.35 L127.50,874.14 L127.35,874.93 L127.24,875.71 L127.20,876.50 L127.15,877.02 L127.00,877.55 L126.80,878.08 L126.60,878.60 L126.45,879.12 L126.40,879.65 L126.40,879.65 L126.35,879.12 L126.20,878.60 L126.00,878.08 L125.80,877.55 L125.65,877.02 L125.60,876.50 L125.56,875.71 L125.45,874.93 L125.30,874.14 L125.15,873.35 L125.04,872.56 L125.00,871.77 L124.98,870.86 L124.93,869.94 L124.85,869.02 L124.78,868.10 L124.72,867.18 L124.70,866.26 L124.75,865.61 L124.88,864.95 L125.05,864.29 L125.23,863.64 L125.35,862.98 L125.40,862.33 L125.45,861.54 L125.58,860.75 L125.75,859.96 L125.93,859.18 L126.05,858.39 L126.10,857.60 L126.12,856.94 L126.18,856.29 L126.25,855.63 L126.33,854.98 L126.38,854.32 L126.40,853.66 Z" fill="#18a08e" fill-opacity="0.95"/>
<path d="M145.50,854.69 L145.65,854.91 L146.05,855.13 L146.60,855.36 L147.15,855.58 L147.55,855.80 L147.70,856.02 L147.55,856.25 L147.15,856.47 L146.60,856.69 L146.05,856.92 L145.65,857.14 L145.50,857.36 L145.50,857.36 L145.35,857.14 L144.95,856.92 L144.40,856.69 L143.85,856.47 L143.45,856.25 L143.30,856.02 L143.45,855.80 L143.85,855.58 L144.40,855.36 L144.95,855.13 L145.35,854.91 L145.50,854.69 Z" fill="#d6d24a" fill-opacity="0.95"/>
<path d="M145.50,861.07 L145.90,861.49 L147.00,861.90 L148.50,862.33 L150.00,862.75 L151.10,863.16 L151.50,863.59 L151.10,864.00 L150.00,864.43 L148.50,864.85 L147.00,865.26 L145.90,865.69 L145.50,866.11 L145.50,866.11 L145.10,865.69 L144.00,865.26 L142.50,864.85 L141.00,864.43 L139.90,864.00 L139.50,863.59 L139.90,863.16 L141.00,862.75 L142.50,862.33 L144.00,861.90 L145.10,861.49 L145.50,861.07 Z" fill="#d6d24a" fill-opacity="0.95"/>
<path d="M145.50,871.07 L145.65,871.29 L146.05,871.51 L146.60,871.74 L147.15,871.96 L147.55,872.18 L147.70,872.40 L147.55,872.63 L147.15,872.85 L146.60,873.07 L146.05,873.30 L145.65,873.52 L145.50,873.74 L145.50,873.74 L145.35,873.52 L144.95,873.30 L144.40,873.07 L143.85,872.85 L143.45,872.63 L143.30,872.40 L143.45,872.18 L143.85,871.96 L144.40,871.74 L144.95,871.51 L145.35,871.29 L145.50,871.07 Z" fill="#d6d24a" fill-opacity="0.95"/>
<path d="M164.20,868.62 L164.37,868.68 L164.85,868.73 L165.50,868.78 L166.15,868.84 L166.63,868.89 L166.80,868.94 L166.80,869.33 L166.80,869.73 L166.80,870.12 L166.80,870.51 L166.80,870.91 L166.80,871.30 L166.96,871.38 L167.40,871.46 L168.00,871.54 L168.60,871.62 L169.04,871.70 L169.20,871.77 L169.37,871.99 L169.82,872.20 L170.45,872.40 L171.07,872.62 L171.53,872.83 L171.70,873.03 L171.60,873.22 L171.32,873.40 L170.95,873.59 L170.57,873.77 L170.30,873.95 L170.20,874.14 L169.93,874.40 L169.20,874.66 L168.20,874.93 L167.20,875.19 L166.47,875.45 L166.20,875.71 L166.07,875.90 L165.70,876.08 L165.20,876.26 L164.70,876.45 L164.33,876.63 L164.20,876.82 L164.20,876.82 L164.07,876.63 L163.70,876.45 L163.20,876.26 L162.70,876.08 L162.33,875.90 L162.20,875.71 L161.93,875.45 L161.20,875.19 L160.20,874.93 L159.20,874.66 L158.47,874.40 L158.20,874.14 L158.10,873.95 L157.82,873.77 L157.45,873.59 L157.07,873.40 L156.80,873.22 L156.70,873.03 L156.87,872.83 L157.32,872.62 L157.95,872.40 L158.57,872.20 L159.03,871.99 L159.20,871.77 L159.36,871.70 L159.80,871.62 L160.40,871.54 L161.00,871.46 L161.44,871.38 L161.60,871.30 L161.60,870.91 L161.60,870.51 L161.60,870.12 L161.60,869.73 L161.60,869.33 L161.60,868.94 L161.77,868.89 L162.25,868.84 L162.90,868.78 L163.55,868.73 L164.03,868.68 L164.20,868.62 Z" fill="#1ab2e2" fill-opacity="0.95"/>
<path d="M182.90,841.85 L182.94,842.64 L183.05,843.43 L183.20,844.21 L183.35,845.00 L183.46,845.79 L183.50,846.58 L183.52,847.89 L183.58,849.20 L183.65,850.51 L183.72,851.83 L183.78,853.14 L183.80,854.45 L183.79,856.02 L183.78,857.60 L183.75,859.18 L183.72,860.75 L183.71,862.33 L183.70,863.90 L183.68,864.69 L183.62,865.48 L183.55,866.26 L183.47,867.05 L183.42,867.84 L183.40,868.62 L183.39,869.41 L183.35,870.20 L183.30,870.99 L183.25,871.77 L183.21,872.56 L183.20,873.35 L183.18,873.88 L183.12,874.40 L183.05,874.93 L182.97,875.45 L182.92,875.98 L182.90,876.50 L182.90,876.50 L182.88,875.98 L182.83,875.45 L182.75,874.93 L182.68,874.40 L182.62,873.88 L182.60,873.35 L182.59,872.56 L182.55,871.77 L182.50,870.99 L182.45,870.20 L182.41,869.41 L182.40,868.62 L182.38,867.84 L182.33,867.05 L182.25,866.26 L182.18,865.48 L182.12,864.69 L182.10,863.90 L182.09,862.33 L182.08,860.75 L182.05,859.18 L182.03,857.60 L182.01,856.02 L182.00,854.45 L182.02,853.14 L182.08,851.83 L182.15,850.51 L182.22,849.20 L182.28,847.89 L182.30,846.58 L182.34,845.79 L182.45,845.00 L182.60,844.21 L182.75,843.43 L182.86,842.64 L182.90,841.85 Z" fill="#2a86d0" fill-opacity="0.95"/>
<path d="M201.70,827.68 L201.72,828.99 L201.77,830.30 L201.85,831.61 L201.92,832.93 L201.98,834.24 L202.00,835.55 L202.05,837.65 L202.17,839.75 L202.35,841.85 L202.52,843.95 L202.65,846.05 L202.70,848.15 L202.73,849.59 L202.80,851.04 L202.90,852.48 L203.00,853.93 L203.07,855.37 L203.10,856.81 L203.08,858.26 L203.02,859.70 L202.95,861.14 L202.88,862.59 L202.82,864.03 L202.80,865.48 L202.77,866.79 L202.67,868.10 L202.55,869.41 L202.42,870.73 L202.33,872.04 L202.30,873.35 L202.28,875.19 L202.22,877.02 L202.15,878.86 L202.07,880.70 L202.02,882.54 L202.00,884.38 L201.98,886.21 L201.92,888.05 L201.85,889.89 L201.77,891.73 L201.72,893.56 L201.70,895.40 L201.70,895.40 L201.68,893.56 L201.62,891.73 L201.55,889.89 L201.47,888.05 L201.42,886.21 L201.40,884.38 L201.38,882.54 L201.32,880.70 L201.25,878.86 L201.17,877.02 L201.12,875.19 L201.10,873.35 L201.07,872.04 L200.97,870.73 L200.85,869.41 L200.72,868.10 L200.63,866.79 L200.60,865.48 L200.58,864.03 L200.52,862.59 L200.45,861.14 L200.38,859.70 L200.32,858.26 L200.30,856.81 L200.33,855.37 L200.40,853.93 L200.50,852.48 L200.60,851.04 L200.67,849.59 L200.70,848.15 L200.75,846.05 L200.88,843.95 L201.05,841.85 L201.22,839.75 L201.35,837.65 L201.40,835.55 L201.42,834.24 L201.47,832.93 L201.55,831.61 L201.62,830.30 L201.68,828.99 L201.70,827.68 Z" fill="#9c5ea6" fill-opacity="0.95"/>
<path d="M220.60,837.12 L220.63,838.44 L220.70,839.75 L220.80,841.06 L220.90,842.38 L220.97,843.69 L221.00,845.00 L221.05,847.10 L221.17,849.20 L221.35,851.30 L221.53,853.40 L221.65,855.50 L221.70,857.60 L221.73,859.44 L221.82,861.27 L221.95,863.11 L222.07,864.95 L222.17,866.79 L222.20,868.62 L222.16,870.20 L222.05,871.77 L221.90,873.35 L221.75,874.93 L221.64,876.50 L221.60,878.08 L221.56,879.39 L221.45,880.70 L221.30,882.01 L221.15,883.33 L221.04,884.64 L221.00,885.95 L220.97,887.00 L220.90,888.05 L220.80,889.10 L220.70,890.15 L220.63,891.20 L220.60,892.25 L220.60,892.25 L220.57,891.20 L220.50,890.15 L220.40,889.10 L220.30,888.05 L220.23,887.00 L220.20,885.95 L220.16,884.64 L220.05,883.33 L219.90,882.01 L219.75,880.70 L219.64,879.39 L219.60,878.08 L219.56,876.50 L219.45,874.93 L219.30,873.35 L219.15,871.77 L219.04,870.20 L219.00,868.62 L219.03,866.79 L219.12,864.95 L219.25,863.11 L219.38,861.27 L219.47,859.44 L219.50,857.60 L219.55,855.50 L219.67,853.40 L219.85,851.30 L220.03,849.20 L220.15,847.10 L220.20,845.00 L220.23,843.69 L220.30,842.38 L220.40,841.06 L220.50,839.75 L220.57,838.44 L220.60,837.12 Z" fill="#e0559a" fill-opacity="0.95"/>
<path d="M239.50,822.95 L239.51,824.79 L239.55,826.62 L239.60,828.46 L239.65,830.30 L239.69,832.14 L239.70,833.98 L239.71,839.23 L239.72,844.48 L239.75,849.73 L239.78,854.98 L239.79,860.23 L239.80,865.48 L239.85,866.79 L239.97,868.10 L240.15,869.41 L240.32,870.73 L240.45,872.04 L240.50,873.35 L240.58,874.66 L240.80,875.98 L241.10,877.29 L241.40,878.60 L241.62,879.91 L241.70,881.23 L241.75,881.96 L241.90,882.70 L242.10,883.43 L242.30,884.17 L242.45,884.90 L242.50,885.63 L242.47,886.21 L242.38,886.79 L242.25,887.37 L242.12,887.95 L242.03,888.52 L242.00,889.10 L241.90,889.89 L241.62,890.68 L241.25,891.46 L240.88,892.25 L240.60,893.04 L240.50,893.83 L240.43,894.35 L240.25,894.88 L240.00,895.40 L239.75,895.93 L239.57,896.45 L239.50,896.98 L239.50,896.98 L239.43,896.45 L239.25,895.93 L239.00,895.40 L238.75,894.88 L238.57,894.35 L238.50,893.83 L238.40,893.04 L238.12,892.25 L237.75,891.46 L237.38,890.68 L237.10,889.89 L237.00,889.10 L236.97,888.52 L236.88,887.95 L236.75,887.37 L236.62,886.79 L236.53,886.21 L236.50,885.63 L236.55,884.90 L236.70,884.17 L236.90,883.43 L237.10,882.70 L237.25,881.96 L237.30,881.23 L237.38,879.91 L237.60,878.60 L237.90,877.29 L238.20,875.98 L238.42,874.66 L238.50,873.35 L238.55,872.04 L238.68,870.73 L238.85,869.41 L239.03,868.10 L239.15,866.79 L239.20,865.48 L239.21,860.23 L239.22,854.98 L239.25,849.73 L239.28,844.48 L239.29,839.23 L239.30,833.98 L239.31,832.14 L239.35,830.30 L239.40,828.46 L239.45,826.62 L239.49,824.79 L239.50,822.95 Z" fill="#c6c6c8" fill-opacity="0.95"/>
<path d="M40.7,783.0 V908.6 H250.5" stroke="#555" stroke-width="0.6" fill="none"/>
<path d="M37.7,794.60H40.7" stroke="#555" stroke-width="0.5"/>
<text x="34.2" y="797.40" font-size="7.8" fill="#2b2b2b" text-anchor="end">6</text>
<path d="M37.7,826.10H40.7" stroke="#555" stroke-width="0.5"/>
<text x="34.2" y="828.90" font-size="7.8" fill="#2b2b2b" text-anchor="end">4</text>
<path d="M37.7,857.60H40.7" stroke="#555" stroke-width="0.5"/>
<text x="34.2" y="860.40" font-size="7.8" fill="#2b2b2b" text-anchor="end">2</text>
<path d="M37.7,889.10H40.7" stroke="#555" stroke-width="0.5"/>
<text x="34.2" y="891.90" font-size="7.8" fill="#2b2b2b" text-anchor="end">0</text>
<path d="M51.50,908.6v3.0" stroke="#555" stroke-width="0.5"/>
<text transform="translate(55.00,917.40) rotate(-45)" font-size="8.6" fill="#2b2b2b" text-anchor="end">B cells</text>
<path d="M70.20,908.6v3.0" stroke="#555" stroke-width="0.5"/>
<text transform="translate(73.70,917.40) rotate(-45)" font-size="8.6" fill="#2b2b2b" text-anchor="end">CD4<tspan dy="-3.27" font-size="5.16">+</tspan><tspan dy="3.27"> T cells</tspan></text>
<path d="M89.00,908.6v3.0" stroke="#555" stroke-width="0.5"/>
<text transform="translate(92.50,917.40) rotate(-45)" font-size="8.6" fill="#2b2b2b" text-anchor="end">CD8<tspan dy="-3.27" font-size="5.16">+</tspan><tspan dy="3.27"> T cells</tspan></text>
<path d="M107.80,908.6v3.0" stroke="#555" stroke-width="0.5"/>
<text transform="translate(111.30,917.40) rotate(-45)" font-size="8.6" fill="#2b2b2b" text-anchor="end">DCs</text>
<path d="M126.40,908.6v3.0" stroke="#555" stroke-width="0.5"/>
<text transform="translate(129.90,917.40) rotate(-45)" font-size="8.6" fill="#2b2b2b" text-anchor="end">Macrophages</text>
<path d="M145.50,908.6v3.0" stroke="#555" stroke-width="0.5"/>
<text transform="translate(149.00,917.40) rotate(-45)" font-size="8.6" fill="#2b2b2b" text-anchor="end">Microglia</text>
<path d="M164.20,908.6v3.0" stroke="#555" stroke-width="0.5"/>
<text transform="translate(167.70,917.40) rotate(-45)" font-size="8.6" fill="#2b2b2b" text-anchor="end">Monocytes</text>
<path d="M182.90,908.6v3.0" stroke="#555" stroke-width="0.5"/>
<text transform="translate(186.40,917.40) rotate(-45)" font-size="8.6" fill="#2b2b2b" text-anchor="end">Neutrophils</text>
<path d="M201.70,908.6v3.0" stroke="#555" stroke-width="0.5"/>
<text transform="translate(205.20,917.40) rotate(-45)" font-size="8.6" fill="#2b2b2b" text-anchor="end">Other T cells</text>
<path d="M220.60,908.6v3.0" stroke="#555" stroke-width="0.5"/>
<text transform="translate(224.10,917.40) rotate(-45)" font-size="8.6" fill="#2b2b2b" text-anchor="end">Plasma cells</text>
<path d="M239.50,908.6v3.0" stroke="#555" stroke-width="0.5"/>
<text transform="translate(243.00,917.40) rotate(-45)" font-size="8.6" fill="#2b2b2b" text-anchor="end">Other cells</text>
<text x="145.4" y="784.6" font-size="10" fill="#2b2b2b" text-anchor="middle">MS</text>
<text transform="translate(18.4,845.1) rotate(-90)" font-size="9.4" fill="#2b2b2b" text-anchor="middle">−log<tspan font-size="6.4" dy="2.2">10</tspan><tspan dy="-2.2">(FDR)</tspan></text>
<path d="M40.7,868.62H251.2" stroke="#e8474c" stroke-width="1.0" stroke-dasharray="4.6,2.4"/>
<text x="145.4" y="970.5" font-size="10.0" fill="#2b2b2b" text-anchor="middle">Cell types</text>
<text x="317.4" y="782.8" font-size="14.5" font-weight="bold" fill="#111" stroke="#111" stroke-width="0.45">i</text>
<path d="M359.30,848.43 L359.47,849.10 L359.93,849.77 L360.55,850.43 L361.18,851.10 L361.63,851.77 L361.80,852.44 L361.95,853.23 L362.38,854.01 L362.95,854.80 L363.53,855.59 L363.95,856.37 L364.10,857.16 L364.01,857.75 L363.78,858.34 L363.45,858.93 L363.12,859.52 L362.89,860.11 L362.80,860.70 L362.89,861.29 L363.12,861.88 L363.45,862.47 L363.78,863.06 L364.01,863.65 L364.10,864.24 L364.01,864.83 L363.78,865.42 L363.45,866.01 L363.12,866.60 L362.89,867.19 L362.80,867.78 L362.67,868.37 L362.30,868.96 L361.80,869.55 L361.30,870.14 L360.93,870.73 L360.80,871.32 L360.70,871.63 L360.43,871.95 L360.05,872.26 L359.68,872.58 L359.40,872.89 L359.30,873.21 L359.30,873.21 L359.20,872.89 L358.93,872.58 L358.55,872.26 L358.18,871.95 L357.90,871.63 L357.80,871.32 L357.67,870.73 L357.30,870.14 L356.80,869.55 L356.30,868.96 L355.93,868.37 L355.80,867.78 L355.71,867.19 L355.48,866.60 L355.15,866.01 L354.82,865.42 L354.59,864.83 L354.50,864.24 L354.59,863.65 L354.82,863.06 L355.15,862.47 L355.48,861.88 L355.71,861.29 L355.80,860.70 L355.71,860.11 L355.48,859.52 L355.15,858.93 L354.82,858.34 L354.59,857.75 L354.50,857.16 L354.65,856.37 L355.07,855.59 L355.65,854.80 L356.23,854.01 L356.65,853.23 L356.80,852.44 L356.97,851.77 L357.43,851.10 L358.05,850.43 L358.68,849.77 L359.13,849.10 L359.30,848.43 Z" fill="#e36e68" fill-opacity="0.95"/>
<path d="M378.20,820.58 L378.25,821.96 L378.38,823.33 L378.55,824.71 L378.72,826.09 L378.85,827.46 L378.90,828.84 L378.95,830.02 L379.10,831.20 L379.30,832.38 L379.50,833.56 L379.65,834.74 L379.70,835.92 L379.81,836.90 L380.12,837.89 L380.55,838.87 L380.97,839.85 L381.29,840.84 L381.40,841.82 L381.45,842.41 L381.60,843.00 L381.80,843.59 L382.00,844.18 L382.15,844.77 L382.20,845.36 L382.15,846.15 L382.00,846.93 L381.80,847.72 L381.60,848.51 L381.45,849.29 L381.40,850.08 L381.29,850.87 L380.97,851.65 L380.55,852.44 L380.12,853.23 L379.81,854.01 L379.70,854.80 L379.60,855.39 L379.32,855.98 L378.95,856.57 L378.57,857.16 L378.30,857.75 L378.20,858.34 L378.20,858.34 L378.10,857.75 L377.82,857.16 L377.45,856.57 L377.07,855.98 L376.80,855.39 L376.70,854.80 L376.59,854.01 L376.27,853.23 L375.85,852.44 L375.43,851.65 L375.11,850.87 L375.00,850.08 L374.95,849.29 L374.80,848.51 L374.60,847.72 L374.40,846.93 L374.25,846.15 L374.20,845.36 L374.25,844.77 L374.40,844.18 L374.60,843.59 L374.80,843.00 L374.95,842.41 L375.00,841.82 L375.11,840.84 L375.43,839.85 L375.85,838.87 L376.27,837.89 L376.59,836.90 L376.70,835.92 L376.75,834.74 L376.90,833.56 L377.10,832.38 L377.30,831.20 L377.45,830.02 L377.50,828.84 L377.55,827.46 L377.68,826.09 L377.85,824.71 L378.02,823.33 L378.15,821.96 L378.20,820.58 Z" fill="#d88a24" fill-opacity="0.95"/>
<path d="M397.50,815.86 L397.54,817.63 L397.65,819.40 L397.80,821.17 L397.95,822.94 L398.06,824.71 L398.10,826.48 L398.14,828.84 L398.25,831.20 L398.40,833.56 L398.55,835.92 L398.66,838.28 L398.70,840.64 L398.73,842.61 L398.80,844.57 L398.90,846.54 L399.00,848.51 L399.07,850.47 L399.10,852.44 L399.06,854.41 L398.95,856.37 L398.80,858.34 L398.65,860.31 L398.54,862.27 L398.50,864.24 L398.47,865.81 L398.38,867.39 L398.25,868.96 L398.12,870.53 L398.03,872.11 L398.00,873.68 L397.97,874.47 L397.88,875.25 L397.75,876.04 L397.62,876.83 L397.53,877.61 L397.50,878.40 L397.50,878.40 L397.47,877.61 L397.38,876.83 L397.25,876.04 L397.12,875.25 L397.03,874.47 L397.00,873.68 L396.97,872.11 L396.88,870.53 L396.75,868.96 L396.62,867.39 L396.53,865.81 L396.50,864.24 L396.46,862.27 L396.35,860.31 L396.20,858.34 L396.05,856.37 L395.94,854.41 L395.90,852.44 L395.93,850.47 L396.00,848.51 L396.10,846.54 L396.20,844.57 L396.27,842.61 L396.30,840.64 L396.34,838.28 L396.45,835.92 L396.60,833.56 L396.75,831.20 L396.86,828.84 L396.90,826.48 L396.94,824.71 L397.05,822.94 L397.20,821.17 L397.35,819.40 L397.46,817.63 L397.50,815.86 Z" fill="#a49c2c" fill-opacity="0.95"/>
<path d="M415.60,840.64 L415.65,841.82 L415.80,843.00 L416.00,844.18 L416.20,845.36 L416.35,846.54 L416.40,847.72 L416.47,848.90 L416.65,850.08 L416.90,851.26 L417.15,852.44 L417.33,853.62 L417.40,854.80 L417.53,855.78 L417.90,856.77 L418.40,857.75 L418.90,858.73 L419.27,859.72 L419.40,860.70 L419.45,861.29 L419.60,861.88 L419.80,862.47 L420.00,863.06 L420.15,863.65 L420.20,864.24 L420.12,864.83 L419.90,865.42 L419.60,866.01 L419.30,866.60 L419.08,867.19 L419.00,867.78 L418.85,868.37 L418.45,868.96 L417.90,869.55 L417.35,870.14 L416.95,870.73 L416.80,871.32 L416.72,871.71 L416.50,872.11 L416.20,872.50 L415.90,872.89 L415.68,873.29 L415.60,873.68 L415.60,873.68 L415.52,873.29 L415.30,872.89 L415.00,872.50 L414.70,872.11 L414.48,871.71 L414.40,871.32 L414.25,870.73 L413.85,870.14 L413.30,869.55 L412.75,868.96 L412.35,868.37 L412.20,867.78 L412.12,867.19 L411.90,866.60 L411.60,866.01 L411.30,865.42 L411.08,864.83 L411.00,864.24 L411.05,863.65 L411.20,863.06 L411.40,862.47 L411.60,861.88 L411.75,861.29 L411.80,860.70 L411.93,859.72 L412.30,858.73 L412.80,857.75 L413.30,856.77 L413.67,855.78 L413.80,854.80 L413.87,853.62 L414.05,852.44 L414.30,851.26 L414.55,850.08 L414.73,848.90 L414.80,847.72 L414.85,846.54 L415.00,845.36 L415.20,844.18 L415.40,843.00 L415.55,841.82 L415.60,840.64 Z" fill="#4aa04a" fill-opacity="0.95"/>
<path d="M435.30,833.56 L435.34,835.13 L435.45,836.71 L435.60,838.28 L435.75,839.85 L435.86,841.43 L435.90,843.00 L435.94,844.97 L436.05,846.93 L436.20,848.90 L436.35,850.87 L436.46,852.83 L436.50,854.80 L436.53,856.77 L436.60,858.73 L436.70,860.70 L436.80,862.67 L436.87,864.63 L436.90,866.60 L436.86,868.57 L436.75,870.53 L436.60,872.50 L436.45,874.47 L436.34,876.43 L436.30,878.40 L436.23,879.78 L436.05,881.15 L435.80,882.53 L435.55,883.91 L435.37,885.28 L435.30,886.66 L435.30,886.66 L435.23,885.28 L435.05,883.91 L434.80,882.53 L434.55,881.15 L434.37,879.78 L434.30,878.40 L434.26,876.43 L434.15,874.47 L434.00,872.50 L433.85,870.53 L433.74,868.57 L433.70,866.60 L433.73,864.63 L433.80,862.67 L433.90,860.70 L434.00,858.73 L434.07,856.77 L434.10,854.80 L434.14,852.83 L434.25,850.87 L434.40,848.90 L434.55,846.93 L434.66,844.97 L434.70,843.00 L434.74,841.43 L434.85,839.85 L435.00,838.28 L435.15,836.71 L435.26,835.13 L435.30,833.56 Z" fill="#16a55a" fill-opacity="0.95"/>
<path d="M453.90,852.44 L454.03,853.03 L454.40,853.62 L454.90,854.21 L455.40,854.80 L455.77,855.39 L455.90,855.98 L456.02,856.57 L456.35,857.16 L456.80,857.75 L457.25,858.34 L457.58,858.93 L457.70,859.52 L457.85,860.31 L458.25,861.09 L458.80,861.88 L459.35,862.67 L459.75,863.45 L459.90,864.24 L459.87,864.63 L459.77,865.03 L459.65,865.42 L459.52,865.81 L459.43,866.21 L459.40,866.60 L459.20,867.07 L458.65,867.54 L457.90,868.02 L457.15,868.49 L456.60,868.96 L456.40,869.43 L456.23,869.75 L455.77,870.06 L455.15,870.38 L454.52,870.69 L454.07,871.01 L453.90,871.32 L453.90,871.32 L453.73,871.01 L453.27,870.69 L452.65,870.38 L452.02,870.06 L451.57,869.75 L451.40,869.43 L451.20,868.96 L450.65,868.49 L449.90,868.02 L449.15,867.54 L448.60,867.07 L448.40,866.60 L448.37,866.21 L448.27,865.81 L448.15,865.42 L448.02,865.03 L447.93,864.63 L447.90,864.24 L448.05,863.45 L448.45,862.67 L449.00,861.88 L449.55,861.09 L449.95,860.31 L450.10,859.52 L450.22,858.93 L450.55,858.34 L451.00,857.75 L451.45,857.16 L451.78,856.57 L451.90,855.98 L452.03,855.39 L452.40,854.80 L452.90,854.21 L453.40,853.62 L453.77,853.03 L453.90,852.44 Z" fill="#16a08c" fill-opacity="0.95"/>
<path d="M472.80,838.28 L472.86,839.46 L473.03,840.64 L473.25,841.82 L473.48,843.00 L473.64,844.18 L473.70,845.36 L473.73,846.93 L473.80,848.51 L473.90,850.08 L474.00,851.65 L474.07,853.23 L474.10,854.80 L474.09,856.77 L474.07,858.73 L474.05,860.70 L474.03,862.67 L474.01,864.63 L474.00,866.60 L473.97,868.57 L473.90,870.53 L473.80,872.50 L473.70,874.47 L473.63,876.43 L473.60,878.40 L473.55,879.58 L473.40,880.76 L473.20,881.94 L473.00,883.12 L472.85,884.30 L472.80,885.48 L472.80,885.48 L472.75,884.30 L472.60,883.12 L472.40,881.94 L472.20,880.76 L472.05,879.58 L472.00,878.40 L471.97,876.43 L471.90,874.47 L471.80,872.50 L471.70,870.53 L471.63,868.57 L471.60,866.60 L471.59,864.63 L471.57,862.67 L471.55,860.70 L471.53,858.73 L471.51,856.77 L471.50,854.80 L471.53,853.23 L471.60,851.65 L471.70,850.08 L471.80,848.51 L471.87,846.93 L471.90,845.36 L471.96,844.18 L472.12,843.00 L472.35,841.82 L472.57,840.64 L472.74,839.46 L472.80,838.28 Z" fill="#18b4e4" fill-opacity="0.95"/>
<path d="M491.70,832.38 L491.80,832.97 L492.07,833.56 L492.45,834.15 L492.82,834.74 L493.10,835.33 L493.20,835.92 L493.30,836.71 L493.57,837.49 L493.95,838.28 L494.32,839.07 L494.60,839.85 L494.70,840.64 L494.74,841.43 L494.85,842.21 L495.00,843.00 L495.15,843.79 L495.26,844.57 L495.30,845.36 L495.26,846.54 L495.15,847.72 L495.00,848.90 L494.85,850.08 L494.74,851.26 L494.70,852.44 L494.63,853.62 L494.45,854.80 L494.20,855.98 L493.95,857.16 L493.77,858.34 L493.70,859.52 L493.63,860.31 L493.45,861.09 L493.20,861.88 L492.95,862.67 L492.77,863.45 L492.70,864.24 L492.63,864.83 L492.45,865.42 L492.20,866.01 L491.95,866.60 L491.77,867.19 L491.70,867.78 L491.70,867.78 L491.63,867.19 L491.45,866.60 L491.20,866.01 L490.95,865.42 L490.77,864.83 L490.70,864.24 L490.63,863.45 L490.45,862.67 L490.20,861.88 L489.95,861.09 L489.77,860.31 L489.70,859.52 L489.63,858.34 L489.45,857.16 L489.20,855.98 L488.95,854.80 L488.77,853.62 L488.70,852.44 L488.66,851.26 L488.55,850.08 L488.40,848.90 L488.25,847.72 L488.14,846.54 L488.10,845.36 L488.14,844.57 L488.25,843.79 L488.40,843.00 L488.55,842.21 L488.66,841.43 L488.70,840.64 L488.80,839.85 L489.07,839.07 L489.45,838.28 L489.82,837.49 L490.10,836.71 L490.20,835.92 L490.30,835.33 L490.57,834.74 L490.95,834.15 L491.32,833.56 L491.60,832.97 L491.70,832.38 Z" fill="#2a86d0" fill-opacity="0.95"/>
<path d="M511.00,828.84 L511.03,830.02 L511.12,831.20 L511.25,832.38 L511.38,833.56 L511.47,834.74 L511.50,835.92 L511.55,837.49 L511.70,839.07 L511.90,840.64 L512.10,842.21 L512.25,843.79 L512.30,845.36 L512.38,846.93 L512.60,848.51 L512.90,850.08 L513.20,851.65 L513.42,853.23 L513.50,854.80 L513.52,855.59 L513.58,856.37 L513.65,857.16 L513.73,857.95 L513.78,858.73 L513.80,859.52 L513.76,860.70 L513.65,861.88 L513.50,863.06 L513.35,864.24 L513.24,865.42 L513.20,866.60 L513.12,867.78 L512.90,868.96 L512.60,870.14 L512.30,871.32 L512.08,872.50 L512.00,873.68 L511.93,874.86 L511.75,876.04 L511.50,877.22 L511.25,878.40 L511.07,879.58 L511.00,880.76 L511.00,880.76 L510.93,879.58 L510.75,878.40 L510.50,877.22 L510.25,876.04 L510.07,874.86 L510.00,873.68 L509.92,872.50 L509.70,871.32 L509.40,870.14 L509.10,868.96 L508.88,867.78 L508.80,866.60 L508.76,865.42 L508.65,864.24 L508.50,863.06 L508.35,861.88 L508.24,860.70 L508.20,859.52 L508.22,858.73 L508.27,857.95 L508.35,857.16 L508.43,856.37 L508.48,855.59 L508.50,854.80 L508.58,853.23 L508.80,851.65 L509.10,850.08 L509.40,848.51 L509.62,846.93 L509.70,845.36 L509.75,843.79 L509.90,842.21 L510.10,840.64 L510.30,839.07 L510.45,837.49 L510.50,835.92 L510.53,834.74 L510.62,833.56 L510.75,832.38 L510.88,831.20 L510.97,830.02 L511.00,828.84 Z" fill="#a060a8" fill-opacity="0.95"/>
<path d="M529.50,856.22 L529.71,856.45 L530.30,856.69 L531.10,856.92 L531.90,857.16 L532.49,857.40 L532.70,857.63 L532.86,857.95 L533.30,858.26 L533.90,858.58 L534.50,858.89 L534.94,859.21 L535.10,859.52 L535.14,859.83 L535.25,860.15 L535.40,860.46 L535.55,860.78 L535.66,861.09 L535.70,861.41 L535.82,861.88 L536.15,862.35 L536.60,862.82 L537.05,863.30 L537.38,863.77 L537.50,864.24 L537.37,864.63 L537.00,865.03 L536.50,865.42 L536.00,865.81 L535.63,866.21 L535.50,866.60 L535.45,866.84 L535.30,867.07 L535.10,867.31 L534.90,867.54 L534.75,867.78 L534.70,868.02 L534.52,868.25 L534.02,868.49 L533.35,868.72 L532.67,868.96 L532.18,869.20 L532.00,869.43 L531.83,869.63 L531.38,869.83 L530.75,870.02 L530.12,870.22 L529.67,870.42 L529.50,870.61 L529.50,870.61 L529.33,870.42 L528.88,870.22 L528.25,870.02 L527.62,869.83 L527.17,869.63 L527.00,869.43 L526.82,869.20 L526.33,868.96 L525.65,868.72 L524.98,868.49 L524.48,868.25 L524.30,868.02 L524.25,867.78 L524.10,867.54 L523.90,867.31 L523.70,867.07 L523.55,866.84 L523.50,866.60 L523.37,866.21 L523.00,865.81 L522.50,865.42 L522.00,865.03 L521.63,864.63 L521.50,864.24 L521.62,863.77 L521.95,863.30 L522.40,862.82 L522.85,862.35 L523.18,861.88 L523.30,861.41 L523.34,861.09 L523.45,860.78 L523.60,860.46 L523.75,860.15 L523.86,859.83 L523.90,859.52 L524.06,859.21 L524.50,858.89 L525.10,858.58 L525.70,858.26 L526.14,857.95 L526.30,857.63 L526.51,857.40 L527.10,857.16 L527.90,856.92 L528.70,856.69 L529.29,856.45 L529.50,856.22 Z" fill="#e464a4" fill-opacity="0.95"/>
<path d="M548.50,822.94 L548.52,825.10 L548.58,827.27 L548.65,829.43 L548.73,831.59 L548.78,833.76 L548.80,835.92 L548.83,837.89 L548.92,839.85 L549.05,841.82 L549.17,843.79 L549.27,845.75 L549.30,847.72 L549.38,848.90 L549.60,850.08 L549.90,851.26 L550.20,852.44 L550.42,853.62 L550.50,854.80 L550.60,855.98 L550.88,857.16 L551.25,858.34 L551.62,859.52 L551.90,860.70 L552.00,861.88 L552.13,863.06 L552.50,864.24 L553.00,865.42 L553.50,866.60 L553.87,867.78 L554.00,868.96 L554.03,869.55 L554.12,870.14 L554.25,870.73 L554.38,871.32 L554.47,871.91 L554.50,872.50 L554.40,873.29 L554.12,874.07 L553.75,874.86 L553.38,875.65 L553.10,876.43 L553.00,877.22 L552.83,878.01 L552.38,878.79 L551.75,879.58 L551.12,880.37 L550.67,881.15 L550.50,881.94 L550.37,882.73 L550.00,883.51 L549.50,884.30 L549.00,885.09 L548.63,885.87 L548.50,886.66 L548.50,886.66 L548.37,885.87 L548.00,885.09 L547.50,884.30 L547.00,883.51 L546.63,882.73 L546.50,881.94 L546.33,881.15 L545.88,880.37 L545.25,879.58 L544.62,878.79 L544.17,878.01 L544.00,877.22 L543.90,876.43 L543.62,875.65 L543.25,874.86 L542.88,874.07 L542.60,873.29 L542.50,872.50 L542.53,871.91 L542.62,871.32 L542.75,870.73 L542.88,870.14 L542.97,869.55 L543.00,868.96 L543.13,867.78 L543.50,866.60 L544.00,865.42 L544.50,864.24 L544.87,863.06 L545.00,861.88 L545.10,860.70 L545.38,859.52 L545.75,858.34 L546.12,857.16 L546.40,855.98 L546.50,854.80 L546.58,853.62 L546.80,852.44 L547.10,851.26 L547.40,850.08 L547.62,848.90 L547.70,847.72 L547.73,845.75 L547.83,843.79 L547.95,841.82 L548.08,839.85 L548.17,837.89 L548.20,835.92 L548.22,833.76 L548.27,831.59 L548.35,829.43 L548.42,827.27 L548.48,825.10 L548.50,822.94 Z" fill="#c4c4c8" fill-opacity="0.95"/>
<path d="M472.80,800.52 L472.85,801.70 L472.98,802.88 L473.15,804.06 L473.32,805.24 L473.45,806.42 L473.50,807.60 L473.51,808.78 L473.53,809.96 L473.55,811.14 L473.57,812.32 L473.59,813.50 L473.60,814.68 L473.57,815.66 L473.48,816.65 L473.35,817.63 L473.23,818.61 L473.13,819.60 L473.10,820.58 L473.08,821.05 L473.03,821.52 L472.95,822.00 L472.88,822.47 L472.82,822.94 L472.80,823.41 L472.80,823.41 L472.78,822.94 L472.73,822.47 L472.65,822.00 L472.57,821.52 L472.52,821.05 L472.50,820.58 L472.47,819.60 L472.38,818.61 L472.25,817.63 L472.12,816.65 L472.03,815.66 L472.00,814.68 L472.01,813.50 L472.03,812.32 L472.05,811.14 L472.07,809.96 L472.09,808.78 L472.10,807.60 L472.15,806.42 L472.28,805.24 L472.45,804.06 L472.62,802.88 L472.75,801.70 L472.80,800.52 Z" fill="#18b4e4" fill-opacity="0.6"/>
<path d="M348.2,781.0 V906.8 H559.5" stroke="#555" stroke-width="0.6" fill="none"/>
<path d="M345.2,784.00H348.2" stroke="#555" stroke-width="0.5"/>
<text x="342.3" y="786.80" font-size="7.8" fill="#2b2b2b" text-anchor="end">4</text>
<path d="M345.2,807.60H348.2" stroke="#555" stroke-width="0.5"/>
<text x="342.3" y="810.40" font-size="7.8" fill="#2b2b2b" text-anchor="end">3</text>
<path d="M345.2,831.20H348.2" stroke="#555" stroke-width="0.5"/>
<text x="342.3" y="834.00" font-size="7.8" fill="#2b2b2b" text-anchor="end">2</text>
<path d="M345.2,854.80H348.2" stroke="#555" stroke-width="0.5"/>
<text x="342.3" y="857.60" font-size="7.8" fill="#2b2b2b" text-anchor="end">1</text>
<path d="M345.2,878.40H348.2" stroke="#555" stroke-width="0.5"/>
<text x="342.3" y="881.20" font-size="7.8" fill="#2b2b2b" text-anchor="end">0</text>
<path d="M345.2,902.00H348.2" stroke="#555" stroke-width="0.5"/>
<text x="342.3" y="904.80" font-size="7.8" fill="#2b2b2b" text-anchor="end">−1</text>
<path d="M359.30,906.8v3.0" stroke="#555" stroke-width="0.5"/>
<text transform="translate(362.80,915.60) rotate(-45)" font-size="8.6" fill="#2b2b2b" text-anchor="end">B cells</text>
<path d="M378.20,906.8v3.0" stroke="#555" stroke-width="0.5"/>
<text transform="translate(381.70,915.60) rotate(-45)" font-size="8.6" fill="#2b2b2b" text-anchor="end">CD4<tspan dy="-3.27" font-size="5.16">+</tspan><tspan dy="3.27"> T cells</tspan></text>
<path d="M397.50,906.8v3.0" stroke="#555" stroke-width="0.5"/>
<text transform="translate(401.00,915.60) rotate(-45)" font-size="8.6" fill="#2b2b2b" text-anchor="end">CD8<tspan dy="-3.27" font-size="5.16">+</tspan><tspan dy="3.27"> T cells</tspan></text>
<path d="M415.60,906.8v3.0" stroke="#555" stroke-width="0.5"/>
<text transform="translate(419.10,915.60) rotate(-45)" font-size="8.6" fill="#2b2b2b" text-anchor="end">DCs</text>
<path d="M435.30,906.8v3.0" stroke="#555" stroke-width="0.5"/>
<text transform="translate(438.80,915.60) rotate(-45)" font-size="8.6" fill="#2b2b2b" text-anchor="end">GCs</text>
<path d="M453.90,906.8v3.0" stroke="#555" stroke-width="0.5"/>
<text transform="translate(457.40,915.60) rotate(-45)" font-size="8.6" fill="#2b2b2b" text-anchor="end">Macrophages</text>
<path d="M472.80,906.8v3.0" stroke="#555" stroke-width="0.5"/>
<text transform="translate(476.30,915.60) rotate(-45)" font-size="8.6" fill="#2b2b2b" text-anchor="end">Monocytes</text>
<path d="M491.70,906.8v3.0" stroke="#555" stroke-width="0.5"/>
<text transform="translate(495.20,915.60) rotate(-45)" font-size="8.6" fill="#2b2b2b" text-anchor="end">Neutrophils</text>
<path d="M511.00,906.8v3.0" stroke="#555" stroke-width="0.5"/>
<text transform="translate(514.50,915.60) rotate(-45)" font-size="8.6" fill="#2b2b2b" text-anchor="end">Other T cells</text>
<path d="M529.50,906.8v3.0" stroke="#555" stroke-width="0.5"/>
<text transform="translate(533.00,915.60) rotate(-45)" font-size="8.6" fill="#2b2b2b" text-anchor="end">Plasma cells</text>
<path d="M548.50,906.8v3.0" stroke="#555" stroke-width="0.5"/>
<text transform="translate(552.00,915.60) rotate(-45)" font-size="8.6" fill="#2b2b2b" text-anchor="end">Other cells</text>
<text x="453.9" y="784.4" font-size="10" fill="#2b2b2b" text-anchor="middle">IBD</text>
<text transform="translate(325.6,843.9) rotate(-90)" font-size="9.4" fill="#2b2b2b" text-anchor="middle">−log<tspan font-size="6.4" dy="2.2">10</tspan><tspan dy="-2.2">(FDR)</tspan></text>
<path d="M348.2,847.72H560.3" stroke="#e8474c" stroke-width="1.0" stroke-dasharray="4.6,2.4"/>
<text x="453.9" y="967.2" font-size="10.0" fill="#2b2b2b" text-anchor="middle">Cell types</text>
<text x="589.2" y="822.7" font-size="8.0" fill="#2b2b2b">Cell types</text>
<rect x="589.2" y="827.60" width="8.4" height="8.4" fill="#e36e68"/>
<text x="600.9" y="834.10" font-size="7.8" fill="#2b2b2b">B cells</text>
<rect x="589.2" y="837.85" width="8.4" height="8.4" fill="#d4861e"/>
<text x="600.9" y="844.35" font-size="7.8" fill="#2b2b2b">CD4<tspan dy="-2.96" font-size="4.68">+</tspan><tspan dy="2.96"> T cells</tspan></text>
<rect x="589.2" y="848.10" width="8.4" height="8.4" fill="#9c9424"/>
<text x="600.9" y="854.60" font-size="7.8" fill="#2b2b2b">CD8<tspan dy="-2.96" font-size="4.68">+</tspan><tspan dy="2.96"> T cells</tspan></text>
<rect x="589.2" y="858.35" width="8.4" height="8.4" fill="#4aa04a"/>
<text x="600.9" y="864.85" font-size="7.8" fill="#2b2b2b">DCs</text>
<rect x="589.2" y="868.60" width="8.4" height="8.4" fill="#17a85a"/>
<text x="600.9" y="875.10" font-size="7.8" fill="#2b2b2b">GCs</text>
<rect x="589.2" y="878.85" width="8.4" height="8.4" fill="#17a08a"/>
<text x="600.9" y="885.35" font-size="7.8" fill="#2b2b2b">Macrophages</text>
<rect x="589.2" y="889.10" width="8.4" height="8.4" fill="#d8d850"/>
<text x="600.9" y="895.60" font-size="7.8" fill="#2b2b2b">Microglia</text>
<rect x="589.2" y="899.35" width="8.4" height="8.4" fill="#18b0e0"/>
<text x="600.9" y="905.85" font-size="7.8" fill="#2b2b2b">Monocytes</text>
<rect x="589.2" y="909.60" width="8.4" height="8.4" fill="#2a86d0"/>
<text x="600.9" y="916.10" font-size="7.8" fill="#2b2b2b">Neutrophils</text>
<rect x="589.2" y="919.85" width="8.4" height="8.4" fill="#a060a8"/>
<text x="600.9" y="926.35" font-size="7.8" fill="#2b2b2b">Other T cells</text>
<rect x="589.2" y="930.10" width="8.4" height="8.4" fill="#e060a0"/>
<text x="600.9" y="936.60" font-size="7.8" fill="#2b2b2b">Plasma cells</text>
<rect x="589.2" y="940.35" width="8.4" height="8.4" fill="#c0c0c4"/>
<text x="600.9" y="946.85" font-size="7.8" fill="#2b2b2b">Other cells</text>
</svg>
</body></html>
